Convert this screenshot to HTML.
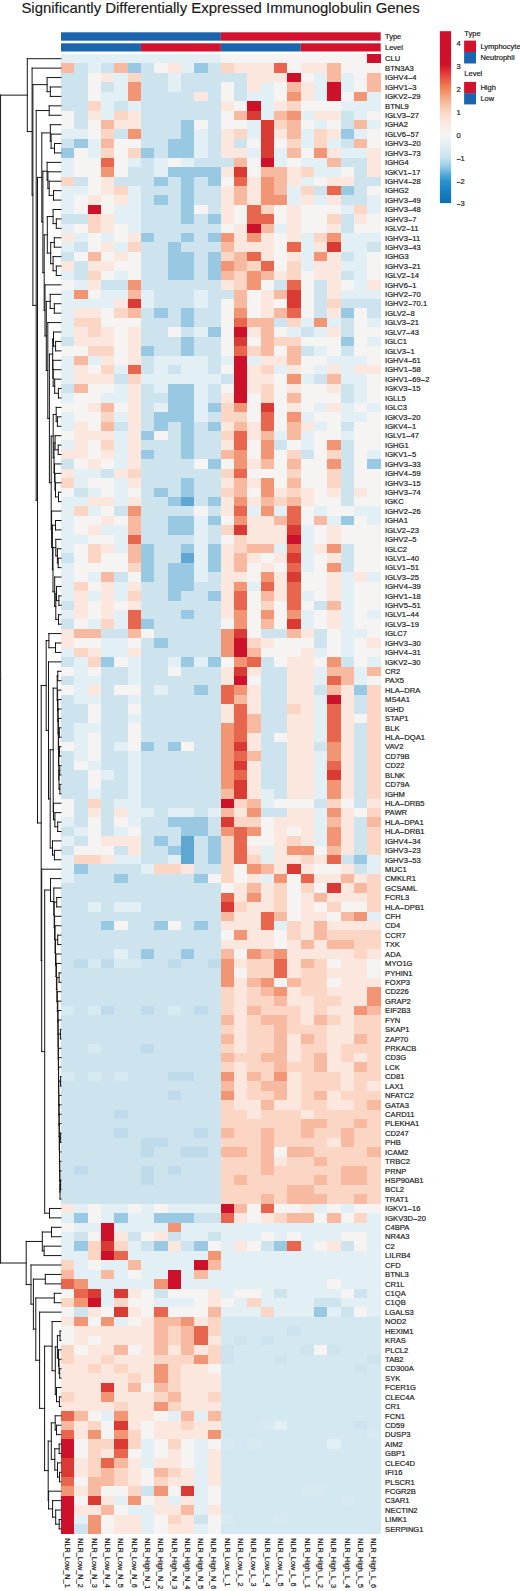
<!DOCTYPE html><html><head><meta charset="utf-8"><style>html,body{margin:0;padding:0;background:#fff;width:520px;height:1591px;overflow:hidden}text{font-family:"Liberation Sans",Arial,sans-serif}.s{font-size:7.5px;fill:#222;stroke:#222;stroke-width:.2px}.r{font-size:7.6px;fill:#222;stroke:#222;stroke-width:.2px}.c{font-size:7.3px;fill:#222;stroke:#222;stroke-width:.2px}.h{font-size:14.95px;fill:#1a1a1a;stroke:#1a1a1a;stroke-width:.15px}</style></head><body><svg width="520" height="1591" viewBox="0 0 520 1591" style="display:block">
<rect width="520" height="1591" fill="#fff"/>
<text x="21.4" y="13.4" class="h">Significantly Differentially Expressed Immunoglobulin Genes</text>
<rect x="61.0" y="32.3" width="159.85" height="8.4" fill="#1a65ae"/>
<rect x="220.85" y="32.3" width="159.85" height="8.4" fill="#d3132e"/>
<rect x="61.00" y="43.3" width="79.93" height="8.2" fill="#1a65ae"/>
<rect x="140.93" y="43.3" width="79.92" height="8.2" fill="#d3132e"/>
<rect x="220.85" y="43.3" width="79.92" height="8.2" fill="#1a65ae"/>
<rect x="300.77" y="43.3" width="79.93" height="8.2" fill="#d3132e"/>
<text x="385" y="39.2" class="s">Type</text>
<text x="385" y="50.1" class="s">Level</text>
<g shape-rendering="crispEdges">
<path fill="#e2eff5" d="M61 54H74.32V63.42H61zM74.32 54H87.64V63.42H74.32zM87.64 54H100.96V63.42H87.64zM100.96 54H114.28V63.42H100.96zM114.28 54H127.6V63.42H114.28zM127.6 54H140.93V63.42H127.6zM140.93 54H154.25V63.42H140.93zM154.25 54H167.57V63.42H154.25zM167.57 54H180.89V63.42H167.57zM180.89 54H194.21V63.42H180.89zM194.21 54H207.53V63.42H194.21zM207.53 54H220.85V63.42H207.53zM87.64 63.42H100.96V72.85H87.64zM180.89 63.42H194.21V72.85H180.89zM114.28 72.85H127.6V82.27H114.28zM167.57 72.85H180.89V82.27H167.57zM314.1 72.85H327.42V82.27H314.1zM340.74 72.85H354.06V82.27H340.74zM114.28 82.27H127.6V91.7H114.28zM167.57 82.27H180.89V91.7H167.57zM260.81 82.27H274.13V91.7H260.81zM314.1 82.27H327.42V91.7H314.1zM340.74 82.27H354.06V91.7H340.74zM100.96 91.7H114.28V101.12H100.96zM114.28 91.7H127.6V101.12H114.28zM247.49 91.7H260.81V101.12H247.49zM260.81 91.7H274.13V101.12H260.81zM314.1 91.7H327.42V101.12H314.1zM367.38 91.7H380.7V101.12H367.38zM100.96 101.12H114.28V110.55H100.96zM127.6 101.12H140.93V110.55H127.6zM260.81 101.12H274.13V110.55H260.81zM340.74 101.12H354.06V110.55H340.74zM354.06 101.12H367.38V110.55H354.06zM367.38 101.12H380.7V110.55H367.38zM100.96 110.55H114.28V119.97H100.96zM260.81 110.55H274.13V119.97H260.81zM300.77 110.55H314.1V119.97H300.77zM354.06 110.55H367.38V119.97H354.06zM247.49 119.97H260.81V129.39H247.49zM314.1 119.97H327.42V129.39H314.1zM367.38 119.97H380.7V129.39H367.38zM61 129.39H74.32V138.82H61zM74.32 129.39H87.64V138.82H74.32zM194.21 129.39H207.53V138.82H194.21zM247.49 129.39H260.81V138.82H247.49zM300.77 129.39H314.1V138.82H300.77zM354.06 129.39H367.38V138.82H354.06zM87.64 138.82H100.96V148.24H87.64zM194.21 138.82H207.53V148.24H194.21zM300.77 138.82H314.1V148.24H300.77zM327.42 138.82H340.74V148.24H327.42zM87.64 148.24H100.96V157.67H87.64zM194.21 148.24H207.53V157.67H194.21zM247.49 148.24H260.81V157.67H247.49zM274.13 148.24H287.45V157.67H274.13zM340.74 148.24H354.06V157.67H340.74zM354.06 148.24H367.38V157.67H354.06zM61 157.67H74.32V167.09H61zM127.6 157.67H140.93V167.09H127.6zM154.25 157.67H167.57V167.09H154.25zM180.89 157.67H194.21V167.09H180.89zM274.13 157.67H287.45V167.09H274.13zM300.77 157.67H314.1V167.09H300.77zM314.1 157.67H327.42V167.09H314.1zM61 167.09H74.32V176.51H61zM154.25 167.09H167.57V176.51H154.25zM314.1 167.09H327.42V176.51H314.1zM327.42 167.09H340.74V176.51H327.42zM300.77 176.51H314.1V185.94H300.77zM61 185.94H74.32V195.36H61zM74.32 185.94H87.64V195.36H74.32zM127.6 185.94H140.93V195.36H127.6zM287.45 185.94H300.77V195.36H287.45zM61 195.36H74.32V204.79H61zM127.6 195.36H140.93V204.79H127.6zM287.45 195.36H300.77V204.79H287.45zM314.1 195.36H327.42V204.79H314.1zM367.38 195.36H380.7V204.79H367.38zM61 204.79H74.32V214.21H61zM114.28 204.79H127.6V214.21H114.28zM127.6 204.79H140.93V214.21H127.6zM340.74 204.79H354.06V214.21H340.74zM367.38 204.79H380.7V214.21H367.38zM114.28 214.21H127.6V223.64H114.28zM127.6 214.21H140.93V223.64H127.6zM61 223.64H74.32V233.06H61zM127.6 223.64H140.93V233.06H127.6zM274.13 223.64H287.45V233.06H274.13zM74.32 233.06H87.64V242.48H74.32zM100.96 233.06H114.28V242.48H100.96zM300.77 233.06H314.1V242.48H300.77zM340.74 233.06H354.06V242.48H340.74zM354.06 233.06H367.38V242.48H354.06zM367.38 233.06H380.7V242.48H367.38zM61 242.48H74.32V251.91H61zM114.28 242.48H127.6V251.91H114.28zM300.77 242.48H314.1V251.91H300.77zM340.74 242.48H354.06V251.91H340.74zM354.06 242.48H367.38V251.91H354.06zM300.77 251.91H314.1V261.33H300.77zM354.06 251.91H367.38V261.33H354.06zM300.77 261.33H314.1V270.76H300.77zM340.74 261.33H354.06V270.76H340.74zM354.06 261.33H367.38V270.76H354.06zM61 270.76H74.32V280.18H61zM114.28 270.76H127.6V280.18H114.28zM354.06 270.76H367.38V280.18H354.06zM74.32 280.18H87.64V289.61H74.32zM354.06 280.18H367.38V289.61H354.06zM61 289.61H74.32V299.03H61zM100.96 289.61H114.28V299.03H100.96zM114.28 289.61H127.6V299.03H114.28zM140.93 289.61H154.25V299.03H140.93zM194.21 289.61H207.53V299.03H194.21zM340.74 289.61H354.06V299.03H340.74zM354.06 289.61H367.38V299.03H354.06zM367.38 289.61H380.7V299.03H367.38zM61 299.03H74.32V308.45H61zM74.32 299.03H87.64V308.45H74.32zM87.64 299.03H100.96V308.45H87.64zM100.96 299.03H114.28V308.45H100.96zM140.93 299.03H154.25V308.45H140.93zM194.21 299.03H207.53V308.45H194.21zM61 308.45H74.32V317.88H61zM61 317.88H74.32V327.3H61zM300.77 317.88H314.1V327.3H300.77zM327.42 317.88H340.74V327.3H327.42zM367.38 317.88H380.7V327.3H367.38zM61 327.3H74.32V336.73H61zM194.21 327.3H207.53V336.73H194.21zM287.45 327.3H300.77V336.73H287.45zM314.1 327.3H327.42V336.73H314.1zM367.38 336.73H380.7V346.15H367.38zM314.1 346.15H327.42V355.57H314.1zM61 355.57H74.32V365H61zM87.64 355.57H100.96V365H87.64zM154.25 355.57H167.57V365H154.25zM167.57 355.57H180.89V365H167.57zM180.89 355.57H194.21V365H180.89zM194.21 355.57H207.53V365H194.21zM220.85 355.57H234.17V365H220.85zM247.49 355.57H260.81V365H247.49zM327.42 355.57H340.74V365H327.42zM340.74 355.57H354.06V365H340.74zM354.06 355.57H367.38V365H354.06zM61 365H74.32V374.42H61zM114.28 365H127.6V374.42H114.28zM154.25 365H167.57V374.42H154.25zM180.89 365H194.21V374.42H180.89zM194.21 365H207.53V374.42H194.21zM274.13 365H287.45V374.42H274.13zM314.1 365H327.42V374.42H314.1zM340.74 365H354.06V374.42H340.74zM61 374.42H74.32V383.85H61zM140.93 374.42H154.25V383.85H140.93zM154.25 374.42H167.57V383.85H154.25zM167.57 374.42H180.89V383.85H167.57zM180.89 374.42H194.21V383.85H180.89zM194.21 374.42H207.53V383.85H194.21zM207.53 374.42H220.85V383.85H207.53zM300.77 374.42H314.1V383.85H300.77zM340.74 374.42H354.06V383.85H340.74zM354.06 374.42H367.38V383.85H354.06zM114.28 383.85H127.6V393.27H114.28zM154.25 383.85H167.57V393.27H154.25zM194.21 383.85H207.53V393.27H194.21zM354.06 383.85H367.38V393.27H354.06zM61 393.27H74.32V402.7H61zM100.96 393.27H114.28V402.7H100.96zM114.28 393.27H127.6V402.7H114.28zM194.21 393.27H207.53V402.7H194.21zM354.06 393.27H367.38V402.7H354.06zM154.25 402.7H167.57V412.12H154.25zM194.21 402.7H207.53V412.12H194.21zM314.1 402.7H327.42V412.12H314.1zM340.74 402.7H354.06V412.12H340.74zM367.38 402.7H380.7V412.12H367.38zM61 412.12H74.32V421.54H61zM114.28 412.12H127.6V421.54H114.28zM194.21 412.12H207.53V421.54H194.21zM300.77 412.12H314.1V421.54H300.77zM340.74 412.12H354.06V421.54H340.74zM354.06 412.12H367.38V421.54H354.06zM61 421.54H74.32V430.97H61zM314.1 421.54H327.42V430.97H314.1zM114.28 430.97H127.6V440.39H114.28zM274.13 430.97H287.45V440.39H274.13zM300.77 430.97H314.1V440.39H300.77zM340.74 430.97H354.06V440.39H340.74zM61 440.39H74.32V449.82H61zM114.28 440.39H127.6V449.82H114.28zM300.77 440.39H314.1V449.82H300.77zM114.28 449.82H127.6V459.24H114.28zM367.38 449.82H380.7V459.24H367.38zM114.28 459.24H127.6V468.66H114.28zM74.32 468.66H87.64V478.09H74.32zM87.64 468.66H100.96V478.09H87.64zM74.32 478.09H87.64V487.51H74.32zM114.28 478.09H127.6V487.51H114.28zM87.64 487.51H100.96V496.94H87.64zM114.28 487.51H127.6V496.94H114.28zM61 496.94H74.32V506.36H61zM74.32 496.94H87.64V506.36H74.32zM114.28 496.94H127.6V506.36H114.28zM61 506.36H74.32V515.79H61zM87.64 506.36H100.96V515.79H87.64zM247.49 506.36H260.81V515.79H247.49zM274.13 506.36H287.45V515.79H274.13zM314.1 506.36H327.42V515.79H314.1zM354.06 506.36H367.38V515.79H354.06zM367.38 506.36H380.7V515.79H367.38zM61 515.79H74.32V525.21H61zM194.21 515.79H207.53V525.21H194.21zM327.42 515.79H340.74V525.21H327.42zM367.38 515.79H380.7V525.21H367.38zM61 525.21H74.32V534.63H61zM100.96 525.21H114.28V534.63H100.96zM114.28 525.21H127.6V534.63H114.28zM194.21 525.21H207.53V534.63H194.21zM300.77 525.21H314.1V534.63H300.77zM61 534.63H74.32V544.06H61zM74.32 534.63H87.64V544.06H74.32zM114.28 534.63H127.6V544.06H114.28zM194.21 534.63H207.53V544.06H194.21zM300.77 534.63H314.1V544.06H300.77zM61 544.06H74.32V553.48H61zM114.28 544.06H127.6V553.48H114.28zM194.21 544.06H207.53V553.48H194.21zM274.13 544.06H287.45V553.48H274.13zM300.77 544.06H314.1V553.48H300.77zM194.21 553.48H207.53V562.91H194.21zM300.77 553.48H314.1V562.91H300.77zM61 562.91H74.32V572.33H61zM194.21 562.91H207.53V572.33H194.21zM300.77 562.91H314.1V572.33H300.77zM61 572.33H74.32V581.76H61zM87.64 572.33H100.96V581.76H87.64zM194.21 572.33H207.53V581.76H194.21zM340.74 572.33H354.06V581.76H340.74zM367.38 572.33H380.7V581.76H367.38zM61 581.76H74.32V591.18H61zM114.28 581.76H127.6V591.18H114.28zM247.49 581.76H260.81V591.18H247.49zM340.74 581.76H354.06V591.18H340.74zM61 591.18H74.32V600.6H61zM87.64 591.18H100.96V600.6H87.64zM114.28 591.18H127.6V600.6H114.28zM300.77 591.18H314.1V600.6H300.77zM340.74 591.18H354.06V600.6H340.74zM340.74 600.6H354.06V610.03H340.74zM61 610.03H74.32V619.45H61zM114.28 610.03H127.6V619.45H114.28zM300.77 610.03H314.1V619.45H300.77zM340.74 610.03H354.06V619.45H340.74zM367.38 610.03H380.7V619.45H367.38zM87.64 619.45H100.96V628.88H87.64zM114.28 619.45H127.6V628.88H114.28zM300.77 619.45H314.1V628.88H300.77zM340.74 619.45H354.06V628.88H340.74zM340.74 628.88H354.06V638.3H340.74zM354.06 628.88H367.38V638.3H354.06zM100.96 638.3H114.28V647.72H100.96zM114.28 638.3H127.6V647.72H114.28zM340.74 638.3H354.06V647.72H340.74zM61 647.72H74.32V657.15H61zM100.96 647.72H114.28V657.15H100.96zM114.28 647.72H127.6V657.15H114.28zM314.1 647.72H327.42V657.15H314.1zM340.74 647.72H354.06V657.15H340.74zM74.32 657.15H87.64V666.57H74.32zM127.6 657.15H140.93V666.57H127.6zM167.57 657.15H180.89V666.57H167.57zM194.21 657.15H207.53V666.57H194.21zM367.38 657.15H380.7V666.57H367.38zM74.32 666.57H87.64V676H74.32zM127.6 666.57H140.93V676H127.6zM314.1 666.57H327.42V676H314.1zM354.06 666.57H367.38V676H354.06zM74.32 676H87.64V685.42H74.32zM87.64 676H100.96V685.42H87.64zM127.6 676H140.93V685.42H127.6zM314.1 676H327.42V685.42H314.1zM354.06 676H367.38V685.42H354.06zM74.32 685.42H87.64V694.85H74.32zM154.25 685.42H167.57V694.85H154.25zM74.32 694.85H87.64V704.27H74.32zM87.64 694.85H100.96V704.27H87.64zM127.6 694.85H140.93V704.27H127.6zM314.1 694.85H327.42V704.27H314.1zM314.1 704.27H327.42V713.69H314.1zM127.6 713.69H140.93V723.12H127.6zM314.1 713.69H327.42V723.12H314.1zM74.32 723.12H87.64V732.54H74.32zM87.64 723.12H100.96V732.54H87.64zM314.1 723.12H327.42V732.54H314.1zM74.32 732.54H87.64V741.97H74.32zM314.1 732.54H327.42V741.97H314.1zM74.32 741.97H87.64V751.39H74.32zM114.28 741.97H127.6V751.39H114.28zM74.32 751.39H87.64V760.82H74.32zM127.6 751.39H140.93V760.82H127.6zM314.1 751.39H327.42V760.82H314.1zM87.64 760.82H100.96V770.24H87.64zM127.6 760.82H140.93V770.24H127.6zM314.1 760.82H327.42V770.24H314.1zM100.96 770.24H114.28V779.66H100.96zM127.6 770.24H140.93V779.66H127.6zM314.1 770.24H327.42V779.66H314.1zM127.6 779.66H140.93V789.09H127.6zM314.1 779.66H327.42V789.09H314.1zM87.64 789.09H100.96V798.51H87.64zM127.6 789.09H140.93V798.51H127.6zM260.81 789.09H274.13V798.51H260.81zM314.1 789.09H327.42V798.51H314.1zM114.28 798.51H127.6V807.94H114.28zM127.6 798.51H140.93V807.94H127.6zM260.81 798.51H274.13V807.94H260.81zM127.6 807.94H140.93V817.36H127.6zM140.93 807.94H154.25V817.36H140.93zM167.57 807.94H180.89V817.36H167.57zM180.89 807.94H194.21V817.36H180.89zM207.53 807.94H220.85V817.36H207.53zM314.1 807.94H327.42V817.36H314.1zM61 817.36H74.32V826.78H61zM127.6 817.36H140.93V826.78H127.6zM314.1 817.36H327.42V826.78H314.1zM74.32 826.78H87.64V836.21H74.32zM114.28 826.78H127.6V836.21H114.28zM314.1 826.78H327.42V836.21H314.1zM61 836.21H74.32V845.63H61zM314.1 836.21H327.42V845.63H314.1zM260.81 845.63H274.13V855.06H260.81zM61 855.06H74.32V864.48H61zM114.28 855.06H127.6V864.48H114.28zM127.6 855.06H140.93V864.48H127.6zM167.57 855.06H180.89V864.48H167.57zM260.81 855.06H274.13V864.48H260.81zM367.38 855.06H380.7V864.48H367.38zM61 864.48H74.32V873.91H61zM140.93 864.48H154.25V873.91H140.93zM367.38 864.48H380.7V873.91H367.38zM61 873.91H74.32V883.33H61zM260.81 873.91H274.13V883.33H260.81zM87.64 902.18H100.96V911.6H87.64zM114.28 902.18H127.6V911.6H114.28zM127.6 902.18H140.93V911.6H127.6zM367.38 911.6H380.7V921.03H367.38zM274.13 921.03H287.45V930.45H274.13zM114.28 949.3H127.6V958.72H114.28zM74.32 1203.75H87.64V1213.18H74.32zM100.96 1203.75H114.28V1213.18H100.96zM114.28 1203.75H127.6V1213.18H114.28zM140.93 1203.75H154.25V1213.18H140.93zM167.57 1203.75H180.89V1213.18H167.57zM180.89 1203.75H194.21V1213.18H180.89zM194.21 1203.75H207.53V1213.18H194.21zM207.53 1203.75H220.85V1213.18H207.53zM314.1 1203.75H327.42V1213.18H314.1zM340.74 1203.75H354.06V1213.18H340.74zM61 1213.18H74.32V1222.6H61zM100.96 1213.18H114.28V1222.6H100.96zM127.6 1213.18H140.93V1222.6H127.6zM140.93 1213.18H154.25V1222.6H140.93zM367.38 1213.18H380.7V1222.6H367.38zM74.32 1222.6H87.64V1232.03H74.32zM87.64 1222.6H100.96V1232.03H87.64zM114.28 1222.6H127.6V1232.03H114.28zM127.6 1222.6H140.93V1232.03H127.6zM140.93 1222.6H154.25V1232.03H140.93zM154.25 1222.6H167.57V1232.03H154.25zM180.89 1222.6H194.21V1232.03H180.89zM194.21 1222.6H207.53V1232.03H194.21zM207.53 1222.6H220.85V1232.03H207.53zM220.85 1222.6H234.17V1232.03H220.85zM234.17 1222.6H247.49V1232.03H234.17zM247.49 1222.6H260.81V1232.03H247.49zM260.81 1222.6H274.13V1232.03H260.81zM274.13 1222.6H287.45V1232.03H274.13zM287.45 1222.6H300.77V1232.03H287.45zM300.77 1222.6H314.1V1232.03H300.77zM314.1 1222.6H327.42V1232.03H314.1zM327.42 1222.6H340.74V1232.03H327.42zM340.74 1222.6H354.06V1232.03H340.74zM354.06 1222.6H367.38V1232.03H354.06zM367.38 1222.6H380.7V1232.03H367.38zM61 1232.03H74.32V1241.45H61zM180.89 1232.03H194.21V1241.45H180.89zM194.21 1232.03H207.53V1241.45H194.21zM220.85 1232.03H234.17V1241.45H220.85zM234.17 1232.03H247.49V1241.45H234.17zM247.49 1232.03H260.81V1241.45H247.49zM274.13 1232.03H287.45V1241.45H274.13zM300.77 1232.03H314.1V1241.45H300.77zM314.1 1232.03H327.42V1241.45H314.1zM327.42 1232.03H340.74V1241.45H327.42zM367.38 1232.03H380.7V1241.45H367.38zM61 1241.45H74.32V1250.87H61zM127.6 1241.45H140.93V1250.87H127.6zM220.85 1241.45H234.17V1250.87H220.85zM300.77 1241.45H314.1V1250.87H300.77zM367.38 1241.45H380.7V1250.87H367.38zM61 1250.87H74.32V1260.3H61zM74.32 1250.87H87.64V1260.3H74.32zM127.6 1250.87H140.93V1260.3H127.6zM140.93 1250.87H154.25V1260.3H140.93zM154.25 1250.87H167.57V1260.3H154.25zM167.57 1250.87H180.89V1260.3H167.57zM180.89 1250.87H194.21V1260.3H180.89zM194.21 1250.87H207.53V1260.3H194.21zM220.85 1250.87H234.17V1260.3H220.85zM234.17 1250.87H247.49V1260.3H234.17zM247.49 1250.87H260.81V1260.3H247.49zM260.81 1250.87H274.13V1260.3H260.81zM274.13 1250.87H287.45V1260.3H274.13zM287.45 1250.87H300.77V1260.3H287.45zM300.77 1250.87H314.1V1260.3H300.77zM314.1 1250.87H327.42V1260.3H314.1zM327.42 1250.87H340.74V1260.3H327.42zM340.74 1250.87H354.06V1260.3H340.74zM354.06 1250.87H367.38V1260.3H354.06zM367.38 1250.87H380.7V1260.3H367.38zM74.32 1260.3H87.64V1269.72H74.32zM100.96 1260.3H114.28V1269.72H100.96zM114.28 1260.3H127.6V1269.72H114.28zM140.93 1260.3H154.25V1269.72H140.93zM154.25 1260.3H167.57V1269.72H154.25zM167.57 1260.3H180.89V1269.72H167.57zM180.89 1260.3H194.21V1269.72H180.89zM220.85 1260.3H234.17V1269.72H220.85zM234.17 1260.3H247.49V1269.72H234.17zM247.49 1260.3H260.81V1269.72H247.49zM260.81 1260.3H274.13V1269.72H260.81zM274.13 1260.3H287.45V1269.72H274.13zM287.45 1260.3H300.77V1269.72H287.45zM300.77 1260.3H314.1V1269.72H300.77zM314.1 1260.3H327.42V1269.72H314.1zM327.42 1260.3H340.74V1269.72H327.42zM340.74 1260.3H354.06V1269.72H340.74zM354.06 1260.3H367.38V1269.72H354.06zM367.38 1260.3H380.7V1269.72H367.38zM74.32 1269.72H87.64V1279.15H74.32zM87.64 1269.72H100.96V1279.15H87.64zM114.28 1269.72H127.6V1279.15H114.28zM140.93 1269.72H154.25V1279.15H140.93zM154.25 1269.72H167.57V1279.15H154.25zM180.89 1269.72H194.21V1279.15H180.89zM207.53 1269.72H220.85V1279.15H207.53zM220.85 1269.72H234.17V1279.15H220.85zM234.17 1269.72H247.49V1279.15H234.17zM247.49 1269.72H260.81V1279.15H247.49zM260.81 1269.72H274.13V1279.15H260.81zM274.13 1269.72H287.45V1279.15H274.13zM287.45 1269.72H300.77V1279.15H287.45zM300.77 1269.72H314.1V1279.15H300.77zM314.1 1269.72H327.42V1279.15H314.1zM327.42 1269.72H340.74V1279.15H327.42zM340.74 1269.72H354.06V1279.15H340.74zM354.06 1269.72H367.38V1279.15H354.06zM367.38 1269.72H380.7V1279.15H367.38zM87.64 1279.15H100.96V1288.57H87.64zM100.96 1279.15H114.28V1288.57H100.96zM114.28 1279.15H127.6V1288.57H114.28zM127.6 1279.15H140.93V1288.57H127.6zM140.93 1279.15H154.25V1288.57H140.93zM180.89 1279.15H194.21V1288.57H180.89zM194.21 1279.15H207.53V1288.57H194.21zM207.53 1279.15H220.85V1288.57H207.53zM220.85 1279.15H234.17V1288.57H220.85zM234.17 1279.15H247.49V1288.57H234.17zM247.49 1279.15H260.81V1288.57H247.49zM260.81 1279.15H274.13V1288.57H260.81zM274.13 1279.15H287.45V1288.57H274.13zM287.45 1279.15H300.77V1288.57H287.45zM300.77 1279.15H314.1V1288.57H300.77zM314.1 1279.15H327.42V1288.57H314.1zM340.74 1279.15H354.06V1288.57H340.74zM354.06 1279.15H367.38V1288.57H354.06zM367.38 1279.15H380.7V1288.57H367.38zM100.96 1288.57H114.28V1297.99H100.96zM220.85 1288.57H234.17V1297.99H220.85zM260.81 1288.57H274.13V1297.99H260.81zM287.45 1288.57H300.77V1297.99H287.45zM300.77 1288.57H314.1V1297.99H300.77zM314.1 1288.57H327.42V1297.99H314.1zM327.42 1288.57H340.74V1297.99H327.42zM367.38 1288.57H380.7V1297.99H367.38zM100.96 1297.99H114.28V1307.42H100.96zM154.25 1297.99H167.57V1307.42H154.25zM167.57 1297.99H180.89V1307.42H167.57zM180.89 1297.99H194.21V1307.42H180.89zM234.17 1297.99H247.49V1307.42H234.17zM260.81 1297.99H274.13V1307.42H260.81zM274.13 1297.99H287.45V1307.42H274.13zM287.45 1297.99H300.77V1307.42H287.45zM300.77 1297.99H314.1V1307.42H300.77zM340.74 1297.99H354.06V1307.42H340.74zM354.06 1297.99H367.38V1307.42H354.06zM367.38 1297.99H380.7V1307.42H367.38zM220.85 1307.42H234.17V1316.84H220.85zM234.17 1307.42H247.49V1316.84H234.17zM247.49 1307.42H260.81V1316.84H247.49zM274.13 1307.42H287.45V1316.84H274.13zM287.45 1307.42H300.77V1316.84H287.45zM300.77 1307.42H314.1V1316.84H300.77zM327.42 1307.42H340.74V1316.84H327.42zM367.38 1307.42H380.7V1316.84H367.38zM114.28 1316.84H127.6V1326.27H114.28zM100.96 1411.09H114.28V1420.51H100.96zM167.57 1411.09H180.89V1420.51H167.57zM194.21 1411.09H207.53V1420.51H194.21zM274.13 1420.51H287.45V1429.93H274.13zM140.93 1439.36H154.25V1448.78H140.93zM194.21 1439.36H207.53V1448.78H194.21zM327.42 1439.36H340.74V1448.78H327.42zM140.93 1448.78H154.25V1458.21H140.93zM194.21 1448.78H207.53V1458.21H194.21zM140.93 1458.21H154.25V1467.63H140.93zM194.21 1458.21H207.53V1467.63H194.21zM194.21 1467.63H207.53V1477.05H194.21zM194.21 1477.05H207.53V1486.48H194.21zM194.21 1486.48H207.53V1495.9H194.21zM114.28 1495.9H127.6V1505.33H114.28zM167.57 1495.9H180.89V1505.33H167.57zM194.21 1495.9H207.53V1505.33H194.21zM127.6 1505.33H140.93V1514.75H127.6zM140.93 1505.33H154.25V1514.75H140.93zM194.21 1505.33H207.53V1514.75H194.21zM74.32 1514.75H87.64V1524.18H74.32zM140.93 1514.75H154.25V1524.18H140.93zM140.93 1524.18H154.25V1533.6H140.93zM194.21 1524.18H207.53V1533.6H194.21z"/>
<path fill="#f6f4f3" d="M220.85 54H234.17V63.42H220.85zM234.17 54H247.49V63.42H234.17zM247.49 54H260.81V63.42H247.49zM260.81 54H274.13V63.42H260.81zM274.13 54H287.45V63.42H274.13zM287.45 54H300.77V63.42H287.45zM300.77 54H314.1V63.42H300.77zM314.1 54H327.42V63.42H314.1zM327.42 54H340.74V63.42H327.42zM340.74 54H354.06V63.42H340.74zM354.06 54H367.38V63.42H354.06zM154.25 63.42H167.57V72.85H154.25zM287.45 63.42H300.77V72.85H287.45zM340.74 63.42H354.06V72.85H340.74zM354.06 63.42H367.38V72.85H354.06zM367.38 63.42H380.7V72.85H367.38zM87.64 72.85H100.96V82.27H87.64zM300.77 72.85H314.1V82.27H300.77zM354.06 72.85H367.38V82.27H354.06zM87.64 82.27H100.96V91.7H87.64zM220.85 82.27H234.17V91.7H220.85zM274.13 82.27H287.45V91.7H274.13zM354.06 82.27H367.38V91.7H354.06zM87.64 91.7H100.96V101.12H87.64zM220.85 91.7H234.17V101.12H220.85zM274.13 91.7H287.45V101.12H274.13zM340.74 91.7H354.06V101.12H340.74zM234.17 101.12H247.49V110.55H234.17zM300.77 101.12H314.1V110.55H300.77zM314.1 101.12H327.42V110.55H314.1zM327.42 101.12H340.74V110.55H327.42zM61 110.55H74.32V119.97H61zM220.85 110.55H234.17V119.97H220.85zM367.38 110.55H380.7V119.97H367.38zM61 119.97H74.32V129.39H61zM87.64 119.97H100.96V129.39H87.64zM194.21 119.97H207.53V129.39H194.21zM220.85 119.97H234.17V129.39H220.85zM234.17 119.97H247.49V129.39H234.17zM300.77 119.97H314.1V129.39H300.77zM327.42 119.97H340.74V129.39H327.42zM87.64 129.39H100.96V138.82H87.64zM367.38 129.39H380.7V138.82H367.38zM114.28 138.82H127.6V148.24H114.28zM127.6 138.82H140.93V148.24H127.6zM247.49 138.82H260.81V148.24H247.49zM274.13 138.82H287.45V148.24H274.13zM367.38 138.82H380.7V148.24H367.38zM74.32 148.24H87.64V157.67H74.32zM114.28 148.24H127.6V157.67H114.28zM300.77 148.24H314.1V157.67H300.77zM74.32 157.67H87.64V167.09H74.32zM87.64 157.67H100.96V167.09H87.64zM114.28 157.67H127.6V167.09H114.28zM167.57 157.67H180.89V167.09H167.57zM247.49 157.67H260.81V167.09H247.49zM287.45 157.67H300.77V167.09H287.45zM74.32 167.09H87.64V176.51H74.32zM87.64 167.09H100.96V176.51H87.64zM114.28 167.09H127.6V176.51H114.28zM247.49 167.09H260.81V176.51H247.49zM340.74 167.09H354.06V176.51H340.74zM87.64 176.51H100.96V185.94H87.64zM220.85 176.51H234.17V185.94H220.85zM314.1 176.51H327.42V185.94H314.1zM87.64 185.94H100.96V195.36H87.64zM367.38 185.94H380.7V195.36H367.38zM74.32 195.36H87.64V204.79H74.32zM100.96 195.36H114.28V204.79H100.96zM74.32 204.79H87.64V214.21H74.32zM100.96 204.79H114.28V214.21H100.96zM194.21 204.79H207.53V214.21H194.21zM234.17 204.79H247.49V214.21H234.17zM274.13 204.79H287.45V214.21H274.13zM300.77 204.79H314.1V214.21H300.77zM314.1 204.79H327.42V214.21H314.1zM327.42 204.79H340.74V214.21H327.42zM234.17 214.21H247.49V223.64H234.17zM274.13 214.21H287.45V223.64H274.13zM300.77 214.21H314.1V223.64H300.77zM314.1 214.21H327.42V223.64H314.1zM367.38 214.21H380.7V223.64H367.38zM74.32 223.64H87.64V233.06H74.32zM114.28 223.64H127.6V233.06H114.28zM220.85 223.64H234.17V233.06H220.85zM300.77 223.64H314.1V233.06H300.77zM314.1 223.64H327.42V233.06H314.1zM354.06 223.64H367.38V233.06H354.06zM367.38 223.64H380.7V233.06H367.38zM87.64 233.06H100.96V242.48H87.64zM114.28 233.06H127.6V242.48H114.28zM274.13 233.06H287.45V242.48H274.13zM87.64 242.48H100.96V251.91H87.64zM274.13 242.48H287.45V251.91H274.13zM74.32 251.91H87.64V261.33H74.32zM100.96 251.91H114.28V261.33H100.96zM127.6 251.91H140.93V261.33H127.6zM274.13 251.91H287.45V261.33H274.13zM367.38 251.91H380.7V261.33H367.38zM114.28 261.33H127.6V270.76H114.28zM127.6 261.33H140.93V270.76H127.6zM274.13 261.33H287.45V270.76H274.13zM367.38 261.33H380.7V270.76H367.38zM100.96 270.76H114.28V280.18H100.96zM127.6 270.76H140.93V280.18H127.6zM300.77 270.76H314.1V280.18H300.77zM367.38 270.76H380.7V280.18H367.38zM61 280.18H74.32V289.61H61zM260.81 280.18H274.13V289.61H260.81zM300.77 280.18H314.1V289.61H300.77zM340.74 280.18H354.06V289.61H340.74zM87.64 289.61H100.96V299.03H87.64zM247.49 289.61H260.81V299.03H247.49zM300.77 289.61H314.1V299.03H300.77zM220.85 299.03H234.17V308.45H220.85zM247.49 299.03H260.81V308.45H247.49zM274.13 299.03H287.45V308.45H274.13zM300.77 299.03H314.1V308.45H300.77zM100.96 308.45H114.28V317.88H100.96zM220.85 308.45H234.17V317.88H220.85zM247.49 308.45H260.81V317.88H247.49zM300.77 308.45H314.1V317.88H300.77zM354.06 308.45H367.38V317.88H354.06zM100.96 317.88H114.28V327.3H100.96zM114.28 317.88H127.6V327.3H114.28zM127.6 317.88H140.93V327.3H127.6zM220.85 317.88H234.17V327.3H220.85zM354.06 317.88H367.38V327.3H354.06zM114.28 327.3H127.6V336.73H114.28zM167.57 327.3H180.89V336.73H167.57zM220.85 327.3H234.17V336.73H220.85zM274.13 327.3H287.45V336.73H274.13zM354.06 327.3H367.38V336.73H354.06zM367.38 327.3H380.7V336.73H367.38zM114.28 336.73H127.6V346.15H114.28zM220.85 336.73H234.17V346.15H220.85zM247.49 336.73H260.81V346.15H247.49zM300.77 336.73H314.1V346.15H300.77zM314.1 336.73H327.42V346.15H314.1zM327.42 336.73H340.74V346.15H327.42zM354.06 336.73H367.38V346.15H354.06zM61 346.15H74.32V355.57H61zM74.32 346.15H87.64V355.57H74.32zM114.28 346.15H127.6V355.57H114.28zM220.85 346.15H234.17V355.57H220.85zM274.13 346.15H287.45V355.57H274.13zM327.42 346.15H340.74V355.57H327.42zM354.06 346.15H367.38V355.57H354.06zM367.38 346.15H380.7V355.57H367.38zM114.28 355.57H127.6V365H114.28zM300.77 355.57H314.1V365H300.77zM314.1 355.57H327.42V365H314.1zM367.38 355.57H380.7V365H367.38zM87.64 365H100.96V374.42H87.64zM220.85 365H234.17V374.42H220.85zM300.77 365H314.1V374.42H300.77zM274.13 374.42H287.45V383.85H274.13zM367.38 374.42H380.7V383.85H367.38zM87.64 383.85H100.96V393.27H87.64zM100.96 383.85H114.28V393.27H100.96zM220.85 383.85H234.17V393.27H220.85zM274.13 383.85H287.45V393.27H274.13zM300.77 383.85H314.1V393.27H300.77zM314.1 383.85H327.42V393.27H314.1zM367.38 383.85H380.7V393.27H367.38zM74.32 393.27H87.64V402.7H74.32zM87.64 393.27H100.96V402.7H87.64zM247.49 393.27H260.81V402.7H247.49zM274.13 393.27H287.45V402.7H274.13zM300.77 393.27H314.1V402.7H300.77zM314.1 393.27H327.42V402.7H314.1zM327.42 393.27H340.74V402.7H327.42zM367.38 393.27H380.7V402.7H367.38zM61 402.7H74.32V412.12H61zM74.32 402.7H87.64V412.12H74.32zM114.28 402.7H127.6V412.12H114.28zM247.49 402.7H260.81V412.12H247.49zM274.13 402.7H287.45V412.12H274.13zM300.77 402.7H314.1V412.12H300.77zM354.06 402.7H367.38V412.12H354.06zM74.32 412.12H87.64V421.54H74.32zM87.64 412.12H100.96V421.54H87.64zM247.49 412.12H260.81V421.54H247.49zM274.13 412.12H287.45V421.54H274.13zM314.1 412.12H327.42V421.54H314.1zM327.42 412.12H340.74V421.54H327.42zM367.38 412.12H380.7V421.54H367.38zM87.64 421.54H100.96V430.97H87.64zM274.13 421.54H287.45V430.97H274.13zM327.42 421.54H340.74V430.97H327.42zM354.06 421.54H367.38V430.97H354.06zM367.38 421.54H380.7V430.97H367.38zM61 430.97H74.32V440.39H61zM154.25 430.97H167.57V440.39H154.25zM314.1 430.97H327.42V440.39H314.1zM327.42 430.97H340.74V440.39H327.42zM354.06 430.97H367.38V440.39H354.06zM367.38 430.97H380.7V440.39H367.38zM87.64 440.39H100.96V449.82H87.64zM247.49 440.39H260.81V449.82H247.49zM287.45 440.39H300.77V449.82H287.45zM314.1 440.39H327.42V449.82H314.1zM354.06 440.39H367.38V449.82H354.06zM367.38 440.39H380.7V449.82H367.38zM87.64 449.82H100.96V459.24H87.64zM247.49 449.82H260.81V459.24H247.49zM274.13 449.82H287.45V459.24H274.13zM314.1 449.82H327.42V459.24H314.1zM354.06 449.82H367.38V459.24H354.06zM74.32 459.24H87.64V468.66H74.32zM100.96 459.24H114.28V468.66H100.96zM194.21 459.24H207.53V468.66H194.21zM220.85 459.24H234.17V468.66H220.85zM274.13 459.24H287.45V468.66H274.13zM300.77 459.24H314.1V468.66H300.77zM314.1 459.24H327.42V468.66H314.1zM354.06 459.24H367.38V468.66H354.06zM247.49 468.66H260.81V478.09H247.49zM260.81 468.66H274.13V478.09H260.81zM274.13 468.66H287.45V478.09H274.13zM300.77 468.66H314.1V478.09H300.77zM314.1 468.66H327.42V478.09H314.1zM354.06 468.66H367.38V478.09H354.06zM367.38 468.66H380.7V478.09H367.38zM87.64 478.09H100.96V487.51H87.64zM100.96 478.09H114.28V487.51H100.96zM274.13 478.09H287.45V487.51H274.13zM300.77 478.09H314.1V487.51H300.77zM314.1 478.09H327.42V487.51H314.1zM354.06 478.09H367.38V487.51H354.06zM367.38 478.09H380.7V487.51H367.38zM61 487.51H74.32V496.94H61zM100.96 487.51H114.28V496.94H100.96zM127.6 487.51H140.93V496.94H127.6zM247.49 487.51H260.81V496.94H247.49zM314.1 487.51H327.42V496.94H314.1zM367.38 487.51H380.7V496.94H367.38zM314.1 496.94H327.42V506.36H314.1zM327.42 496.94H340.74V506.36H327.42zM354.06 496.94H367.38V506.36H354.06zM367.38 496.94H380.7V506.36H367.38zM100.96 506.36H114.28V515.79H100.96zM194.21 506.36H207.53V515.79H194.21zM300.77 506.36H314.1V515.79H300.77zM327.42 506.36H340.74V515.79H327.42zM340.74 506.36H354.06V515.79H340.74zM74.32 515.79H87.64V525.21H74.32zM87.64 515.79H100.96V525.21H87.64zM114.28 515.79H127.6V525.21H114.28zM220.85 515.79H234.17V525.21H220.85zM300.77 515.79H314.1V525.21H300.77zM354.06 515.79H367.38V525.21H354.06zM74.32 525.21H87.64V534.63H74.32zM314.1 525.21H327.42V534.63H314.1zM340.74 525.21H354.06V534.63H340.74zM354.06 525.21H367.38V534.63H354.06zM367.38 525.21H380.7V534.63H367.38zM87.64 534.63H100.96V544.06H87.64zM100.96 534.63H114.28V544.06H100.96zM220.85 534.63H234.17V544.06H220.85zM314.1 534.63H327.42V544.06H314.1zM340.74 534.63H354.06V544.06H340.74zM354.06 534.63H367.38V544.06H354.06zM367.38 534.63H380.7V544.06H367.38zM74.32 544.06H87.64V553.48H74.32zM354.06 544.06H367.38V553.48H354.06zM367.38 544.06H380.7V553.48H367.38zM74.32 553.48H87.64V562.91H74.32zM100.96 553.48H114.28V562.91H100.96zM114.28 553.48H127.6V562.91H114.28zM260.81 553.48H274.13V562.91H260.81zM314.1 553.48H327.42V562.91H314.1zM354.06 553.48H367.38V562.91H354.06zM367.38 553.48H380.7V562.91H367.38zM74.32 562.91H87.64V572.33H74.32zM87.64 562.91H100.96V572.33H87.64zM100.96 562.91H114.28V572.33H100.96zM114.28 562.91H127.6V572.33H114.28zM247.49 562.91H260.81V572.33H247.49zM274.13 562.91H287.45V572.33H274.13zM314.1 562.91H327.42V572.33H314.1zM354.06 562.91H367.38V572.33H354.06zM367.38 562.91H380.7V572.33H367.38zM74.32 572.33H87.64V581.76H74.32zM127.6 572.33H140.93V581.76H127.6zM247.49 572.33H260.81V581.76H247.49zM300.77 572.33H314.1V581.76H300.77zM314.1 572.33H327.42V581.76H314.1zM87.64 581.76H100.96V591.18H87.64zM300.77 581.76H314.1V591.18H300.77zM314.1 581.76H327.42V591.18H314.1zM354.06 581.76H367.38V591.18H354.06zM367.38 581.76H380.7V591.18H367.38zM247.49 591.18H260.81V600.6H247.49zM314.1 591.18H327.42V600.6H314.1zM354.06 591.18H367.38V600.6H354.06zM367.38 591.18H380.7V600.6H367.38zM87.64 600.6H100.96V610.03H87.64zM114.28 600.6H127.6V610.03H114.28zM247.49 600.6H260.81V610.03H247.49zM274.13 600.6H287.45V610.03H274.13zM300.77 600.6H314.1V610.03H300.77zM354.06 600.6H367.38V610.03H354.06zM367.38 600.6H380.7V610.03H367.38zM87.64 610.03H100.96V619.45H87.64zM247.49 610.03H260.81V619.45H247.49zM274.13 610.03H287.45V619.45H274.13zM314.1 610.03H327.42V619.45H314.1zM354.06 610.03H367.38V619.45H354.06zM74.32 619.45H87.64V628.88H74.32zM220.85 619.45H234.17V628.88H220.85zM247.49 619.45H260.81V628.88H247.49zM274.13 619.45H287.45V628.88H274.13zM314.1 619.45H327.42V628.88H314.1zM354.06 619.45H367.38V628.88H354.06zM367.38 619.45H380.7V628.88H367.38zM140.93 628.88H154.25V638.3H140.93zM247.49 628.88H260.81V638.3H247.49zM327.42 628.88H340.74V638.3H327.42zM367.38 628.88H380.7V638.3H367.38zM74.32 638.3H87.64V647.72H74.32zM87.64 638.3H100.96V647.72H87.64zM127.6 638.3H140.93V647.72H127.6zM274.13 638.3H287.45V647.72H274.13zM287.45 638.3H300.77V647.72H287.45zM300.77 638.3H314.1V647.72H300.77zM327.42 638.3H340.74V647.72H327.42zM354.06 638.3H367.38V647.72H354.06zM260.81 647.72H274.13V657.15H260.81zM274.13 647.72H287.45V657.15H274.13zM287.45 647.72H300.77V657.15H287.45zM327.42 647.72H340.74V657.15H327.42zM354.06 647.72H367.38V657.15H354.06zM367.38 647.72H380.7V657.15H367.38zM114.28 657.15H127.6V666.57H114.28zM220.85 657.15H234.17V666.57H220.85zM274.13 657.15H287.45V666.57H274.13zM314.1 657.15H327.42V666.57H314.1zM354.06 657.15H367.38V666.57H354.06zM61 666.57H74.32V676H61zM87.64 666.57H100.96V676H87.64zM167.57 666.57H180.89V676H167.57zM247.49 676H260.81V685.42H247.49zM367.38 676H380.7V685.42H367.38zM61 685.42H74.32V694.85H61zM114.28 685.42H127.6V694.85H114.28zM127.6 685.42H140.93V694.85H127.6zM87.64 704.27H100.96V713.69H87.64zM127.6 704.27H140.93V713.69H127.6zM87.64 713.69H100.96V723.12H87.64zM354.06 713.69H367.38V723.12H354.06zM127.6 723.12H140.93V732.54H127.6zM87.64 732.54H100.96V741.97H87.64zM127.6 732.54H140.93V741.97H127.6zM274.13 732.54H287.45V741.97H274.13zM61 741.97H74.32V751.39H61zM87.64 741.97H100.96V751.39H87.64zM127.6 741.97H140.93V751.39H127.6zM180.89 741.97H194.21V751.39H180.89zM87.64 751.39H100.96V760.82H87.64zM74.32 760.82H87.64V770.24H74.32zM87.64 770.24H100.96V779.66H87.64zM87.64 779.66H100.96V789.09H87.64zM61 798.51H74.32V807.94H61zM274.13 798.51H287.45V807.94H274.13zM287.45 798.51H300.77V807.94H287.45zM300.77 798.51H314.1V807.94H300.77zM340.74 798.51H354.06V807.94H340.74zM61 807.94H74.32V817.36H61zM354.06 807.94H367.38V817.36H354.06zM87.64 817.36H100.96V826.78H87.64zM114.28 817.36H127.6V826.78H114.28zM260.81 817.36H274.13V826.78H260.81zM87.64 826.78H100.96V836.21H87.64zM127.6 826.78H140.93V836.21H127.6zM260.81 826.78H274.13V836.21H260.81zM287.45 826.78H300.77V836.21H287.45zM87.64 836.21H100.96V845.63H87.64zM247.49 836.21H260.81V845.63H247.49zM260.81 836.21H274.13V845.63H260.81zM74.32 845.63H87.64V855.06H74.32zM87.64 845.63H100.96V855.06H87.64zM100.96 845.63H114.28V855.06H100.96zM314.1 845.63H327.42V855.06H314.1zM234.17 864.48H247.49V873.91H234.17zM314.1 864.48H327.42V873.91H314.1zM327.42 864.48H340.74V873.91H327.42zM207.53 873.91H220.85V883.33H207.53zM234.17 873.91H247.49V883.33H234.17zM287.45 873.91H300.77V883.33H287.45zM220.85 883.33H234.17V892.75H220.85zM287.45 883.33H300.77V892.75H287.45zM314.1 883.33H327.42V892.75H314.1zM287.45 892.75H300.77V902.18H287.45zM287.45 902.18H300.77V911.6H287.45zM314.1 902.18H327.42V911.6H314.1zM340.74 902.18H354.06V911.6H340.74zM354.06 902.18H367.38V911.6H354.06zM287.45 911.6H300.77V921.03H287.45zM327.42 911.6H340.74V921.03H327.42zM114.28 921.03H127.6V930.45H114.28zM167.57 921.03H180.89V930.45H167.57zM220.85 930.45H234.17V939.88H220.85zM274.13 930.45H287.45V939.88H274.13zM274.13 939.88H287.45V949.3H274.13zM234.17 949.3H247.49V958.72H234.17zM327.42 958.72H340.74V968.15H327.42zM367.38 958.72H380.7V968.15H367.38zM234.17 968.15H247.49V977.57H234.17zM367.38 968.15H380.7V977.57H367.38zM274.13 977.57H287.45V987H274.13zM327.42 977.57H340.74V987H327.42zM274.13 1147.21H287.45V1156.63H274.13zM87.64 1203.75H100.96V1213.18H87.64zM127.6 1203.75H140.93V1213.18H127.6zM154.25 1203.75H167.57V1213.18H154.25zM247.49 1203.75H260.81V1213.18H247.49zM274.13 1203.75H287.45V1213.18H274.13zM287.45 1203.75H300.77V1213.18H287.45zM327.42 1203.75H340.74V1213.18H327.42zM354.06 1203.75H367.38V1213.18H354.06zM367.38 1203.75H380.7V1213.18H367.38zM87.64 1213.18H100.96V1222.6H87.64zM247.49 1213.18H260.81V1222.6H247.49zM314.1 1213.18H327.42V1222.6H314.1zM340.74 1213.18H354.06V1222.6H340.74zM61 1222.6H74.32V1232.03H61zM87.64 1232.03H100.96V1241.45H87.64zM140.93 1232.03H154.25V1241.45H140.93zM260.81 1232.03H274.13V1241.45H260.81zM287.45 1232.03H300.77V1241.45H287.45zM340.74 1232.03H354.06V1241.45H340.74zM354.06 1232.03H367.38V1241.45H354.06zM207.53 1241.45H220.85V1250.87H207.53zM247.49 1241.45H260.81V1250.87H247.49zM314.1 1241.45H327.42V1250.87H314.1zM354.06 1241.45H367.38V1250.87H354.06zM87.64 1260.3H100.96V1269.72H87.64zM127.6 1269.72H140.93V1279.15H127.6zM327.42 1279.15H340.74V1288.57H327.42zM61 1288.57H74.32V1297.99H61zM140.93 1288.57H154.25V1297.99H140.93zM167.57 1288.57H180.89V1297.99H167.57zM180.89 1288.57H194.21V1297.99H180.89zM194.21 1288.57H207.53V1297.99H194.21zM234.17 1288.57H247.49V1297.99H234.17zM247.49 1288.57H260.81V1297.99H247.49zM340.74 1288.57H354.06V1297.99H340.74zM127.6 1297.99H140.93V1307.42H127.6zM140.93 1297.99H154.25V1307.42H140.93zM194.21 1297.99H207.53V1307.42H194.21zM220.85 1297.99H234.17V1307.42H220.85zM61 1307.42H74.32V1316.84H61zM100.96 1307.42H114.28V1316.84H100.96zM140.93 1307.42H154.25V1316.84H140.93zM167.57 1307.42H180.89V1316.84H167.57zM180.89 1307.42H194.21V1316.84H180.89zM194.21 1307.42H207.53V1316.84H194.21zM354.06 1307.42H367.38V1316.84H354.06zM87.64 1316.84H100.96V1326.27H87.64zM127.6 1316.84H140.93V1326.27H127.6zM61 1326.27H74.32V1335.69H61zM61 1335.69H74.32V1345.12H61zM87.64 1335.69H100.96V1345.12H87.64zM74.32 1345.12H87.64V1354.54H74.32zM127.6 1345.12H140.93V1354.54H127.6zM314.1 1345.12H327.42V1354.54H314.1zM207.53 1363.96H220.85V1373.39H207.53zM140.93 1382.81H154.25V1392.24H140.93zM87.64 1411.09H100.96V1420.51H87.64zM154.25 1411.09H167.57V1420.51H154.25zM100.96 1420.51H114.28V1429.93H100.96zM140.93 1420.51H154.25V1429.93H140.93zM100.96 1429.93H114.28V1439.36H100.96zM140.93 1429.93H154.25V1439.36H140.93zM74.32 1439.36H87.64V1448.78H74.32zM154.25 1439.36H167.57V1448.78H154.25zM180.89 1439.36H194.21V1448.78H180.89zM207.53 1439.36H220.85V1448.78H207.53zM74.32 1448.78H87.64V1458.21H74.32zM127.6 1448.78H140.93V1458.21H127.6zM154.25 1448.78H167.57V1458.21H154.25zM180.89 1448.78H194.21V1458.21H180.89zM180.89 1458.21H194.21V1467.63H180.89zM140.93 1467.63H154.25V1477.05H140.93zM74.32 1477.05H87.64V1486.48H74.32zM140.93 1477.05H154.25V1486.48H140.93zM100.96 1486.48H114.28V1495.9H100.96zM114.28 1486.48H127.6V1495.9H114.28zM167.57 1486.48H180.89V1495.9H167.57zM207.53 1486.48H220.85V1495.9H207.53zM74.32 1495.9H87.64V1505.33H74.32zM140.93 1495.9H154.25V1505.33H140.93zM207.53 1495.9H220.85V1505.33H207.53zM114.28 1505.33H127.6V1514.75H114.28zM100.96 1514.75H114.28V1524.18H100.96zM154.25 1514.75H167.57V1524.18H154.25zM207.53 1514.75H220.85V1524.18H207.53zM100.96 1524.18H114.28V1533.6H100.96zM154.25 1524.18H167.57V1533.6H154.25zM207.53 1524.18H220.85V1533.6H207.53z"/>
<path fill="#cd112b" d="M367.38 54H380.7V63.42H367.38zM287.45 72.85H300.77V82.27H287.45zM327.42 82.27H340.74V91.7H327.42zM327.42 91.7H340.74V101.12H327.42zM247.49 101.12H260.81V110.55H247.49zM260.81 157.67H274.13V167.09H260.81zM87.64 204.79H100.96V214.21H87.64zM247.49 223.64H260.81V233.06H247.49zM234.17 327.3H247.49V336.73H234.17zM234.17 355.57H247.49V365H234.17zM234.17 365H247.49V374.42H234.17zM234.17 374.42H247.49V383.85H234.17zM234.17 383.85H247.49V393.27H234.17zM234.17 393.27H247.49V402.7H234.17zM287.45 534.63H300.77V544.06H287.45zM234.17 638.3H247.49V647.72H234.17zM234.17 647.72H247.49V657.15H234.17zM234.17 676H247.49V685.42H234.17zM327.42 694.85H340.74V704.27H327.42zM220.85 798.51H234.17V807.94H220.85zM220.85 1203.75H234.17V1213.18H220.85zM100.96 1222.6H114.28V1232.03H100.96zM100.96 1232.03H114.28V1241.45H100.96zM100.96 1250.87H114.28V1260.3H100.96zM194.21 1260.3H207.53V1269.72H194.21zM167.57 1269.72H180.89V1279.15H167.57zM167.57 1279.15H180.89V1288.57H167.57zM87.64 1297.99H100.96V1307.42H87.64zM61 1439.36H74.32V1448.78H61zM61 1448.78H74.32V1458.21H61zM61 1495.9H74.32V1505.33H61zM61 1505.33H74.32V1514.75H61zM61 1514.75H74.32V1524.18H61zM61 1524.18H74.32V1533.6H61z"/>
<path fill="#f7b99f" d="M61 63.42H74.32V72.85H61zM114.28 63.42H127.6V72.85H114.28zM327.42 63.42H340.74V72.85H327.42zM327.42 72.85H340.74V82.27H327.42zM367.38 72.85H380.7V82.27H367.38zM287.45 82.27H300.77V91.7H287.45zM367.38 82.27H380.7V91.7H367.38zM234.17 110.55H247.49V119.97H234.17zM274.13 110.55H287.45V119.97H274.13zM100.96 119.97H114.28V129.39H100.96zM287.45 119.97H300.77V129.39H287.45zM354.06 119.97H367.38V129.39H354.06zM287.45 129.39H300.77V138.82H287.45zM100.96 138.82H114.28V148.24H100.96zM354.06 138.82H367.38V148.24H354.06zM287.45 148.24H300.77V157.67H287.45zM234.17 157.67H247.49V167.09H234.17zM327.42 157.67H340.74V167.09H327.42zM260.81 167.09H274.13V176.51H260.81zM274.13 167.09H287.45V176.51H274.13zM274.13 176.51H287.45V185.94H274.13zM234.17 185.94H247.49V195.36H234.17zM274.13 185.94H287.45V195.36H274.13zM234.17 195.36H247.49V204.79H234.17zM260.81 223.64H274.13V233.06H260.81zM220.85 242.48H234.17V251.91H220.85zM87.64 251.91H100.96V261.33H87.64zM234.17 251.91H247.49V261.33H234.17zM234.17 261.33H247.49V270.76H234.17zM220.85 270.76H234.17V280.18H220.85zM260.81 270.76H274.13V280.18H260.81zM127.6 289.61H140.93V299.03H127.6zM234.17 289.61H247.49V299.03H234.17zM274.13 289.61H287.45V299.03H274.13zM234.17 299.03H247.49V308.45H234.17zM127.6 308.45H140.93V317.88H127.6zM274.13 308.45H287.45V317.88H274.13zM247.49 317.88H260.81V327.3H247.49zM260.81 317.88H274.13V327.3H260.81zM260.81 327.3H274.13V336.73H260.81zM260.81 336.73H274.13V346.15H260.81zM260.81 346.15H274.13V355.57H260.81zM287.45 346.15H300.77V355.57H287.45zM74.32 355.57H87.64V365H74.32zM287.45 355.57H300.77V365H287.45zM327.42 374.42H340.74V383.85H327.42zM74.32 383.85H87.64V393.27H74.32zM287.45 393.27H300.77V402.7H287.45zM100.96 402.7H114.28V412.12H100.96zM100.96 421.54H114.28V430.97H100.96zM234.17 421.54H247.49V430.97H234.17zM287.45 421.54H300.77V430.97H287.45zM260.81 430.97H274.13V440.39H260.81zM287.45 430.97H300.77V440.39H287.45zM220.85 449.82H234.17V459.24H220.85zM260.81 459.24H274.13V468.66H260.81zM287.45 459.24H300.77V468.66H287.45zM234.17 478.09H247.49V487.51H234.17zM287.45 478.09H300.77V487.51H287.45zM234.17 487.51H247.49V496.94H234.17zM260.81 496.94H274.13V506.36H260.81zM287.45 496.94H300.77V506.36H287.45zM127.6 515.79H140.93V525.21H127.6zM274.13 515.79H287.45V525.21H274.13zM314.1 515.79H327.42V525.21H314.1zM127.6 525.21H140.93V534.63H127.6zM127.6 544.06H140.93V553.48H127.6zM247.49 544.06H260.81V553.48H247.49zM260.81 544.06H274.13V553.48H260.81zM127.6 553.48H140.93V562.91H127.6zM234.17 553.48H247.49V562.91H234.17zM234.17 562.91H247.49V572.33H234.17zM100.96 572.33H114.28V581.76H100.96zM260.81 591.18H274.13V600.6H260.81zM327.42 600.6H340.74V610.03H327.42zM260.81 619.45H274.13V628.88H260.81zM74.32 628.88H87.64V638.3H74.32zM87.64 628.88H100.96V638.3H87.64zM127.6 628.88H140.93V638.3H127.6zM287.45 628.88H300.77V638.3H287.45zM247.49 647.72H260.81V657.15H247.49zM327.42 666.57H340.74V676H327.42zM340.74 666.57H354.06V676H340.74zM367.38 666.57H380.7V676H367.38zM340.74 676H354.06V685.42H340.74zM327.42 685.42H340.74V694.85H327.42zM234.17 694.85H247.49V704.27H234.17zM247.49 713.69H260.81V723.12H247.49zM247.49 723.12H260.81V732.54H247.49zM247.49 751.39H260.81V760.82H247.49zM220.85 789.09H234.17V798.51H220.85zM247.49 798.51H260.81V807.94H247.49zM220.85 807.94H234.17V817.36H220.85zM327.42 817.36H340.74V826.78H327.42zM367.38 817.36H380.7V826.78H367.38zM327.42 845.63H340.74V855.06H327.42zM260.81 864.48H274.13V873.91H260.81zM340.74 873.91H354.06V883.33H340.74zM247.49 883.33H260.81V892.75H247.49zM354.06 883.33H367.38V892.75H354.06zM314.1 892.75H327.42V902.18H314.1zM220.85 911.6H234.17V921.03H220.85zM274.13 911.6H287.45V921.03H274.13zM340.74 911.6H354.06V921.03H340.74zM314.1 921.03H327.42V930.45H314.1zM314.1 930.45H327.42V939.88H314.1zM300.77 939.88H314.1V949.3H300.77zM327.42 939.88H340.74V949.3H327.42zM340.74 939.88H354.06V949.3H340.74zM220.85 949.3H234.17V958.72H220.85zM260.81 949.3H274.13V958.72H260.81zM300.77 958.72H314.1V968.15H300.77zM247.49 977.57H260.81V987H247.49zM287.45 977.57H300.77V987H287.45zM260.81 987H274.13V996.42H260.81zM274.13 996.42H287.45V1005.84H274.13zM247.49 1005.84H260.81V1015.27H247.49zM367.38 1005.84H380.7V1015.27H367.38zM220.85 1015.27H234.17V1024.69H220.85zM260.81 1015.27H274.13V1024.69H260.81zM274.13 1015.27H287.45V1024.69H274.13zM314.1 1015.27H327.42V1024.69H314.1zM274.13 1024.69H287.45V1034.12H274.13zM220.85 1034.12H234.17V1043.54H220.85zM274.13 1034.12H287.45V1043.54H274.13zM300.77 1034.12H314.1V1043.54H300.77zM354.06 1034.12H367.38V1043.54H354.06zM274.13 1043.54H287.45V1052.97H274.13zM220.85 1052.97H234.17V1062.39H220.85zM260.81 1052.97H274.13V1062.39H260.81zM274.13 1052.97H287.45V1062.39H274.13zM314.1 1052.97H327.42V1062.39H314.1zM274.13 1062.39H287.45V1071.81H274.13zM314.1 1062.39H327.42V1071.81H314.1zM354.06 1062.39H367.38V1071.81H354.06zM247.49 1071.81H260.81V1081.24H247.49zM220.85 1081.24H234.17V1090.66H220.85zM260.81 1081.24H274.13V1090.66H260.81zM274.13 1081.24H287.45V1090.66H274.13zM274.13 1090.66H287.45V1100.09H274.13zM314.1 1090.66H327.42V1100.09H314.1zM260.81 1100.09H274.13V1109.51H260.81zM367.38 1100.09H380.7V1109.51H367.38zM300.77 1118.94H314.1V1128.36H300.77zM314.1 1118.94H327.42V1128.36H314.1zM354.06 1118.94H367.38V1128.36H354.06zM220.85 1128.36H234.17V1137.78H220.85zM260.81 1128.36H274.13V1137.78H260.81zM300.77 1128.36H314.1V1137.78H300.77zM340.74 1128.36H354.06V1137.78H340.74zM260.81 1137.78H274.13V1147.21H260.81zM340.74 1137.78H354.06V1147.21H340.74zM220.85 1147.21H234.17V1156.63H220.85zM234.17 1147.21H247.49V1156.63H234.17zM260.81 1147.21H274.13V1156.63H260.81zM287.45 1147.21H300.77V1156.63H287.45zM300.77 1147.21H314.1V1156.63H300.77zM367.38 1147.21H380.7V1156.63H367.38zM260.81 1156.63H274.13V1166.06H260.81zM314.1 1156.63H327.42V1166.06H314.1zM260.81 1166.06H274.13V1175.48H260.81zM340.74 1166.06H354.06V1175.48H340.74zM354.06 1166.06H367.38V1175.48H354.06zM234.17 1175.48H247.49V1184.9H234.17zM314.1 1175.48H327.42V1184.9H314.1zM340.74 1175.48H354.06V1184.9H340.74zM354.06 1175.48H367.38V1184.9H354.06zM287.45 1184.9H300.77V1194.33H287.45zM300.77 1184.9H314.1V1194.33H300.77zM260.81 1194.33H274.13V1203.75H260.81zM287.45 1194.33H300.77V1203.75H287.45zM300.77 1194.33H314.1V1203.75H300.77zM314.1 1194.33H327.42V1203.75H314.1zM354.06 1194.33H367.38V1203.75H354.06zM234.17 1203.75H247.49V1213.18H234.17zM287.45 1213.18H300.77V1222.6H287.45zM300.77 1213.18H314.1V1222.6H300.77zM327.42 1213.18H340.74V1222.6H327.42zM127.6 1260.3H140.93V1269.72H127.6zM207.53 1260.3H220.85V1269.72H207.53zM61 1269.72H74.32V1279.15H61zM100.96 1269.72H114.28V1279.15H100.96zM194.21 1269.72H207.53V1279.15H194.21zM207.53 1307.42H220.85V1316.84H207.53zM154.25 1316.84H167.57V1326.27H154.25zM167.57 1316.84H180.89V1326.27H167.57zM154.25 1326.27H167.57V1335.69H154.25zM180.89 1326.27H194.21V1335.69H180.89zM154.25 1335.69H167.57V1345.12H154.25zM180.89 1335.69H194.21V1345.12H180.89zM114.28 1345.12H127.6V1354.54H114.28zM154.25 1345.12H167.57V1354.54H154.25zM180.89 1345.12H194.21V1354.54H180.89zM127.6 1382.81H140.93V1392.24H127.6zM154.25 1382.81H167.57V1392.24H154.25zM167.57 1392.24H180.89V1401.66H167.57zM74.32 1411.09H87.64V1420.51H74.32zM180.89 1411.09H194.21V1420.51H180.89zM207.53 1411.09H220.85V1420.51H207.53zM61 1420.51H74.32V1429.93H61zM114.28 1458.21H127.6V1467.63H114.28zM100.96 1467.63H114.28V1477.05H100.96zM154.25 1467.63H167.57V1477.05H154.25zM87.64 1477.05H100.96V1486.48H87.64zM100.96 1477.05H114.28V1486.48H100.96zM87.64 1486.48H100.96V1495.9H87.64zM100.96 1505.33H114.28V1514.75H100.96zM180.89 1505.33H194.21V1514.75H180.89z"/>
<path fill="#cde4ef" d="M74.32 63.42H87.64V72.85H74.32zM100.96 63.42H114.28V72.85H100.96zM140.93 63.42H154.25V72.85H140.93zM207.53 63.42H220.85V72.85H207.53zM61 72.85H74.32V82.27H61zM74.32 72.85H87.64V82.27H74.32zM140.93 72.85H154.25V82.27H140.93zM154.25 72.85H167.57V82.27H154.25zM180.89 72.85H194.21V82.27H180.89zM194.21 72.85H207.53V82.27H194.21zM207.53 72.85H220.85V82.27H207.53zM220.85 72.85H234.17V82.27H220.85zM234.17 72.85H247.49V82.27H234.17zM61 82.27H74.32V91.7H61zM74.32 82.27H87.64V91.7H74.32zM100.96 82.27H114.28V91.7H100.96zM140.93 82.27H154.25V91.7H140.93zM154.25 82.27H167.57V91.7H154.25zM180.89 82.27H194.21V91.7H180.89zM194.21 82.27H207.53V91.7H194.21zM207.53 82.27H220.85V91.7H207.53zM234.17 82.27H247.49V91.7H234.17zM61 91.7H74.32V101.12H61zM74.32 91.7H87.64V101.12H74.32zM140.93 91.7H154.25V101.12H140.93zM154.25 91.7H167.57V101.12H154.25zM167.57 91.7H180.89V101.12H167.57zM180.89 91.7H194.21V101.12H180.89zM207.53 91.7H220.85V101.12H207.53zM234.17 91.7H247.49V101.12H234.17zM61 101.12H74.32V110.55H61zM74.32 101.12H87.64V110.55H74.32zM114.28 101.12H127.6V110.55H114.28zM140.93 101.12H154.25V110.55H140.93zM154.25 101.12H167.57V110.55H154.25zM167.57 101.12H180.89V110.55H167.57zM180.89 101.12H194.21V110.55H180.89zM194.21 101.12H207.53V110.55H194.21zM207.53 101.12H220.85V110.55H207.53zM74.32 110.55H87.64V119.97H74.32zM140.93 110.55H154.25V119.97H140.93zM154.25 110.55H167.57V119.97H154.25zM167.57 110.55H180.89V119.97H167.57zM180.89 110.55H194.21V119.97H180.89zM194.21 110.55H207.53V119.97H194.21zM207.53 110.55H220.85V119.97H207.53zM340.74 110.55H354.06V119.97H340.74zM74.32 119.97H87.64V129.39H74.32zM140.93 119.97H154.25V129.39H140.93zM154.25 119.97H167.57V129.39H154.25zM167.57 119.97H180.89V129.39H167.57zM207.53 119.97H220.85V129.39H207.53zM340.74 119.97H354.06V129.39H340.74zM114.28 129.39H127.6V138.82H114.28zM140.93 129.39H154.25V138.82H140.93zM154.25 129.39H167.57V138.82H154.25zM167.57 129.39H180.89V138.82H167.57zM207.53 129.39H220.85V138.82H207.53zM61 138.82H74.32V148.24H61zM140.93 138.82H154.25V148.24H140.93zM154.25 138.82H167.57V148.24H154.25zM207.53 138.82H220.85V148.24H207.53zM234.17 138.82H247.49V148.24H234.17zM340.74 138.82H354.06V148.24H340.74zM154.25 148.24H167.57V157.67H154.25zM207.53 148.24H220.85V157.67H207.53zM140.93 157.67H154.25V167.09H140.93zM194.21 157.67H207.53V167.09H194.21zM207.53 157.67H220.85V167.09H207.53zM220.85 157.67H234.17V167.09H220.85zM340.74 157.67H354.06V167.09H340.74zM354.06 157.67H367.38V167.09H354.06zM127.6 167.09H140.93V176.51H127.6zM140.93 167.09H154.25V176.51H140.93zM354.06 167.09H367.38V176.51H354.06zM74.32 176.51H87.64V185.94H74.32zM114.28 176.51H127.6V185.94H114.28zM127.6 176.51H140.93V185.94H127.6zM140.93 176.51H154.25V185.94H140.93zM167.57 176.51H180.89V185.94H167.57zM194.21 176.51H207.53V185.94H194.21zM354.06 176.51H367.38V185.94H354.06zM367.38 176.51H380.7V185.94H367.38zM140.93 185.94H154.25V195.36H140.93zM154.25 185.94H167.57V195.36H154.25zM167.57 185.94H180.89V195.36H167.57zM194.21 185.94H207.53V195.36H194.21zM207.53 185.94H220.85V195.36H207.53zM314.1 185.94H327.42V195.36H314.1zM354.06 185.94H367.38V195.36H354.06zM140.93 195.36H154.25V204.79H140.93zM167.57 195.36H180.89V204.79H167.57zM194.21 195.36H207.53V204.79H194.21zM207.53 195.36H220.85V204.79H207.53zM340.74 195.36H354.06V204.79H340.74zM354.06 195.36H367.38V204.79H354.06zM140.93 204.79H154.25V214.21H140.93zM154.25 204.79H167.57V214.21H154.25zM167.57 204.79H180.89V214.21H167.57zM207.53 204.79H220.85V214.21H207.53zM61 214.21H74.32V223.64H61zM74.32 214.21H87.64V223.64H74.32zM140.93 214.21H154.25V223.64H140.93zM154.25 214.21H167.57V223.64H154.25zM167.57 214.21H180.89V223.64H167.57zM194.21 214.21H207.53V223.64H194.21zM340.74 214.21H354.06V223.64H340.74zM140.93 223.64H154.25V233.06H140.93zM154.25 223.64H167.57V233.06H154.25zM167.57 223.64H180.89V233.06H167.57zM180.89 223.64H194.21V233.06H180.89zM194.21 223.64H207.53V233.06H194.21zM207.53 223.64H220.85V233.06H207.53zM340.74 223.64H354.06V233.06H340.74zM154.25 233.06H167.57V242.48H154.25zM167.57 233.06H180.89V242.48H167.57zM194.21 233.06H207.53V242.48H194.21zM74.32 242.48H87.64V251.91H74.32zM140.93 242.48H154.25V251.91H140.93zM154.25 242.48H167.57V251.91H154.25zM180.89 242.48H194.21V251.91H180.89zM194.21 242.48H207.53V251.91H194.21zM207.53 242.48H220.85V251.91H207.53zM367.38 242.48H380.7V251.91H367.38zM61 251.91H74.32V261.33H61zM140.93 251.91H154.25V261.33H140.93zM154.25 251.91H167.57V261.33H154.25zM194.21 251.91H207.53V261.33H194.21zM340.74 251.91H354.06V261.33H340.74zM74.32 261.33H87.64V270.76H74.32zM140.93 261.33H154.25V270.76H140.93zM154.25 261.33H167.57V270.76H154.25zM194.21 261.33H207.53V270.76H194.21zM74.32 270.76H87.64V280.18H74.32zM140.93 270.76H154.25V280.18H140.93zM154.25 270.76H167.57V280.18H154.25zM194.21 270.76H207.53V280.18H194.21zM340.74 270.76H354.06V280.18H340.74zM100.96 280.18H114.28V289.61H100.96zM114.28 280.18H127.6V289.61H114.28zM140.93 280.18H154.25V289.61H140.93zM154.25 280.18H167.57V289.61H154.25zM167.57 280.18H180.89V289.61H167.57zM180.89 280.18H194.21V289.61H180.89zM194.21 280.18H207.53V289.61H194.21zM207.53 280.18H220.85V289.61H207.53zM274.13 280.18H287.45V289.61H274.13zM314.1 280.18H327.42V289.61H314.1zM154.25 289.61H167.57V299.03H154.25zM167.57 289.61H180.89V299.03H167.57zM180.89 289.61H194.21V299.03H180.89zM207.53 289.61H220.85V299.03H207.53zM220.85 289.61H234.17V299.03H220.85zM314.1 289.61H327.42V299.03H314.1zM154.25 299.03H167.57V308.45H154.25zM167.57 299.03H180.89V308.45H167.57zM180.89 299.03H194.21V308.45H180.89zM207.53 299.03H220.85V308.45H207.53zM314.1 299.03H327.42V308.45H314.1zM340.74 299.03H354.06V308.45H340.74zM354.06 299.03H367.38V308.45H354.06zM367.38 299.03H380.7V308.45H367.38zM140.93 308.45H154.25V317.88H140.93zM167.57 308.45H180.89V317.88H167.57zM194.21 308.45H207.53V317.88H194.21zM207.53 308.45H220.85V317.88H207.53zM314.1 308.45H327.42V317.88H314.1zM367.38 308.45H380.7V317.88H367.38zM140.93 317.88H154.25V327.3H140.93zM154.25 317.88H167.57V327.3H154.25zM167.57 317.88H180.89V327.3H167.57zM194.21 317.88H207.53V327.3H194.21zM207.53 317.88H220.85V327.3H207.53zM274.13 317.88H287.45V327.3H274.13zM340.74 317.88H354.06V327.3H340.74zM140.93 327.3H154.25V336.73H140.93zM154.25 327.3H167.57V336.73H154.25zM180.89 327.3H194.21V336.73H180.89zM300.77 327.3H314.1V336.73H300.77zM340.74 327.3H354.06V336.73H340.74zM61 336.73H74.32V346.15H61zM140.93 336.73H154.25V346.15H140.93zM154.25 336.73H167.57V346.15H154.25zM167.57 336.73H180.89V346.15H167.57zM194.21 336.73H207.53V346.15H194.21zM207.53 336.73H220.85V346.15H207.53zM154.25 346.15H167.57V355.57H154.25zM167.57 346.15H180.89V355.57H167.57zM194.21 346.15H207.53V355.57H194.21zM207.53 346.15H220.85V355.57H207.53zM300.77 346.15H314.1V355.57H300.77zM340.74 346.15H354.06V355.57H340.74zM140.93 355.57H154.25V365H140.93zM207.53 355.57H220.85V365H207.53zM140.93 365H154.25V374.42H140.93zM167.57 365H180.89V374.42H167.57zM207.53 365H220.85V374.42H207.53zM114.28 374.42H127.6V383.85H114.28zM220.85 374.42H234.17V383.85H220.85zM314.1 374.42H327.42V383.85H314.1zM61 383.85H74.32V393.27H61zM140.93 383.85H154.25V393.27H140.93zM207.53 383.85H220.85V393.27H207.53zM340.74 383.85H354.06V393.27H340.74zM140.93 393.27H154.25V402.7H140.93zM154.25 393.27H167.57V402.7H154.25zM207.53 393.27H220.85V402.7H207.53zM340.74 393.27H354.06V402.7H340.74zM140.93 402.7H154.25V412.12H140.93zM140.93 412.12H154.25V421.54H140.93zM207.53 412.12H220.85V421.54H207.53zM114.28 421.54H127.6V430.97H114.28zM140.93 421.54H154.25V430.97H140.93zM167.57 421.54H180.89V430.97H167.57zM194.21 421.54H207.53V430.97H194.21zM340.74 421.54H354.06V430.97H340.74zM167.57 430.97H180.89V440.39H167.57zM194.21 430.97H207.53V440.39H194.21zM207.53 430.97H220.85V440.39H207.53zM140.93 440.39H154.25V449.82H140.93zM154.25 440.39H167.57V449.82H154.25zM167.57 440.39H180.89V449.82H167.57zM194.21 440.39H207.53V449.82H194.21zM207.53 440.39H220.85V449.82H207.53zM274.13 440.39H287.45V449.82H274.13zM340.74 440.39H354.06V449.82H340.74zM154.25 449.82H167.57V459.24H154.25zM167.57 449.82H180.89V459.24H167.57zM194.21 449.82H207.53V459.24H194.21zM207.53 449.82H220.85V459.24H207.53zM300.77 449.82H314.1V459.24H300.77zM340.74 449.82H354.06V459.24H340.74zM61 459.24H74.32V468.66H61zM140.93 459.24H154.25V468.66H140.93zM154.25 459.24H167.57V468.66H154.25zM167.57 459.24H180.89V468.66H167.57zM180.89 459.24H194.21V468.66H180.89zM340.74 459.24H354.06V468.66H340.74zM100.96 468.66H114.28V478.09H100.96zM140.93 468.66H154.25V478.09H140.93zM154.25 468.66H167.57V478.09H154.25zM167.57 468.66H180.89V478.09H167.57zM180.89 468.66H194.21V478.09H180.89zM194.21 468.66H207.53V478.09H194.21zM207.53 468.66H220.85V478.09H207.53zM340.74 468.66H354.06V478.09H340.74zM140.93 478.09H154.25V487.51H140.93zM154.25 478.09H167.57V487.51H154.25zM167.57 478.09H180.89V487.51H167.57zM194.21 478.09H207.53V487.51H194.21zM207.53 478.09H220.85V487.51H207.53zM340.74 478.09H354.06V487.51H340.74zM74.32 487.51H87.64V496.94H74.32zM140.93 487.51H154.25V496.94H140.93zM167.57 487.51H180.89V496.94H167.57zM194.21 487.51H207.53V496.94H194.21zM207.53 487.51H220.85V496.94H207.53zM340.74 487.51H354.06V496.94H340.74zM140.93 496.94H154.25V506.36H140.93zM154.25 496.94H167.57V506.36H154.25zM194.21 496.94H207.53V506.36H194.21zM340.74 496.94H354.06V506.36H340.74zM114.28 506.36H127.6V515.79H114.28zM140.93 506.36H154.25V515.79H140.93zM154.25 506.36H167.57V515.79H154.25zM167.57 506.36H180.89V515.79H167.57zM180.89 506.36H194.21V515.79H180.89zM207.53 506.36H220.85V515.79H207.53zM140.93 515.79H154.25V525.21H140.93zM154.25 515.79H167.57V525.21H154.25zM140.93 525.21H154.25V534.63H140.93zM154.25 525.21H167.57V534.63H154.25zM207.53 525.21H220.85V534.63H207.53zM140.93 534.63H154.25V544.06H140.93zM154.25 534.63H167.57V544.06H154.25zM167.57 534.63H180.89V544.06H167.57zM180.89 534.63H194.21V544.06H180.89zM207.53 534.63H220.85V544.06H207.53zM154.25 544.06H167.57V553.48H154.25zM167.57 544.06H180.89V553.48H167.57zM340.74 544.06H354.06V553.48H340.74zM61 553.48H74.32V562.91H61zM154.25 553.48H167.57V562.91H154.25zM167.57 553.48H180.89V562.91H167.57zM340.74 553.48H354.06V562.91H340.74zM154.25 562.91H167.57V572.33H154.25zM340.74 562.91H354.06V572.33H340.74zM114.28 572.33H127.6V581.76H114.28zM154.25 572.33H167.57V581.76H154.25zM207.53 572.33H220.85V581.76H207.53zM140.93 581.76H154.25V591.18H140.93zM154.25 581.76H167.57V591.18H154.25zM194.21 581.76H207.53V591.18H194.21zM207.53 581.76H220.85V591.18H207.53zM140.93 591.18H154.25V600.6H140.93zM154.25 591.18H167.57V600.6H154.25zM180.89 591.18H194.21V600.6H180.89zM194.21 591.18H207.53V600.6H194.21zM61 600.6H74.32V610.03H61zM140.93 600.6H154.25V610.03H140.93zM154.25 600.6H167.57V610.03H154.25zM167.57 600.6H180.89V610.03H167.57zM180.89 600.6H194.21V610.03H180.89zM194.21 600.6H207.53V610.03H194.21zM207.53 600.6H220.85V610.03H207.53zM314.1 600.6H327.42V610.03H314.1zM140.93 610.03H154.25V619.45H140.93zM154.25 610.03H167.57V619.45H154.25zM167.57 610.03H180.89V619.45H167.57zM194.21 610.03H207.53V619.45H194.21zM207.53 610.03H220.85V619.45H207.53zM61 619.45H74.32V628.88H61zM154.25 619.45H167.57V628.88H154.25zM167.57 619.45H180.89V628.88H167.57zM180.89 619.45H194.21V628.88H180.89zM194.21 619.45H207.53V628.88H194.21zM207.53 619.45H220.85V628.88H207.53zM100.96 628.88H114.28V638.3H100.96zM114.28 628.88H127.6V638.3H114.28zM154.25 628.88H167.57V638.3H154.25zM167.57 628.88H180.89V638.3H167.57zM180.89 628.88H194.21V638.3H180.89zM194.21 628.88H207.53V638.3H194.21zM207.53 628.88H220.85V638.3H207.53zM260.81 628.88H274.13V638.3H260.81zM274.13 628.88H287.45V638.3H274.13zM314.1 628.88H327.42V638.3H314.1zM140.93 638.3H154.25V647.72H140.93zM167.57 638.3H180.89V647.72H167.57zM180.89 638.3H194.21V647.72H180.89zM194.21 638.3H207.53V647.72H194.21zM207.53 638.3H220.85V647.72H207.53zM314.1 638.3H327.42V647.72H314.1zM140.93 647.72H154.25V657.15H140.93zM154.25 647.72H167.57V657.15H154.25zM167.57 647.72H180.89V657.15H167.57zM180.89 647.72H194.21V657.15H180.89zM194.21 647.72H207.53V657.15H194.21zM207.53 647.72H220.85V657.15H207.53zM61 657.15H74.32V666.57H61zM140.93 657.15H154.25V666.57H140.93zM154.25 657.15H167.57V666.57H154.25zM260.81 657.15H274.13V666.57H260.81zM340.74 657.15H354.06V666.57H340.74zM100.96 666.57H114.28V676H100.96zM114.28 666.57H127.6V676H114.28zM140.93 666.57H154.25V676H140.93zM154.25 666.57H167.57V676H154.25zM180.89 666.57H194.21V676H180.89zM194.21 666.57H207.53V676H194.21zM207.53 666.57H220.85V676H207.53zM260.81 666.57H274.13V676H260.81zM274.13 666.57H287.45V676H274.13zM61 676H74.32V685.42H61zM100.96 676H114.28V685.42H100.96zM114.28 676H127.6V685.42H114.28zM140.93 676H154.25V685.42H140.93zM154.25 676H167.57V685.42H154.25zM167.57 676H180.89V685.42H167.57zM180.89 676H194.21V685.42H180.89zM194.21 676H207.53V685.42H194.21zM207.53 676H220.85V685.42H207.53zM260.81 676H274.13V685.42H260.81zM274.13 676H287.45V685.42H274.13zM100.96 685.42H114.28V694.85H100.96zM140.93 685.42H154.25V694.85H140.93zM167.57 685.42H180.89V694.85H167.57zM180.89 685.42H194.21V694.85H180.89zM207.53 685.42H220.85V694.85H207.53zM260.81 685.42H274.13V694.85H260.81zM274.13 685.42H287.45V694.85H274.13zM314.1 685.42H327.42V694.85H314.1zM61 694.85H74.32V704.27H61zM100.96 694.85H114.28V704.27H100.96zM114.28 694.85H127.6V704.27H114.28zM140.93 694.85H154.25V704.27H140.93zM154.25 694.85H167.57V704.27H154.25zM167.57 694.85H180.89V704.27H167.57zM180.89 694.85H194.21V704.27H180.89zM194.21 694.85H207.53V704.27H194.21zM207.53 694.85H220.85V704.27H207.53zM260.81 694.85H274.13V704.27H260.81zM274.13 694.85H287.45V704.27H274.13zM354.06 694.85H367.38V704.27H354.06zM61 704.27H74.32V713.69H61zM74.32 704.27H87.64V713.69H74.32zM100.96 704.27H114.28V713.69H100.96zM114.28 704.27H127.6V713.69H114.28zM140.93 704.27H154.25V713.69H140.93zM154.25 704.27H167.57V713.69H154.25zM167.57 704.27H180.89V713.69H167.57zM180.89 704.27H194.21V713.69H180.89zM194.21 704.27H207.53V713.69H194.21zM207.53 704.27H220.85V713.69H207.53zM260.81 704.27H274.13V713.69H260.81zM274.13 704.27H287.45V713.69H274.13zM354.06 704.27H367.38V713.69H354.06zM61 713.69H74.32V723.12H61zM74.32 713.69H87.64V723.12H74.32zM100.96 713.69H114.28V723.12H100.96zM114.28 713.69H127.6V723.12H114.28zM140.93 713.69H154.25V723.12H140.93zM154.25 713.69H167.57V723.12H154.25zM167.57 713.69H180.89V723.12H167.57zM180.89 713.69H194.21V723.12H180.89zM194.21 713.69H207.53V723.12H194.21zM207.53 713.69H220.85V723.12H207.53zM260.81 713.69H274.13V723.12H260.81zM274.13 713.69H287.45V723.12H274.13zM61 723.12H74.32V732.54H61zM100.96 723.12H114.28V732.54H100.96zM114.28 723.12H127.6V732.54H114.28zM140.93 723.12H154.25V732.54H140.93zM154.25 723.12H167.57V732.54H154.25zM167.57 723.12H180.89V732.54H167.57zM180.89 723.12H194.21V732.54H180.89zM194.21 723.12H207.53V732.54H194.21zM207.53 723.12H220.85V732.54H207.53zM260.81 723.12H274.13V732.54H260.81zM274.13 723.12H287.45V732.54H274.13zM354.06 723.12H367.38V732.54H354.06zM61 732.54H74.32V741.97H61zM100.96 732.54H114.28V741.97H100.96zM114.28 732.54H127.6V741.97H114.28zM140.93 732.54H154.25V741.97H140.93zM154.25 732.54H167.57V741.97H154.25zM167.57 732.54H180.89V741.97H167.57zM180.89 732.54H194.21V741.97H180.89zM194.21 732.54H207.53V741.97H194.21zM207.53 732.54H220.85V741.97H207.53zM260.81 732.54H274.13V741.97H260.81zM354.06 732.54H367.38V741.97H354.06zM100.96 741.97H114.28V751.39H100.96zM154.25 741.97H167.57V751.39H154.25zM194.21 741.97H207.53V751.39H194.21zM207.53 741.97H220.85V751.39H207.53zM260.81 741.97H274.13V751.39H260.81zM274.13 741.97H287.45V751.39H274.13zM314.1 741.97H327.42V751.39H314.1zM354.06 741.97H367.38V751.39H354.06zM61 751.39H74.32V760.82H61zM100.96 751.39H114.28V760.82H100.96zM114.28 751.39H127.6V760.82H114.28zM140.93 751.39H154.25V760.82H140.93zM154.25 751.39H167.57V760.82H154.25zM167.57 751.39H180.89V760.82H167.57zM180.89 751.39H194.21V760.82H180.89zM194.21 751.39H207.53V760.82H194.21zM207.53 751.39H220.85V760.82H207.53zM260.81 751.39H274.13V760.82H260.81zM274.13 751.39H287.45V760.82H274.13zM354.06 751.39H367.38V760.82H354.06zM61 760.82H74.32V770.24H61zM100.96 760.82H114.28V770.24H100.96zM114.28 760.82H127.6V770.24H114.28zM140.93 760.82H154.25V770.24H140.93zM154.25 760.82H167.57V770.24H154.25zM167.57 760.82H180.89V770.24H167.57zM180.89 760.82H194.21V770.24H180.89zM194.21 760.82H207.53V770.24H194.21zM207.53 760.82H220.85V770.24H207.53zM260.81 760.82H274.13V770.24H260.81zM274.13 760.82H287.45V770.24H274.13zM354.06 760.82H367.38V770.24H354.06zM61 770.24H74.32V779.66H61zM74.32 770.24H87.64V779.66H74.32zM114.28 770.24H127.6V779.66H114.28zM140.93 770.24H154.25V779.66H140.93zM154.25 770.24H167.57V779.66H154.25zM167.57 770.24H180.89V779.66H167.57zM180.89 770.24H194.21V779.66H180.89zM194.21 770.24H207.53V779.66H194.21zM207.53 770.24H220.85V779.66H207.53zM260.81 770.24H274.13V779.66H260.81zM274.13 770.24H287.45V779.66H274.13zM354.06 770.24H367.38V779.66H354.06zM61 779.66H74.32V789.09H61zM74.32 779.66H87.64V789.09H74.32zM100.96 779.66H114.28V789.09H100.96zM114.28 779.66H127.6V789.09H114.28zM140.93 779.66H154.25V789.09H140.93zM154.25 779.66H167.57V789.09H154.25zM167.57 779.66H180.89V789.09H167.57zM180.89 779.66H194.21V789.09H180.89zM194.21 779.66H207.53V789.09H194.21zM207.53 779.66H220.85V789.09H207.53zM260.81 779.66H274.13V789.09H260.81zM274.13 779.66H287.45V789.09H274.13zM354.06 779.66H367.38V789.09H354.06zM61 789.09H74.32V798.51H61zM74.32 789.09H87.64V798.51H74.32zM100.96 789.09H114.28V798.51H100.96zM114.28 789.09H127.6V798.51H114.28zM140.93 789.09H154.25V798.51H140.93zM154.25 789.09H167.57V798.51H154.25zM167.57 789.09H180.89V798.51H167.57zM180.89 789.09H194.21V798.51H180.89zM194.21 789.09H207.53V798.51H194.21zM207.53 789.09H220.85V798.51H207.53zM274.13 789.09H287.45V798.51H274.13zM354.06 789.09H367.38V798.51H354.06zM74.32 798.51H87.64V807.94H74.32zM100.96 798.51H114.28V807.94H100.96zM140.93 798.51H154.25V807.94H140.93zM154.25 798.51H167.57V807.94H154.25zM167.57 798.51H180.89V807.94H167.57zM180.89 798.51H194.21V807.94H180.89zM194.21 798.51H207.53V807.94H194.21zM207.53 798.51H220.85V807.94H207.53zM314.1 798.51H327.42V807.94H314.1zM354.06 798.51H367.38V807.94H354.06zM74.32 807.94H87.64V817.36H74.32zM100.96 807.94H114.28V817.36H100.96zM154.25 807.94H167.57V817.36H154.25zM194.21 807.94H207.53V817.36H194.21zM260.81 807.94H274.13V817.36H260.81zM274.13 807.94H287.45V817.36H274.13zM74.32 817.36H87.64V826.78H74.32zM100.96 817.36H114.28V826.78H100.96zM140.93 817.36H154.25V826.78H140.93zM154.25 817.36H167.57V826.78H154.25zM207.53 817.36H220.85V826.78H207.53zM354.06 817.36H367.38V826.78H354.06zM61 826.78H74.32V836.21H61zM100.96 826.78H114.28V836.21H100.96zM140.93 826.78H154.25V836.21H140.93zM154.25 826.78H167.57V836.21H154.25zM167.57 826.78H180.89V836.21H167.57zM207.53 826.78H220.85V836.21H207.53zM354.06 826.78H367.38V836.21H354.06zM74.32 836.21H87.64V845.63H74.32zM140.93 836.21H154.25V845.63H140.93zM167.57 836.21H180.89V845.63H167.57zM194.21 836.21H207.53V845.63H194.21zM354.06 836.21H367.38V845.63H354.06zM61 845.63H74.32V855.06H61zM114.28 845.63H127.6V855.06H114.28zM140.93 845.63H154.25V855.06H140.93zM154.25 845.63H167.57V855.06H154.25zM194.21 845.63H207.53V855.06H194.21zM354.06 845.63H367.38V855.06H354.06zM140.93 855.06H154.25V864.48H140.93zM154.25 855.06H167.57V864.48H154.25zM194.21 855.06H207.53V864.48H194.21zM340.74 855.06H354.06V864.48H340.74zM87.64 864.48H100.96V873.91H87.64zM100.96 864.48H114.28V873.91H100.96zM114.28 864.48H127.6V873.91H114.28zM127.6 864.48H140.93V873.91H127.6zM194.21 864.48H207.53V873.91H194.21zM207.53 864.48H220.85V873.91H207.53zM354.06 864.48H367.38V873.91H354.06zM74.32 873.91H87.64V883.33H74.32zM87.64 873.91H100.96V883.33H87.64zM100.96 873.91H114.28V883.33H100.96zM127.6 873.91H140.93V883.33H127.6zM140.93 873.91H154.25V883.33H140.93zM154.25 873.91H167.57V883.33H154.25zM167.57 873.91H180.89V883.33H167.57zM180.89 873.91H194.21V883.33H180.89zM61 883.33H74.32V892.75H61zM74.32 883.33H87.64V892.75H74.32zM87.64 883.33H100.96V892.75H87.64zM100.96 883.33H114.28V892.75H100.96zM114.28 883.33H127.6V892.75H114.28zM127.6 883.33H140.93V892.75H127.6zM140.93 883.33H154.25V892.75H140.93zM154.25 883.33H167.57V892.75H154.25zM167.57 883.33H180.89V892.75H167.57zM180.89 883.33H194.21V892.75H180.89zM194.21 883.33H207.53V892.75H194.21zM207.53 883.33H220.85V892.75H207.53zM61 892.75H74.32V902.18H61zM74.32 892.75H87.64V902.18H74.32zM87.64 892.75H100.96V902.18H87.64zM100.96 892.75H114.28V902.18H100.96zM114.28 892.75H127.6V902.18H114.28zM127.6 892.75H140.93V902.18H127.6zM140.93 892.75H154.25V902.18H140.93zM154.25 892.75H167.57V902.18H154.25zM167.57 892.75H180.89V902.18H167.57zM180.89 892.75H194.21V902.18H180.89zM194.21 892.75H207.53V902.18H194.21zM207.53 892.75H220.85V902.18H207.53zM61 902.18H74.32V911.6H61zM74.32 902.18H87.64V911.6H74.32zM100.96 902.18H114.28V911.6H100.96zM140.93 902.18H154.25V911.6H140.93zM154.25 902.18H167.57V911.6H154.25zM167.57 902.18H180.89V911.6H167.57zM180.89 902.18H194.21V911.6H180.89zM194.21 902.18H207.53V911.6H194.21zM207.53 902.18H220.85V911.6H207.53zM61 911.6H74.32V921.03H61zM74.32 911.6H87.64V921.03H74.32zM87.64 911.6H100.96V921.03H87.64zM100.96 911.6H114.28V921.03H100.96zM114.28 911.6H127.6V921.03H114.28zM127.6 911.6H140.93V921.03H127.6zM140.93 911.6H154.25V921.03H140.93zM154.25 911.6H167.57V921.03H154.25zM167.57 911.6H180.89V921.03H167.57zM180.89 911.6H194.21V921.03H180.89zM194.21 911.6H207.53V921.03H194.21zM207.53 911.6H220.85V921.03H207.53zM61 921.03H74.32V930.45H61zM74.32 921.03H87.64V930.45H74.32zM87.64 921.03H100.96V930.45H87.64zM127.6 921.03H140.93V930.45H127.6zM140.93 921.03H154.25V930.45H140.93zM180.89 921.03H194.21V930.45H180.89zM207.53 921.03H220.85V930.45H207.53zM61 930.45H74.32V939.88H61zM74.32 930.45H87.64V939.88H74.32zM87.64 930.45H100.96V939.88H87.64zM100.96 930.45H114.28V939.88H100.96zM114.28 930.45H127.6V939.88H114.28zM127.6 930.45H140.93V939.88H127.6zM140.93 930.45H154.25V939.88H140.93zM154.25 930.45H167.57V939.88H154.25zM167.57 930.45H180.89V939.88H167.57zM180.89 930.45H194.21V939.88H180.89zM194.21 930.45H207.53V939.88H194.21zM207.53 930.45H220.85V939.88H207.53zM61 939.88H74.32V949.3H61zM74.32 939.88H87.64V949.3H74.32zM87.64 939.88H100.96V949.3H87.64zM100.96 939.88H114.28V949.3H100.96zM114.28 939.88H127.6V949.3H114.28zM127.6 939.88H140.93V949.3H127.6zM140.93 939.88H154.25V949.3H140.93zM154.25 939.88H167.57V949.3H154.25zM167.57 939.88H180.89V949.3H167.57zM180.89 939.88H194.21V949.3H180.89zM194.21 939.88H207.53V949.3H194.21zM207.53 939.88H220.85V949.3H207.53zM61 949.3H74.32V958.72H61zM74.32 949.3H87.64V958.72H74.32zM87.64 949.3H100.96V958.72H87.64zM100.96 949.3H114.28V958.72H100.96zM127.6 949.3H140.93V958.72H127.6zM154.25 949.3H167.57V958.72H154.25zM167.57 949.3H180.89V958.72H167.57zM194.21 949.3H207.53V958.72H194.21zM207.53 949.3H220.85V958.72H207.53zM61 958.72H74.32V968.15H61zM140.93 958.72H154.25V968.15H140.93zM154.25 958.72H167.57V968.15H154.25zM180.89 958.72H194.21V968.15H180.89zM194.21 958.72H207.53V968.15H194.21zM61 968.15H74.32V977.57H61zM74.32 968.15H87.64V977.57H74.32zM87.64 968.15H100.96V977.57H87.64zM100.96 968.15H114.28V977.57H100.96zM114.28 968.15H127.6V977.57H114.28zM127.6 968.15H140.93V977.57H127.6zM140.93 968.15H154.25V977.57H140.93zM154.25 968.15H167.57V977.57H154.25zM167.57 968.15H180.89V977.57H167.57zM180.89 968.15H194.21V977.57H180.89zM194.21 968.15H207.53V977.57H194.21zM207.53 968.15H220.85V977.57H207.53zM61 977.57H74.32V987H61zM74.32 977.57H87.64V987H74.32zM87.64 977.57H100.96V987H87.64zM100.96 977.57H114.28V987H100.96zM114.28 977.57H127.6V987H114.28zM127.6 977.57H140.93V987H127.6zM140.93 977.57H154.25V987H140.93zM154.25 977.57H167.57V987H154.25zM167.57 977.57H180.89V987H167.57zM180.89 977.57H194.21V987H180.89zM194.21 977.57H207.53V987H194.21zM207.53 977.57H220.85V987H207.53zM61 987H74.32V996.42H61zM74.32 987H87.64V996.42H74.32zM87.64 987H100.96V996.42H87.64zM100.96 987H114.28V996.42H100.96zM114.28 987H127.6V996.42H114.28zM127.6 987H140.93V996.42H127.6zM140.93 987H154.25V996.42H140.93zM154.25 987H167.57V996.42H154.25zM167.57 987H180.89V996.42H167.57zM180.89 987H194.21V996.42H180.89zM194.21 987H207.53V996.42H194.21zM207.53 987H220.85V996.42H207.53zM61 996.42H74.32V1005.84H61zM74.32 996.42H87.64V1005.84H74.32zM87.64 996.42H100.96V1005.84H87.64zM100.96 996.42H114.28V1005.84H100.96zM114.28 996.42H127.6V1005.84H114.28zM127.6 996.42H140.93V1005.84H127.6zM140.93 996.42H154.25V1005.84H140.93zM154.25 996.42H167.57V1005.84H154.25zM167.57 996.42H180.89V1005.84H167.57zM180.89 996.42H194.21V1005.84H180.89zM194.21 996.42H207.53V1005.84H194.21zM207.53 996.42H220.85V1005.84H207.53zM74.32 1005.84H87.64V1015.27H74.32zM114.28 1005.84H127.6V1015.27H114.28zM127.6 1005.84H140.93V1015.27H127.6zM154.25 1005.84H167.57V1015.27H154.25zM180.89 1005.84H194.21V1015.27H180.89zM207.53 1005.84H220.85V1015.27H207.53zM61 1015.27H74.32V1024.69H61zM74.32 1015.27H87.64V1024.69H74.32zM87.64 1015.27H100.96V1024.69H87.64zM100.96 1015.27H114.28V1024.69H100.96zM114.28 1015.27H127.6V1024.69H114.28zM127.6 1015.27H140.93V1024.69H127.6zM140.93 1015.27H154.25V1024.69H140.93zM154.25 1015.27H167.57V1024.69H154.25zM167.57 1015.27H180.89V1024.69H167.57zM180.89 1015.27H194.21V1024.69H180.89zM194.21 1015.27H207.53V1024.69H194.21zM207.53 1015.27H220.85V1024.69H207.53zM61 1024.69H74.32V1034.12H61zM74.32 1024.69H87.64V1034.12H74.32zM87.64 1024.69H100.96V1034.12H87.64zM100.96 1024.69H114.28V1034.12H100.96zM114.28 1024.69H127.6V1034.12H114.28zM127.6 1024.69H140.93V1034.12H127.6zM140.93 1024.69H154.25V1034.12H140.93zM154.25 1024.69H167.57V1034.12H154.25zM167.57 1024.69H180.89V1034.12H167.57zM180.89 1024.69H194.21V1034.12H180.89zM194.21 1024.69H207.53V1034.12H194.21zM207.53 1024.69H220.85V1034.12H207.53zM61 1034.12H74.32V1043.54H61zM74.32 1034.12H87.64V1043.54H74.32zM87.64 1034.12H100.96V1043.54H87.64zM100.96 1034.12H114.28V1043.54H100.96zM114.28 1034.12H127.6V1043.54H114.28zM127.6 1034.12H140.93V1043.54H127.6zM140.93 1034.12H154.25V1043.54H140.93zM154.25 1034.12H167.57V1043.54H154.25zM167.57 1034.12H180.89V1043.54H167.57zM180.89 1034.12H194.21V1043.54H180.89zM194.21 1034.12H207.53V1043.54H194.21zM207.53 1034.12H220.85V1043.54H207.53zM61 1043.54H74.32V1052.97H61zM74.32 1043.54H87.64V1052.97H74.32zM100.96 1043.54H114.28V1052.97H100.96zM114.28 1043.54H127.6V1052.97H114.28zM127.6 1043.54H140.93V1052.97H127.6zM154.25 1043.54H167.57V1052.97H154.25zM167.57 1043.54H180.89V1052.97H167.57zM180.89 1043.54H194.21V1052.97H180.89zM194.21 1043.54H207.53V1052.97H194.21zM207.53 1043.54H220.85V1052.97H207.53zM61 1052.97H74.32V1062.39H61zM74.32 1052.97H87.64V1062.39H74.32zM87.64 1052.97H100.96V1062.39H87.64zM100.96 1052.97H114.28V1062.39H100.96zM114.28 1052.97H127.6V1062.39H114.28zM127.6 1052.97H140.93V1062.39H127.6zM140.93 1052.97H154.25V1062.39H140.93zM154.25 1052.97H167.57V1062.39H154.25zM167.57 1052.97H180.89V1062.39H167.57zM180.89 1052.97H194.21V1062.39H180.89zM194.21 1052.97H207.53V1062.39H194.21zM207.53 1052.97H220.85V1062.39H207.53zM61 1062.39H74.32V1071.81H61zM74.32 1062.39H87.64V1071.81H74.32zM87.64 1062.39H100.96V1071.81H87.64zM100.96 1062.39H114.28V1071.81H100.96zM114.28 1062.39H127.6V1071.81H114.28zM127.6 1062.39H140.93V1071.81H127.6zM140.93 1062.39H154.25V1071.81H140.93zM154.25 1062.39H167.57V1071.81H154.25zM167.57 1062.39H180.89V1071.81H167.57zM180.89 1062.39H194.21V1071.81H180.89zM194.21 1062.39H207.53V1071.81H194.21zM207.53 1062.39H220.85V1071.81H207.53zM74.32 1071.81H87.64V1081.24H74.32zM100.96 1071.81H114.28V1081.24H100.96zM127.6 1071.81H140.93V1081.24H127.6zM140.93 1071.81H154.25V1081.24H140.93zM154.25 1071.81H167.57V1081.24H154.25zM194.21 1071.81H207.53V1081.24H194.21zM207.53 1071.81H220.85V1081.24H207.53zM61 1081.24H74.32V1090.66H61zM74.32 1081.24H87.64V1090.66H74.32zM87.64 1081.24H100.96V1090.66H87.64zM100.96 1081.24H114.28V1090.66H100.96zM114.28 1081.24H127.6V1090.66H114.28zM127.6 1081.24H140.93V1090.66H127.6zM140.93 1081.24H154.25V1090.66H140.93zM154.25 1081.24H167.57V1090.66H154.25zM167.57 1081.24H180.89V1090.66H167.57zM180.89 1081.24H194.21V1090.66H180.89zM194.21 1081.24H207.53V1090.66H194.21zM207.53 1081.24H220.85V1090.66H207.53zM61 1090.66H74.32V1100.09H61zM74.32 1090.66H87.64V1100.09H74.32zM87.64 1090.66H100.96V1100.09H87.64zM100.96 1090.66H114.28V1100.09H100.96zM114.28 1090.66H127.6V1100.09H114.28zM127.6 1090.66H140.93V1100.09H127.6zM140.93 1090.66H154.25V1100.09H140.93zM154.25 1090.66H167.57V1100.09H154.25zM180.89 1090.66H194.21V1100.09H180.89zM194.21 1090.66H207.53V1100.09H194.21zM207.53 1090.66H220.85V1100.09H207.53zM61 1100.09H74.32V1109.51H61zM74.32 1100.09H87.64V1109.51H74.32zM87.64 1100.09H100.96V1109.51H87.64zM100.96 1100.09H114.28V1109.51H100.96zM114.28 1100.09H127.6V1109.51H114.28zM127.6 1100.09H140.93V1109.51H127.6zM140.93 1100.09H154.25V1109.51H140.93zM154.25 1100.09H167.57V1109.51H154.25zM167.57 1100.09H180.89V1109.51H167.57zM180.89 1100.09H194.21V1109.51H180.89zM194.21 1100.09H207.53V1109.51H194.21zM207.53 1100.09H220.85V1109.51H207.53zM61 1109.51H74.32V1118.94H61zM74.32 1109.51H87.64V1118.94H74.32zM87.64 1109.51H100.96V1118.94H87.64zM100.96 1109.51H114.28V1118.94H100.96zM127.6 1109.51H140.93V1118.94H127.6zM140.93 1109.51H154.25V1118.94H140.93zM154.25 1109.51H167.57V1118.94H154.25zM167.57 1109.51H180.89V1118.94H167.57zM180.89 1109.51H194.21V1118.94H180.89zM194.21 1109.51H207.53V1118.94H194.21zM207.53 1109.51H220.85V1118.94H207.53zM61 1118.94H74.32V1128.36H61zM74.32 1118.94H87.64V1128.36H74.32zM87.64 1118.94H100.96V1128.36H87.64zM100.96 1118.94H114.28V1128.36H100.96zM114.28 1118.94H127.6V1128.36H114.28zM127.6 1118.94H140.93V1128.36H127.6zM140.93 1118.94H154.25V1128.36H140.93zM154.25 1118.94H167.57V1128.36H154.25zM167.57 1118.94H180.89V1128.36H167.57zM180.89 1118.94H194.21V1128.36H180.89zM194.21 1118.94H207.53V1128.36H194.21zM207.53 1118.94H220.85V1128.36H207.53zM61 1128.36H74.32V1137.78H61zM74.32 1128.36H87.64V1137.78H74.32zM87.64 1128.36H100.96V1137.78H87.64zM100.96 1128.36H114.28V1137.78H100.96zM127.6 1128.36H140.93V1137.78H127.6zM140.93 1128.36H154.25V1137.78H140.93zM154.25 1128.36H167.57V1137.78H154.25zM167.57 1128.36H180.89V1137.78H167.57zM180.89 1128.36H194.21V1137.78H180.89zM207.53 1128.36H220.85V1137.78H207.53zM61 1137.78H74.32V1147.21H61zM74.32 1137.78H87.64V1147.21H74.32zM87.64 1137.78H100.96V1147.21H87.64zM100.96 1137.78H114.28V1147.21H100.96zM114.28 1137.78H127.6V1147.21H114.28zM127.6 1137.78H140.93V1147.21H127.6zM167.57 1137.78H180.89V1147.21H167.57zM180.89 1137.78H194.21V1147.21H180.89zM194.21 1137.78H207.53V1147.21H194.21zM207.53 1137.78H220.85V1147.21H207.53zM61 1147.21H74.32V1156.63H61zM74.32 1147.21H87.64V1156.63H74.32zM87.64 1147.21H100.96V1156.63H87.64zM100.96 1147.21H114.28V1156.63H100.96zM114.28 1147.21H127.6V1156.63H114.28zM127.6 1147.21H140.93V1156.63H127.6zM154.25 1147.21H167.57V1156.63H154.25zM167.57 1147.21H180.89V1156.63H167.57zM207.53 1147.21H220.85V1156.63H207.53zM61 1156.63H74.32V1166.06H61zM74.32 1156.63H87.64V1166.06H74.32zM87.64 1156.63H100.96V1166.06H87.64zM100.96 1156.63H114.28V1166.06H100.96zM114.28 1156.63H127.6V1166.06H114.28zM127.6 1156.63H140.93V1166.06H127.6zM140.93 1156.63H154.25V1166.06H140.93zM154.25 1156.63H167.57V1166.06H154.25zM167.57 1156.63H180.89V1166.06H167.57zM180.89 1156.63H194.21V1166.06H180.89zM194.21 1156.63H207.53V1166.06H194.21zM207.53 1156.63H220.85V1166.06H207.53zM61 1166.06H74.32V1175.48H61zM87.64 1166.06H100.96V1175.48H87.64zM100.96 1166.06H114.28V1175.48H100.96zM114.28 1166.06H127.6V1175.48H114.28zM127.6 1166.06H140.93V1175.48H127.6zM154.25 1166.06H167.57V1175.48H154.25zM180.89 1166.06H194.21V1175.48H180.89zM194.21 1166.06H207.53V1175.48H194.21zM207.53 1166.06H220.85V1175.48H207.53zM61 1175.48H74.32V1184.9H61zM74.32 1175.48H87.64V1184.9H74.32zM87.64 1175.48H100.96V1184.9H87.64zM100.96 1175.48H114.28V1184.9H100.96zM114.28 1175.48H127.6V1184.9H114.28zM127.6 1175.48H140.93V1184.9H127.6zM154.25 1175.48H167.57V1184.9H154.25zM167.57 1175.48H180.89V1184.9H167.57zM180.89 1175.48H194.21V1184.9H180.89zM194.21 1175.48H207.53V1184.9H194.21zM207.53 1175.48H220.85V1184.9H207.53zM61 1184.9H74.32V1194.33H61zM74.32 1184.9H87.64V1194.33H74.32zM87.64 1184.9H100.96V1194.33H87.64zM100.96 1184.9H114.28V1194.33H100.96zM114.28 1184.9H127.6V1194.33H114.28zM127.6 1184.9H140.93V1194.33H127.6zM140.93 1184.9H154.25V1194.33H140.93zM154.25 1184.9H167.57V1194.33H154.25zM167.57 1184.9H180.89V1194.33H167.57zM180.89 1184.9H194.21V1194.33H180.89zM194.21 1184.9H207.53V1194.33H194.21zM207.53 1184.9H220.85V1194.33H207.53zM61 1194.33H74.32V1203.75H61zM74.32 1194.33H87.64V1203.75H74.32zM87.64 1194.33H100.96V1203.75H87.64zM100.96 1194.33H114.28V1203.75H100.96zM114.28 1194.33H127.6V1203.75H114.28zM127.6 1194.33H140.93V1203.75H127.6zM140.93 1194.33H154.25V1203.75H140.93zM154.25 1194.33H167.57V1203.75H154.25zM167.57 1194.33H180.89V1203.75H167.57zM180.89 1194.33H194.21V1203.75H180.89zM194.21 1194.33H207.53V1203.75H194.21zM207.53 1194.33H220.85V1203.75H207.53zM194.21 1213.18H207.53V1222.6H194.21zM207.53 1213.18H220.85V1222.6H207.53zM74.32 1232.03H87.64V1241.45H74.32zM127.6 1232.03H140.93V1241.45H127.6zM167.57 1232.03H180.89V1241.45H167.57zM207.53 1232.03H220.85V1241.45H207.53zM140.93 1241.45H154.25V1250.87H140.93zM180.89 1241.45H194.21V1250.87H180.89zM260.81 1241.45H274.13V1250.87H260.81zM340.74 1241.45H354.06V1250.87H340.74zM154.25 1288.57H167.57V1297.99H154.25zM274.13 1288.57H287.45V1297.99H274.13zM354.06 1288.57H367.38V1297.99H354.06zM314.1 1297.99H327.42V1307.42H314.1zM327.42 1297.99H340.74V1307.42H327.42zM74.32 1307.42H87.64V1316.84H74.32zM340.74 1307.42H354.06V1316.84H340.74zM287.45 1326.27H300.77V1335.69H287.45zM234.17 1335.69H247.49V1345.12H234.17zM260.81 1335.69H274.13V1345.12H260.81zM220.85 1345.12H234.17V1354.54H220.85zM300.77 1345.12H314.1V1354.54H300.77zM327.42 1345.12H340.74V1354.54H327.42zM220.85 1354.54H234.17V1363.96H220.85zM274.13 1354.54H287.45V1363.96H274.13zM367.38 1354.54H380.7V1363.96H367.38zM354.06 1363.96H367.38V1373.39H354.06zM354.06 1420.51H367.38V1429.93H354.06zM140.93 1486.48H154.25V1495.9H140.93zM194.21 1514.75H207.53V1524.18H194.21zM74.32 1524.18H87.64V1533.6H74.32z"/>
<path fill="#98c8e2" d="M127.6 63.42H140.93V72.85H127.6zM194.21 63.42H207.53V72.85H194.21zM180.89 119.97H194.21V129.39H180.89zM180.89 129.39H194.21V138.82H180.89zM340.74 129.39H354.06V138.82H340.74zM74.32 138.82H87.64V148.24H74.32zM167.57 138.82H180.89V148.24H167.57zM180.89 138.82H194.21V148.24H180.89zM61 148.24H74.32V157.67H61zM140.93 148.24H154.25V157.67H140.93zM167.57 148.24H180.89V157.67H167.57zM180.89 148.24H194.21V157.67H180.89zM167.57 167.09H180.89V176.51H167.57zM180.89 167.09H194.21V176.51H180.89zM194.21 167.09H207.53V176.51H194.21zM207.53 167.09H220.85V176.51H207.53zM154.25 176.51H167.57V185.94H154.25zM180.89 176.51H194.21V185.94H180.89zM207.53 176.51H220.85V185.94H207.53zM180.89 185.94H194.21V195.36H180.89zM340.74 185.94H354.06V195.36H340.74zM154.25 195.36H167.57V204.79H154.25zM180.89 195.36H194.21V204.79H180.89zM180.89 204.79H194.21V214.21H180.89zM180.89 214.21H194.21V223.64H180.89zM207.53 214.21H220.85V223.64H207.53zM140.93 233.06H154.25V242.48H140.93zM180.89 233.06H194.21V242.48H180.89zM207.53 233.06H220.85V242.48H207.53zM167.57 242.48H180.89V251.91H167.57zM167.57 251.91H180.89V261.33H167.57zM180.89 251.91H194.21V261.33H180.89zM207.53 251.91H220.85V261.33H207.53zM167.57 261.33H180.89V270.76H167.57zM180.89 261.33H194.21V270.76H180.89zM207.53 261.33H220.85V270.76H207.53zM167.57 270.76H180.89V280.18H167.57zM180.89 270.76H194.21V280.18H180.89zM207.53 270.76H220.85V280.18H207.53zM154.25 308.45H167.57V317.88H154.25zM180.89 308.45H194.21V317.88H180.89zM340.74 308.45H354.06V317.88H340.74zM180.89 317.88H194.21V327.3H180.89zM207.53 327.3H220.85V336.73H207.53zM180.89 336.73H194.21V346.15H180.89zM340.74 336.73H354.06V346.15H340.74zM140.93 346.15H154.25V355.57H140.93zM180.89 346.15H194.21V355.57H180.89zM167.57 383.85H180.89V393.27H167.57zM180.89 383.85H194.21V393.27H180.89zM167.57 393.27H180.89V402.7H167.57zM180.89 393.27H194.21V402.7H180.89zM167.57 402.7H180.89V412.12H167.57zM180.89 402.7H194.21V412.12H180.89zM207.53 402.7H220.85V412.12H207.53zM154.25 412.12H167.57V421.54H154.25zM167.57 412.12H180.89V421.54H167.57zM180.89 412.12H194.21V421.54H180.89zM154.25 421.54H167.57V430.97H154.25zM180.89 421.54H194.21V430.97H180.89zM207.53 421.54H220.85V430.97H207.53zM140.93 430.97H154.25V440.39H140.93zM180.89 430.97H194.21V440.39H180.89zM180.89 440.39H194.21V449.82H180.89zM140.93 449.82H154.25V459.24H140.93zM180.89 449.82H194.21V459.24H180.89zM207.53 459.24H220.85V468.66H207.53zM367.38 459.24H380.7V468.66H367.38zM180.89 478.09H194.21V487.51H180.89zM154.25 487.51H167.57V496.94H154.25zM180.89 487.51H194.21V496.94H180.89zM167.57 496.94H180.89V506.36H167.57zM207.53 496.94H220.85V506.36H207.53zM167.57 515.79H180.89V525.21H167.57zM180.89 515.79H194.21V525.21H180.89zM207.53 515.79H220.85V525.21H207.53zM340.74 515.79H354.06V525.21H340.74zM167.57 525.21H180.89V534.63H167.57zM180.89 525.21H194.21V534.63H180.89zM140.93 544.06H154.25V553.48H140.93zM180.89 544.06H194.21V553.48H180.89zM207.53 544.06H220.85V553.48H207.53zM140.93 553.48H154.25V562.91H140.93zM207.53 553.48H220.85V562.91H207.53zM140.93 562.91H154.25V572.33H140.93zM167.57 562.91H180.89V572.33H167.57zM180.89 562.91H194.21V572.33H180.89zM207.53 562.91H220.85V572.33H207.53zM140.93 572.33H154.25V581.76H140.93zM167.57 572.33H180.89V581.76H167.57zM180.89 572.33H194.21V581.76H180.89zM167.57 581.76H180.89V591.18H167.57zM180.89 581.76H194.21V591.18H180.89zM167.57 591.18H180.89V600.6H167.57zM207.53 591.18H220.85V600.6H207.53zM180.89 610.03H194.21V619.45H180.89zM140.93 619.45H154.25V628.88H140.93zM154.25 638.3H167.57V647.72H154.25zM100.96 657.15H114.28V666.57H100.96zM180.89 657.15H194.21V666.57H180.89zM207.53 657.15H220.85V666.57H207.53zM194.21 685.42H207.53V694.85H194.21zM354.06 685.42H367.38V694.85H354.06zM140.93 741.97H154.25V751.39H140.93zM167.57 741.97H180.89V751.39H167.57zM167.57 817.36H180.89V826.78H167.57zM180.89 817.36H194.21V826.78H180.89zM194.21 817.36H207.53V826.78H194.21zM180.89 826.78H194.21V836.21H180.89zM194.21 826.78H207.53V836.21H194.21zM154.25 836.21H167.57V845.63H154.25zM207.53 836.21H220.85V845.63H207.53zM167.57 845.63H180.89V855.06H167.57zM207.53 845.63H220.85V855.06H207.53zM207.53 855.06H220.85V864.48H207.53zM354.06 855.06H367.38V864.48H354.06zM74.32 864.48H87.64V873.91H74.32zM114.28 873.91H127.6V883.33H114.28zM194.21 873.91H207.53V883.33H194.21zM100.96 921.03H114.28V930.45H100.96zM154.25 921.03H167.57V930.45H154.25zM194.21 921.03H207.53V930.45H194.21zM140.93 949.3H154.25V958.72H140.93zM180.89 949.3H194.21V958.72H180.89zM74.32 1213.18H87.64V1222.6H74.32zM114.28 1213.18H127.6V1222.6H114.28zM154.25 1213.18H167.57V1222.6H154.25zM167.57 1213.18H180.89V1222.6H167.57zM180.89 1213.18H194.21V1222.6H180.89zM74.32 1241.45H87.64V1250.87H74.32zM154.25 1241.45H167.57V1250.87H154.25zM194.21 1241.45H207.53V1250.87H194.21zM274.13 1241.45H287.45V1250.87H274.13zM314.1 1307.42H327.42V1316.84H314.1z"/>
<path fill="#fce7de" d="M167.57 63.42H180.89V72.85H167.57zM234.17 63.42H247.49V72.85H234.17zM247.49 63.42H260.81V72.85H247.49zM260.81 63.42H274.13V72.85H260.81zM300.77 63.42H314.1V72.85H300.77zM314.1 63.42H327.42V72.85H314.1zM100.96 72.85H114.28V82.27H100.96zM247.49 72.85H260.81V82.27H247.49zM260.81 72.85H274.13V82.27H260.81zM274.13 72.85H287.45V82.27H274.13zM247.49 82.27H260.81V91.7H247.49zM300.77 82.27H314.1V91.7H300.77zM194.21 91.7H207.53V101.12H194.21zM300.77 91.7H314.1V101.12H300.77zM220.85 101.12H234.17V110.55H220.85zM274.13 101.12H287.45V110.55H274.13zM87.64 110.55H100.96V119.97H87.64zM127.6 110.55H140.93V119.97H127.6zM314.1 110.55H327.42V119.97H314.1zM327.42 110.55H340.74V119.97H327.42zM114.28 119.97H127.6V129.39H114.28zM127.6 119.97H140.93V129.39H127.6zM220.85 129.39H234.17V138.82H220.85zM274.13 129.39H287.45V138.82H274.13zM327.42 129.39H340.74V138.82H327.42zM220.85 138.82H234.17V148.24H220.85zM220.85 148.24H234.17V157.67H220.85zM234.17 148.24H247.49V157.67H234.17zM327.42 148.24H340.74V157.67H327.42zM367.38 148.24H380.7V157.67H367.38zM367.38 157.67H380.7V167.09H367.38zM220.85 167.09H234.17V176.51H220.85zM287.45 167.09H300.77V176.51H287.45zM367.38 167.09H380.7V176.51H367.38zM100.96 176.51H114.28V185.94H100.96zM247.49 176.51H260.81V185.94H247.49zM287.45 176.51H300.77V185.94H287.45zM327.42 176.51H340.74V185.94H327.42zM340.74 176.51H354.06V185.94H340.74zM100.96 185.94H114.28V195.36H100.96zM220.85 185.94H234.17V195.36H220.85zM247.49 185.94H260.81V195.36H247.49zM87.64 195.36H100.96V204.79H87.64zM114.28 195.36H127.6V204.79H114.28zM220.85 195.36H234.17V204.79H220.85zM247.49 195.36H260.81V204.79H247.49zM300.77 195.36H314.1V204.79H300.77zM327.42 195.36H340.74V204.79H327.42zM220.85 204.79H234.17V214.21H220.85zM287.45 204.79H300.77V214.21H287.45zM100.96 214.21H114.28V223.64H100.96zM220.85 214.21H234.17V223.64H220.85zM287.45 214.21H300.77V223.64H287.45zM354.06 214.21H367.38V223.64H354.06zM100.96 223.64H114.28V233.06H100.96zM234.17 223.64H247.49V233.06H234.17zM287.45 223.64H300.77V233.06H287.45zM327.42 223.64H340.74V233.06H327.42zM61 233.06H74.32V242.48H61zM127.6 233.06H140.93V242.48H127.6zM234.17 233.06H247.49V242.48H234.17zM260.81 233.06H274.13V242.48H260.81zM287.45 233.06H300.77V242.48H287.45zM100.96 242.48H114.28V251.91H100.96zM234.17 242.48H247.49V251.91H234.17zM247.49 242.48H260.81V251.91H247.49zM260.81 242.48H274.13V251.91H260.81zM314.1 242.48H327.42V251.91H314.1zM114.28 251.91H127.6V261.33H114.28zM260.81 251.91H274.13V261.33H260.81zM287.45 251.91H300.77V261.33H287.45zM327.42 251.91H340.74V261.33H327.42zM61 261.33H74.32V270.76H61zM87.64 261.33H100.96V270.76H87.64zM100.96 261.33H114.28V270.76H100.96zM314.1 261.33H327.42V270.76H314.1zM327.42 261.33H340.74V270.76H327.42zM274.13 270.76H287.45V280.18H274.13zM314.1 270.76H327.42V280.18H314.1zM327.42 270.76H340.74V280.18H327.42zM87.64 280.18H100.96V289.61H87.64zM220.85 280.18H234.17V289.61H220.85zM327.42 280.18H340.74V289.61H327.42zM367.38 280.18H380.7V289.61H367.38zM260.81 289.61H274.13V299.03H260.81zM327.42 289.61H340.74V299.03H327.42zM114.28 299.03H127.6V308.45H114.28zM260.81 299.03H274.13V308.45H260.81zM74.32 308.45H87.64V317.88H74.32zM87.64 308.45H100.96V317.88H87.64zM260.81 308.45H274.13V317.88H260.81zM327.42 308.45H340.74V317.88H327.42zM74.32 327.3H87.64V336.73H74.32zM100.96 327.3H114.28V336.73H100.96zM127.6 327.3H140.93V336.73H127.6zM247.49 327.3H260.81V336.73H247.49zM327.42 327.3H340.74V336.73H327.42zM74.32 336.73H87.64V346.15H74.32zM87.64 336.73H100.96V346.15H87.64zM100.96 336.73H114.28V346.15H100.96zM127.6 336.73H140.93V346.15H127.6zM127.6 346.15H140.93V355.57H127.6zM100.96 355.57H114.28V365H100.96zM127.6 355.57H140.93V365H127.6zM260.81 355.57H274.13V365H260.81zM274.13 355.57H287.45V365H274.13zM74.32 365H87.64V374.42H74.32zM247.49 365H260.81V374.42H247.49zM287.45 365H300.77V374.42H287.45zM327.42 365H340.74V374.42H327.42zM354.06 365H367.38V374.42H354.06zM367.38 365H380.7V374.42H367.38zM74.32 374.42H87.64V383.85H74.32zM87.64 374.42H100.96V383.85H87.64zM100.96 374.42H114.28V383.85H100.96zM247.49 374.42H260.81V383.85H247.49zM260.81 374.42H274.13V383.85H260.81zM127.6 383.85H140.93V393.27H127.6zM247.49 383.85H260.81V393.27H247.49zM287.45 383.85H300.77V393.27H287.45zM327.42 383.85H340.74V393.27H327.42zM127.6 393.27H140.93V402.7H127.6zM220.85 393.27H234.17V402.7H220.85zM87.64 402.7H100.96V412.12H87.64zM127.6 402.7H140.93V412.12H127.6zM287.45 402.7H300.77V412.12H287.45zM327.42 402.7H340.74V412.12H327.42zM127.6 412.12H140.93V421.54H127.6zM74.32 421.54H87.64V430.97H74.32zM127.6 421.54H140.93V430.97H127.6zM220.85 421.54H234.17V430.97H220.85zM247.49 421.54H260.81V430.97H247.49zM300.77 421.54H314.1V430.97H300.77zM74.32 430.97H87.64V440.39H74.32zM87.64 430.97H100.96V440.39H87.64zM100.96 430.97H114.28V440.39H100.96zM127.6 430.97H140.93V440.39H127.6zM247.49 430.97H260.81V440.39H247.49zM74.32 440.39H87.64V449.82H74.32zM127.6 440.39H140.93V449.82H127.6zM220.85 440.39H234.17V449.82H220.85zM61 449.82H74.32V459.24H61zM74.32 449.82H87.64V459.24H74.32zM100.96 449.82H114.28V459.24H100.96zM127.6 449.82H140.93V459.24H127.6zM87.64 459.24H100.96V468.66H87.64zM127.6 459.24H140.93V468.66H127.6zM247.49 459.24H260.81V468.66H247.49zM61 468.66H74.32V478.09H61zM114.28 468.66H127.6V478.09H114.28zM127.6 478.09H140.93V487.51H127.6zM220.85 478.09H234.17V487.51H220.85zM247.49 478.09H260.81V487.51H247.49zM274.13 487.51H287.45V496.94H274.13zM300.77 487.51H314.1V496.94H300.77zM327.42 487.51H340.74V496.94H327.42zM354.06 487.51H367.38V496.94H354.06zM87.64 496.94H100.96V506.36H87.64zM100.96 496.94H114.28V506.36H100.96zM127.6 496.94H140.93V506.36H127.6zM220.85 496.94H234.17V506.36H220.85zM247.49 496.94H260.81V506.36H247.49zM300.77 496.94H314.1V506.36H300.77zM220.85 506.36H234.17V515.79H220.85zM100.96 515.79H114.28V525.21H100.96zM247.49 515.79H260.81V525.21H247.49zM260.81 515.79H274.13V525.21H260.81zM87.64 525.21H100.96V534.63H87.64zM247.49 525.21H260.81V534.63H247.49zM260.81 525.21H274.13V534.63H260.81zM274.13 525.21H287.45V534.63H274.13zM327.42 525.21H340.74V534.63H327.42zM247.49 534.63H260.81V544.06H247.49zM260.81 534.63H274.13V544.06H260.81zM274.13 534.63H287.45V544.06H274.13zM327.42 534.63H340.74V544.06H327.42zM100.96 544.06H114.28V553.48H100.96zM220.85 544.06H234.17V553.48H220.85zM314.1 544.06H327.42V553.48H314.1zM220.85 553.48H234.17V562.91H220.85zM247.49 553.48H260.81V562.91H247.49zM274.13 553.48H287.45V562.91H274.13zM327.42 553.48H340.74V562.91H327.42zM220.85 562.91H234.17V572.33H220.85zM260.81 562.91H274.13V572.33H260.81zM220.85 572.33H234.17V581.76H220.85zM234.17 572.33H247.49V581.76H234.17zM274.13 572.33H287.45V581.76H274.13zM327.42 572.33H340.74V581.76H327.42zM354.06 572.33H367.38V581.76H354.06zM100.96 581.76H114.28V591.18H100.96zM127.6 581.76H140.93V591.18H127.6zM220.85 581.76H234.17V591.18H220.85zM274.13 581.76H287.45V591.18H274.13zM327.42 581.76H340.74V591.18H327.42zM74.32 591.18H87.64V600.6H74.32zM100.96 591.18H114.28V600.6H100.96zM220.85 591.18H234.17V600.6H220.85zM274.13 591.18H287.45V600.6H274.13zM327.42 591.18H340.74V600.6H327.42zM74.32 600.6H87.64V610.03H74.32zM100.96 600.6H114.28V610.03H100.96zM127.6 600.6H140.93V610.03H127.6zM220.85 600.6H234.17V610.03H220.85zM74.32 610.03H87.64V619.45H74.32zM100.96 610.03H114.28V619.45H100.96zM220.85 610.03H234.17V619.45H220.85zM327.42 610.03H340.74V619.45H327.42zM327.42 619.45H340.74V628.88H327.42zM61 628.88H74.32V638.3H61zM300.77 628.88H314.1V638.3H300.77zM61 638.3H74.32V647.72H61zM260.81 638.3H274.13V647.72H260.81zM367.38 638.3H380.7V647.72H367.38zM87.64 647.72H100.96V657.15H87.64zM127.6 647.72H140.93V657.15H127.6zM300.77 647.72H314.1V657.15H300.77zM287.45 657.15H300.77V666.57H287.45zM300.77 657.15H314.1V666.57H300.77zM220.85 666.57H234.17V676H220.85zM247.49 666.57H260.81V676H247.49zM287.45 666.57H300.77V676H287.45zM300.77 666.57H314.1V676H300.77zM220.85 676H234.17V685.42H220.85zM287.45 676H300.77V685.42H287.45zM300.77 676H314.1V685.42H300.77zM87.64 685.42H100.96V694.85H87.64zM247.49 685.42H260.81V694.85H247.49zM287.45 685.42H300.77V694.85H287.45zM300.77 685.42H314.1V694.85H300.77zM340.74 685.42H354.06V694.85H340.74zM247.49 694.85H260.81V704.27H247.49zM287.45 694.85H300.77V704.27H287.45zM300.77 694.85H314.1V704.27H300.77zM340.74 694.85H354.06V704.27H340.74zM220.85 704.27H234.17V713.69H220.85zM247.49 704.27H260.81V713.69H247.49zM300.77 704.27H314.1V713.69H300.77zM340.74 704.27H354.06V713.69H340.74zM220.85 713.69H234.17V723.12H220.85zM287.45 713.69H300.77V723.12H287.45zM300.77 713.69H314.1V723.12H300.77zM340.74 713.69H354.06V723.12H340.74zM287.45 723.12H300.77V732.54H287.45zM300.77 723.12H314.1V732.54H300.77zM340.74 723.12H354.06V732.54H340.74zM247.49 732.54H260.81V741.97H247.49zM287.45 732.54H300.77V741.97H287.45zM300.77 732.54H314.1V741.97H300.77zM340.74 732.54H354.06V741.97H340.74zM247.49 741.97H260.81V751.39H247.49zM287.45 741.97H300.77V751.39H287.45zM300.77 741.97H314.1V751.39H300.77zM340.74 741.97H354.06V751.39H340.74zM287.45 751.39H300.77V760.82H287.45zM300.77 751.39H314.1V760.82H300.77zM340.74 751.39H354.06V760.82H340.74zM247.49 760.82H260.81V770.24H247.49zM287.45 760.82H300.77V770.24H287.45zM300.77 760.82H314.1V770.24H300.77zM340.74 760.82H354.06V770.24H340.74zM247.49 770.24H260.81V779.66H247.49zM287.45 770.24H300.77V779.66H287.45zM300.77 770.24H314.1V779.66H300.77zM340.74 770.24H354.06V779.66H340.74zM247.49 779.66H260.81V789.09H247.49zM287.45 779.66H300.77V789.09H287.45zM300.77 779.66H314.1V789.09H300.77zM340.74 779.66H354.06V789.09H340.74zM247.49 789.09H260.81V798.51H247.49zM287.45 789.09H300.77V798.51H287.45zM300.77 789.09H314.1V798.51H300.77zM340.74 789.09H354.06V798.51H340.74zM367.38 798.51H380.7V807.94H367.38zM87.64 807.94H100.96V817.36H87.64zM114.28 807.94H127.6V817.36H114.28zM234.17 807.94H247.49V817.36H234.17zM287.45 807.94H300.77V817.36H287.45zM300.77 807.94H314.1V817.36H300.77zM340.74 807.94H354.06V817.36H340.74zM274.13 817.36H287.45V826.78H274.13zM287.45 817.36H300.77V826.78H287.45zM300.77 817.36H314.1V826.78H300.77zM340.74 817.36H354.06V826.78H340.74zM274.13 826.78H287.45V836.21H274.13zM300.77 826.78H314.1V836.21H300.77zM340.74 826.78H354.06V836.21H340.74zM100.96 836.21H114.28V845.63H100.96zM114.28 836.21H127.6V845.63H114.28zM127.6 836.21H140.93V845.63H127.6zM274.13 836.21H287.45V845.63H274.13zM300.77 836.21H314.1V845.63H300.77zM340.74 836.21H354.06V845.63H340.74zM127.6 845.63H140.93V855.06H127.6zM247.49 845.63H260.81V855.06H247.49zM274.13 845.63H287.45V855.06H274.13zM340.74 845.63H354.06V855.06H340.74zM100.96 855.06H114.28V864.48H100.96zM274.13 855.06H287.45V864.48H274.13zM287.45 855.06H300.77V864.48H287.45zM314.1 855.06H327.42V864.48H314.1zM180.89 864.48H194.21V873.91H180.89zM274.13 864.48H287.45V873.91H274.13zM300.77 864.48H314.1V873.91H300.77zM340.74 864.48H354.06V873.91H340.74zM247.49 873.91H260.81V883.33H247.49zM314.1 873.91H327.42V883.33H314.1zM327.42 873.91H340.74V883.33H327.42zM354.06 873.91H367.38V883.33H354.06zM234.17 883.33H247.49V892.75H234.17zM260.81 883.33H274.13V892.75H260.81zM340.74 883.33H354.06V892.75H340.74zM234.17 892.75H247.49V902.18H234.17zM260.81 892.75H274.13V902.18H260.81zM300.77 892.75H314.1V902.18H300.77zM327.42 892.75H340.74V902.18H327.42zM340.74 892.75H354.06V902.18H340.74zM354.06 892.75H367.38V902.18H354.06zM247.49 902.18H260.81V911.6H247.49zM260.81 902.18H274.13V911.6H260.81zM300.77 902.18H314.1V911.6H300.77zM234.17 911.6H247.49V921.03H234.17zM247.49 911.6H260.81V921.03H247.49zM300.77 911.6H314.1V921.03H300.77zM314.1 911.6H327.42V921.03H314.1zM220.85 921.03H234.17V930.45H220.85zM234.17 921.03H247.49V930.45H234.17zM247.49 921.03H260.81V930.45H247.49zM300.77 921.03H314.1V930.45H300.77zM327.42 921.03H340.74V930.45H327.42zM340.74 921.03H354.06V930.45H340.74zM354.06 921.03H367.38V930.45H354.06zM367.38 921.03H380.7V930.45H367.38zM247.49 930.45H260.81V939.88H247.49zM260.81 930.45H274.13V939.88H260.81zM300.77 930.45H314.1V939.88H300.77zM220.85 939.88H234.17V949.3H220.85zM234.17 939.88H247.49V949.3H234.17zM247.49 939.88H260.81V949.3H247.49zM260.81 939.88H274.13V949.3H260.81zM287.45 939.88H300.77V949.3H287.45zM314.1 939.88H327.42V949.3H314.1zM287.45 949.3H300.77V958.72H287.45zM300.77 949.3H314.1V958.72H300.77zM314.1 949.3H327.42V958.72H314.1zM327.42 949.3H340.74V958.72H327.42zM340.74 949.3H354.06V958.72H340.74zM367.38 949.3H380.7V958.72H367.38zM234.17 958.72H247.49V968.15H234.17zM287.45 958.72H300.77V968.15H287.45zM340.74 958.72H354.06V968.15H340.74zM354.06 958.72H367.38V968.15H354.06zM287.45 968.15H300.77V977.57H287.45zM327.42 968.15H340.74V977.57H327.42zM340.74 968.15H354.06V977.57H340.74zM354.06 968.15H367.38V977.57H354.06zM234.17 977.57H247.49V987H234.17zM340.74 977.57H354.06V987H340.74zM354.06 977.57H367.38V987H354.06zM367.38 977.57H380.7V987H367.38zM234.17 987H247.49V996.42H234.17zM287.45 987H300.77V996.42H287.45zM327.42 987H340.74V996.42H327.42zM340.74 987H354.06V996.42H340.74zM354.06 987H367.38V996.42H354.06zM234.17 996.42H247.49V1005.84H234.17zM287.45 996.42H300.77V1005.84H287.45zM300.77 996.42H314.1V1005.84H300.77zM340.74 996.42H354.06V1005.84H340.74zM354.06 996.42H367.38V1005.84H354.06zM234.17 1005.84H247.49V1015.27H234.17zM300.77 1005.84H314.1V1015.27H300.77zM327.42 1005.84H340.74V1015.27H327.42zM340.74 1005.84H354.06V1015.27H340.74zM234.17 1015.27H247.49V1024.69H234.17zM300.77 1015.27H314.1V1024.69H300.77zM340.74 1015.27H354.06V1024.69H340.74zM234.17 1024.69H247.49V1034.12H234.17zM327.42 1024.69H340.74V1034.12H327.42zM340.74 1024.69H354.06V1034.12H340.74zM234.17 1034.12H247.49V1043.54H234.17zM287.45 1034.12H300.77V1043.54H287.45zM327.42 1034.12H340.74V1043.54H327.42zM340.74 1034.12H354.06V1043.54H340.74zM234.17 1043.54H247.49V1052.97H234.17zM287.45 1043.54H300.77V1052.97H287.45zM327.42 1043.54H340.74V1052.97H327.42zM287.45 1052.97H300.77V1062.39H287.45zM327.42 1052.97H340.74V1062.39H327.42zM354.06 1052.97H367.38V1062.39H354.06zM234.17 1062.39H247.49V1071.81H234.17zM327.42 1062.39H340.74V1071.81H327.42zM340.74 1062.39H354.06V1071.81H340.74zM234.17 1071.81H247.49V1081.24H234.17zM287.45 1071.81H300.77V1081.24H287.45zM340.74 1071.81H354.06V1081.24H340.74zM234.17 1081.24H247.49V1090.66H234.17zM287.45 1081.24H300.77V1090.66H287.45zM340.74 1081.24H354.06V1090.66H340.74zM367.38 1081.24H380.7V1090.66H367.38zM234.17 1090.66H247.49V1100.09H234.17zM287.45 1090.66H300.77V1100.09H287.45zM327.42 1090.66H340.74V1100.09H327.42zM234.17 1100.09H247.49V1109.51H234.17zM247.49 1100.09H260.81V1109.51H247.49zM274.13 1100.09H287.45V1109.51H274.13zM287.45 1100.09H300.77V1109.51H287.45zM327.42 1100.09H340.74V1109.51H327.42zM340.74 1100.09H354.06V1109.51H340.74zM247.49 1109.51H260.81V1118.94H247.49zM300.77 1109.51H314.1V1118.94H300.77zM327.42 1137.78H340.74V1147.21H327.42zM274.13 1156.63H287.45V1166.06H274.13zM61 1203.75H74.32V1213.18H61zM300.77 1203.75H314.1V1213.18H300.77zM234.17 1213.18H247.49V1222.6H234.17zM260.81 1213.18H274.13V1222.6H260.81zM114.28 1232.03H127.6V1241.45H114.28zM154.25 1232.03H167.57V1241.45H154.25zM167.57 1241.45H180.89V1250.87H167.57zM234.17 1241.45H247.49V1250.87H234.17zM327.42 1241.45H340.74V1250.87H327.42zM127.6 1288.57H140.93V1297.99H127.6zM207.53 1288.57H220.85V1297.99H207.53zM207.53 1297.99H220.85V1307.42H207.53zM87.64 1307.42H100.96V1316.84H87.64zM127.6 1307.42H140.93V1316.84H127.6zM61 1316.84H74.32V1326.27H61zM140.93 1316.84H154.25V1326.27H140.93zM194.21 1316.84H207.53V1326.27H194.21zM74.32 1326.27H87.64V1335.69H74.32zM87.64 1326.27H100.96V1335.69H87.64zM100.96 1326.27H114.28V1335.69H100.96zM114.28 1326.27H127.6V1335.69H114.28zM127.6 1326.27H140.93V1335.69H127.6zM140.93 1326.27H154.25V1335.69H140.93zM74.32 1335.69H87.64V1345.12H74.32zM100.96 1335.69H114.28V1345.12H100.96zM114.28 1335.69H127.6V1345.12H114.28zM127.6 1335.69H140.93V1345.12H127.6zM140.93 1335.69H154.25V1345.12H140.93zM207.53 1335.69H220.85V1345.12H207.53zM87.64 1345.12H100.96V1354.54H87.64zM100.96 1345.12H114.28V1354.54H100.96zM140.93 1345.12H154.25V1354.54H140.93zM167.57 1345.12H180.89V1354.54H167.57zM194.21 1345.12H207.53V1354.54H194.21zM74.32 1354.54H87.64V1363.96H74.32zM87.64 1354.54H100.96V1363.96H87.64zM114.28 1354.54H127.6V1363.96H114.28zM127.6 1354.54H140.93V1363.96H127.6zM140.93 1354.54H154.25V1363.96H140.93zM61 1363.96H74.32V1373.39H61zM74.32 1363.96H87.64V1373.39H74.32zM100.96 1363.96H114.28V1373.39H100.96zM127.6 1363.96H140.93V1373.39H127.6zM140.93 1363.96H154.25V1373.39H140.93zM180.89 1363.96H194.21V1373.39H180.89zM194.21 1363.96H207.53V1373.39H194.21zM61 1373.39H74.32V1382.81H61zM74.32 1373.39H87.64V1382.81H74.32zM87.64 1373.39H100.96V1382.81H87.64zM100.96 1373.39H114.28V1382.81H100.96zM114.28 1373.39H127.6V1382.81H114.28zM140.93 1373.39H154.25V1382.81H140.93zM180.89 1373.39H194.21V1382.81H180.89zM194.21 1373.39H207.53V1382.81H194.21zM207.53 1373.39H220.85V1382.81H207.53zM61 1382.81H74.32V1392.24H61zM74.32 1382.81H87.64V1392.24H74.32zM87.64 1382.81H100.96V1392.24H87.64zM114.28 1382.81H127.6V1392.24H114.28zM180.89 1382.81H194.21V1392.24H180.89zM194.21 1382.81H207.53V1392.24H194.21zM207.53 1382.81H220.85V1392.24H207.53zM74.32 1392.24H87.64V1401.66H74.32zM87.64 1392.24H100.96V1401.66H87.64zM114.28 1392.24H127.6V1401.66H114.28zM127.6 1392.24H140.93V1401.66H127.6zM140.93 1392.24H154.25V1401.66H140.93zM180.89 1392.24H194.21V1401.66H180.89zM194.21 1392.24H207.53V1401.66H194.21zM61 1401.66H74.32V1411.09H61zM74.32 1401.66H87.64V1411.09H74.32zM87.64 1401.66H100.96V1411.09H87.64zM100.96 1401.66H114.28V1411.09H100.96zM127.6 1401.66H140.93V1411.09H127.6zM140.93 1401.66H154.25V1411.09H140.93zM180.89 1401.66H194.21V1411.09H180.89zM194.21 1401.66H207.53V1411.09H194.21zM207.53 1401.66H220.85V1411.09H207.53zM127.6 1411.09H140.93V1420.51H127.6zM140.93 1411.09H154.25V1420.51H140.93zM74.32 1420.51H87.64V1429.93H74.32zM127.6 1420.51H140.93V1429.93H127.6zM154.25 1420.51H167.57V1429.93H154.25zM167.57 1420.51H180.89V1429.93H167.57zM194.21 1420.51H207.53V1429.93H194.21zM207.53 1420.51H220.85V1429.93H207.53zM74.32 1429.93H87.64V1439.36H74.32zM154.25 1429.93H167.57V1439.36H154.25zM167.57 1429.93H180.89V1439.36H167.57zM180.89 1429.93H194.21V1439.36H180.89zM194.21 1429.93H207.53V1439.36H194.21zM100.96 1448.78H114.28V1458.21H100.96zM167.57 1448.78H180.89V1458.21H167.57zM207.53 1448.78H220.85V1458.21H207.53zM74.32 1458.21H87.64V1467.63H74.32zM127.6 1458.21H140.93V1467.63H127.6zM154.25 1458.21H167.57V1467.63H154.25zM167.57 1458.21H180.89V1467.63H167.57zM207.53 1458.21H220.85V1467.63H207.53zM74.32 1467.63H87.64V1477.05H74.32zM127.6 1467.63H140.93V1477.05H127.6zM180.89 1467.63H194.21V1477.05H180.89zM207.53 1467.63H220.85V1477.05H207.53zM127.6 1477.05H140.93V1486.48H127.6zM167.57 1477.05H180.89V1486.48H167.57zM180.89 1477.05H194.21V1486.48H180.89zM207.53 1477.05H220.85V1486.48H207.53zM74.32 1486.48H87.64V1495.9H74.32zM100.96 1495.9H114.28V1505.33H100.96zM154.25 1495.9H167.57V1505.33H154.25zM180.89 1495.9H194.21V1505.33H180.89zM74.32 1505.33H87.64V1514.75H74.32zM87.64 1505.33H100.96V1514.75H87.64zM154.25 1505.33H167.57V1514.75H154.25zM167.57 1505.33H180.89V1514.75H167.57zM207.53 1505.33H220.85V1514.75H207.53zM114.28 1514.75H127.6V1524.18H114.28zM127.6 1514.75H140.93V1524.18H127.6zM180.89 1514.75H194.21V1524.18H180.89zM114.28 1524.18H127.6V1533.6H114.28zM127.6 1524.18H140.93V1533.6H127.6zM167.57 1524.18H180.89V1533.6H167.57zM180.89 1524.18H194.21V1533.6H180.89z"/>
<path fill="#fbd6c5" d="M220.85 63.42H234.17V72.85H220.85zM127.6 72.85H140.93V82.27H127.6zM87.64 101.12H100.96V110.55H87.64zM287.45 101.12H300.77V110.55H287.45zM114.28 110.55H127.6V119.97H114.28zM274.13 119.97H287.45V129.39H274.13zM100.96 129.39H114.28V138.82H100.96zM234.17 129.39H247.49V138.82H234.17zM314.1 129.39H327.42V138.82H314.1zM287.45 138.82H300.77V148.24H287.45zM314.1 138.82H327.42V148.24H314.1zM100.96 148.24H114.28V157.67H100.96zM127.6 148.24H140.93V157.67H127.6zM300.77 167.09H314.1V176.51H300.77zM61 176.51H74.32V185.94H61zM114.28 185.94H127.6V195.36H114.28zM300.77 185.94H314.1V195.36H300.77zM260.81 204.79H274.13V214.21H260.81zM354.06 204.79H367.38V214.21H354.06zM87.64 214.21H100.96V223.64H87.64zM327.42 214.21H340.74V223.64H327.42zM87.64 223.64H100.96V233.06H87.64zM314.1 233.06H327.42V242.48H314.1zM127.6 242.48H140.93V251.91H127.6zM220.85 251.91H234.17V261.33H220.85zM247.49 261.33H260.81V270.76H247.49zM287.45 261.33H300.77V270.76H287.45zM87.64 270.76H100.96V280.18H87.64zM234.17 270.76H247.49V280.18H234.17zM287.45 270.76H300.77V280.18H287.45zM234.17 280.18H247.49V289.61H234.17zM327.42 299.03H340.74V308.45H327.42zM114.28 308.45H127.6V317.88H114.28zM74.32 317.88H87.64V327.3H74.32zM87.64 317.88H100.96V327.3H87.64zM287.45 317.88H300.77V327.3H287.45zM87.64 327.3H100.96V336.73H87.64zM274.13 336.73H287.45V346.15H274.13zM287.45 336.73H300.77V346.15H287.45zM87.64 346.15H100.96V355.57H87.64zM100.96 346.15H114.28V355.57H100.96zM247.49 346.15H260.81V355.57H247.49zM100.96 365H114.28V374.42H100.96zM260.81 365H274.13V374.42H260.81zM127.6 374.42H140.93V383.85H127.6zM260.81 383.85H274.13V393.27H260.81zM260.81 393.27H274.13V402.7H260.81zM220.85 402.7H234.17V412.12H220.85zM100.96 412.12H114.28V421.54H100.96zM220.85 412.12H234.17V421.54H220.85zM234.17 412.12H247.49V421.54H234.17zM220.85 430.97H234.17V440.39H220.85zM100.96 440.39H114.28V449.82H100.96zM287.45 449.82H300.77V459.24H287.45zM327.42 449.82H340.74V459.24H327.42zM127.6 468.66H140.93V478.09H127.6zM220.85 468.66H234.17V478.09H220.85zM287.45 468.66H300.77V478.09H287.45zM327.42 468.66H340.74V478.09H327.42zM61 478.09H74.32V487.51H61zM327.42 478.09H340.74V487.51H327.42zM220.85 487.51H234.17V496.94H220.85zM287.45 487.51H300.77V496.94H287.45zM274.13 496.94H287.45V506.36H274.13zM74.32 506.36H87.64V515.79H74.32zM220.85 525.21H234.17V534.63H220.85zM234.17 534.63H247.49V544.06H234.17zM87.64 544.06H100.96V553.48H87.64zM234.17 544.06H247.49V553.48H234.17zM87.64 553.48H100.96V562.91H87.64zM127.6 562.91H140.93V572.33H127.6zM74.32 581.76H87.64V591.18H74.32zM127.6 591.18H140.93V600.6H127.6zM260.81 600.6H274.13V610.03H260.81zM100.96 619.45H114.28V628.88H100.96zM247.49 638.3H260.81V647.72H247.49zM74.32 647.72H87.64V657.15H74.32zM87.64 657.15H100.96V666.57H87.64zM367.38 685.42H380.7V694.85H367.38zM367.38 694.85H380.7V704.27H367.38zM287.45 704.27H300.77V713.69H287.45zM367.38 704.27H380.7V713.69H367.38zM367.38 713.69H380.7V723.12H367.38zM367.38 723.12H380.7V732.54H367.38zM367.38 732.54H380.7V741.97H367.38zM367.38 741.97H380.7V751.39H367.38zM367.38 751.39H380.7V760.82H367.38zM367.38 760.82H380.7V770.24H367.38zM367.38 770.24H380.7V779.66H367.38zM367.38 779.66H380.7V789.09H367.38zM367.38 789.09H380.7V798.51H367.38zM87.64 798.51H100.96V807.94H87.64zM234.17 798.51H247.49V807.94H234.17zM327.42 798.51H340.74V807.94H327.42zM367.38 807.94H380.7V817.36H367.38zM234.17 817.36H247.49V826.78H234.17zM247.49 817.36H260.81V826.78H247.49zM367.38 826.78H380.7V836.21H367.38zM220.85 836.21H234.17V845.63H220.85zM287.45 836.21H300.77V845.63H287.45zM367.38 836.21H380.7V845.63H367.38zM220.85 845.63H234.17V855.06H220.85zM367.38 845.63H380.7V855.06H367.38zM74.32 855.06H87.64V864.48H74.32zM87.64 855.06H100.96V864.48H87.64zM220.85 855.06H234.17V864.48H220.85zM247.49 855.06H260.81V864.48H247.49zM300.77 855.06H314.1V864.48H300.77zM154.25 864.48H167.57V873.91H154.25zM167.57 864.48H180.89V873.91H167.57zM220.85 864.48H234.17V873.91H220.85zM220.85 873.91H234.17V883.33H220.85zM367.38 873.91H380.7V883.33H367.38zM274.13 883.33H287.45V892.75H274.13zM300.77 883.33H314.1V892.75H300.77zM367.38 883.33H380.7V892.75H367.38zM274.13 892.75H287.45V902.18H274.13zM367.38 892.75H380.7V902.18H367.38zM234.17 902.18H247.49V911.6H234.17zM274.13 902.18H287.45V911.6H274.13zM327.42 902.18H340.74V911.6H327.42zM367.38 902.18H380.7V911.6H367.38zM287.45 921.03H300.77V930.45H287.45zM287.45 930.45H300.77V939.88H287.45zM327.42 930.45H340.74V939.88H327.42zM340.74 930.45H354.06V939.88H340.74zM354.06 930.45H367.38V939.88H354.06zM367.38 930.45H380.7V939.88H367.38zM354.06 939.88H367.38V949.3H354.06zM367.38 939.88H380.7V949.3H367.38zM354.06 949.3H367.38V958.72H354.06zM247.49 958.72H260.81V968.15H247.49zM260.81 958.72H274.13V968.15H260.81zM314.1 958.72H327.42V968.15H314.1zM247.49 968.15H260.81V977.57H247.49zM260.81 968.15H274.13V977.57H260.81zM300.77 968.15H314.1V977.57H300.77zM314.1 968.15H327.42V977.57H314.1zM300.77 977.57H314.1V987H300.77zM314.1 977.57H327.42V987H314.1zM220.85 987H234.17V996.42H220.85zM247.49 987H260.81V996.42H247.49zM300.77 987H314.1V996.42H300.77zM314.1 987H327.42V996.42H314.1zM220.85 996.42H234.17V1005.84H220.85zM247.49 996.42H260.81V1005.84H247.49zM260.81 996.42H274.13V1005.84H260.81zM314.1 996.42H327.42V1005.84H314.1zM327.42 996.42H340.74V1005.84H327.42zM220.85 1005.84H234.17V1015.27H220.85zM260.81 1005.84H274.13V1015.27H260.81zM274.13 1005.84H287.45V1015.27H274.13zM287.45 1005.84H300.77V1015.27H287.45zM314.1 1005.84H327.42V1015.27H314.1zM247.49 1015.27H260.81V1024.69H247.49zM287.45 1015.27H300.77V1024.69H287.45zM327.42 1015.27H340.74V1024.69H327.42zM354.06 1015.27H367.38V1024.69H354.06zM367.38 1015.27H380.7V1024.69H367.38zM220.85 1024.69H234.17V1034.12H220.85zM247.49 1024.69H260.81V1034.12H247.49zM260.81 1024.69H274.13V1034.12H260.81zM287.45 1024.69H300.77V1034.12H287.45zM300.77 1024.69H314.1V1034.12H300.77zM314.1 1024.69H327.42V1034.12H314.1zM354.06 1024.69H367.38V1034.12H354.06zM367.38 1024.69H380.7V1034.12H367.38zM247.49 1034.12H260.81V1043.54H247.49zM260.81 1034.12H274.13V1043.54H260.81zM314.1 1034.12H327.42V1043.54H314.1zM367.38 1034.12H380.7V1043.54H367.38zM220.85 1043.54H234.17V1052.97H220.85zM247.49 1043.54H260.81V1052.97H247.49zM260.81 1043.54H274.13V1052.97H260.81zM300.77 1043.54H314.1V1052.97H300.77zM314.1 1043.54H327.42V1052.97H314.1zM340.74 1043.54H354.06V1052.97H340.74zM354.06 1043.54H367.38V1052.97H354.06zM367.38 1043.54H380.7V1052.97H367.38zM234.17 1052.97H247.49V1062.39H234.17zM247.49 1052.97H260.81V1062.39H247.49zM300.77 1052.97H314.1V1062.39H300.77zM340.74 1052.97H354.06V1062.39H340.74zM367.38 1052.97H380.7V1062.39H367.38zM220.85 1062.39H234.17V1071.81H220.85zM247.49 1062.39H260.81V1071.81H247.49zM260.81 1062.39H274.13V1071.81H260.81zM287.45 1062.39H300.77V1071.81H287.45zM300.77 1062.39H314.1V1071.81H300.77zM367.38 1062.39H380.7V1071.81H367.38zM260.81 1071.81H274.13V1081.24H260.81zM300.77 1071.81H314.1V1081.24H300.77zM314.1 1071.81H327.42V1081.24H314.1zM327.42 1071.81H340.74V1081.24H327.42zM354.06 1071.81H367.38V1081.24H354.06zM367.38 1071.81H380.7V1081.24H367.38zM247.49 1081.24H260.81V1090.66H247.49zM300.77 1081.24H314.1V1090.66H300.77zM314.1 1081.24H327.42V1090.66H314.1zM327.42 1081.24H340.74V1090.66H327.42zM354.06 1081.24H367.38V1090.66H354.06zM247.49 1090.66H260.81V1100.09H247.49zM260.81 1090.66H274.13V1100.09H260.81zM300.77 1090.66H314.1V1100.09H300.77zM340.74 1090.66H354.06V1100.09H340.74zM354.06 1090.66H367.38V1100.09H354.06zM367.38 1090.66H380.7V1100.09H367.38zM220.85 1100.09H234.17V1109.51H220.85zM300.77 1100.09H314.1V1109.51H300.77zM314.1 1100.09H327.42V1109.51H314.1zM354.06 1100.09H367.38V1109.51H354.06zM220.85 1109.51H234.17V1118.94H220.85zM234.17 1109.51H247.49V1118.94H234.17zM260.81 1109.51H274.13V1118.94H260.81zM274.13 1109.51H287.45V1118.94H274.13zM287.45 1109.51H300.77V1118.94H287.45zM314.1 1109.51H327.42V1118.94H314.1zM327.42 1109.51H340.74V1118.94H327.42zM340.74 1109.51H354.06V1118.94H340.74zM354.06 1109.51H367.38V1118.94H354.06zM367.38 1109.51H380.7V1118.94H367.38zM220.85 1118.94H234.17V1128.36H220.85zM234.17 1118.94H247.49V1128.36H234.17zM247.49 1118.94H260.81V1128.36H247.49zM260.81 1118.94H274.13V1128.36H260.81zM274.13 1118.94H287.45V1128.36H274.13zM287.45 1118.94H300.77V1128.36H287.45zM327.42 1118.94H340.74V1128.36H327.42zM340.74 1118.94H354.06V1128.36H340.74zM367.38 1118.94H380.7V1128.36H367.38zM234.17 1128.36H247.49V1137.78H234.17zM247.49 1128.36H260.81V1137.78H247.49zM274.13 1128.36H287.45V1137.78H274.13zM287.45 1128.36H300.77V1137.78H287.45zM314.1 1128.36H327.42V1137.78H314.1zM327.42 1128.36H340.74V1137.78H327.42zM354.06 1128.36H367.38V1137.78H354.06zM367.38 1128.36H380.7V1137.78H367.38zM220.85 1137.78H234.17V1147.21H220.85zM234.17 1137.78H247.49V1147.21H234.17zM247.49 1137.78H260.81V1147.21H247.49zM274.13 1137.78H287.45V1147.21H274.13zM287.45 1137.78H300.77V1147.21H287.45zM300.77 1137.78H314.1V1147.21H300.77zM314.1 1137.78H327.42V1147.21H314.1zM354.06 1137.78H367.38V1147.21H354.06zM367.38 1137.78H380.7V1147.21H367.38zM247.49 1147.21H260.81V1156.63H247.49zM314.1 1147.21H327.42V1156.63H314.1zM327.42 1147.21H340.74V1156.63H327.42zM340.74 1147.21H354.06V1156.63H340.74zM354.06 1147.21H367.38V1156.63H354.06zM220.85 1156.63H234.17V1166.06H220.85zM234.17 1156.63H247.49V1166.06H234.17zM247.49 1156.63H260.81V1166.06H247.49zM287.45 1156.63H300.77V1166.06H287.45zM300.77 1156.63H314.1V1166.06H300.77zM327.42 1156.63H340.74V1166.06H327.42zM340.74 1156.63H354.06V1166.06H340.74zM354.06 1156.63H367.38V1166.06H354.06zM367.38 1156.63H380.7V1166.06H367.38zM220.85 1166.06H234.17V1175.48H220.85zM234.17 1166.06H247.49V1175.48H234.17zM247.49 1166.06H260.81V1175.48H247.49zM274.13 1166.06H287.45V1175.48H274.13zM287.45 1166.06H300.77V1175.48H287.45zM300.77 1166.06H314.1V1175.48H300.77zM314.1 1166.06H327.42V1175.48H314.1zM327.42 1166.06H340.74V1175.48H327.42zM367.38 1166.06H380.7V1175.48H367.38zM220.85 1175.48H234.17V1184.9H220.85zM247.49 1175.48H260.81V1184.9H247.49zM260.81 1175.48H274.13V1184.9H260.81zM274.13 1175.48H287.45V1184.9H274.13zM287.45 1175.48H300.77V1184.9H287.45zM300.77 1175.48H314.1V1184.9H300.77zM327.42 1175.48H340.74V1184.9H327.42zM367.38 1175.48H380.7V1184.9H367.38zM220.85 1184.9H234.17V1194.33H220.85zM234.17 1184.9H247.49V1194.33H234.17zM247.49 1184.9H260.81V1194.33H247.49zM260.81 1184.9H274.13V1194.33H260.81zM274.13 1184.9H287.45V1194.33H274.13zM314.1 1184.9H327.42V1194.33H314.1zM327.42 1184.9H340.74V1194.33H327.42zM340.74 1184.9H354.06V1194.33H340.74zM354.06 1184.9H367.38V1194.33H354.06zM367.38 1184.9H380.7V1194.33H367.38zM220.85 1194.33H234.17V1203.75H220.85zM234.17 1194.33H247.49V1203.75H234.17zM247.49 1194.33H260.81V1203.75H247.49zM274.13 1194.33H287.45V1203.75H274.13zM327.42 1194.33H340.74V1203.75H327.42zM340.74 1194.33H354.06V1203.75H340.74zM367.38 1194.33H380.7V1203.75H367.38zM274.13 1213.18H287.45V1222.6H274.13zM354.06 1213.18H367.38V1222.6H354.06zM87.64 1241.45H100.96V1250.87H87.64zM114.28 1241.45H127.6V1250.87H114.28zM87.64 1250.87H100.96V1260.3H87.64zM61 1260.3H74.32V1269.72H61zM61 1297.99H74.32V1307.42H61zM114.28 1297.99H127.6V1307.42H114.28zM247.49 1297.99H260.81V1307.42H247.49zM260.81 1307.42H274.13V1316.84H260.81zM207.53 1316.84H220.85V1326.27H207.53zM167.57 1326.27H180.89V1335.69H167.57zM207.53 1326.27H220.85V1335.69H207.53zM167.57 1335.69H180.89V1345.12H167.57zM61 1345.12H74.32V1354.54H61zM207.53 1345.12H220.85V1354.54H207.53zM61 1354.54H74.32V1363.96H61zM100.96 1354.54H114.28V1363.96H100.96zM154.25 1354.54H167.57V1363.96H154.25zM167.57 1354.54H180.89V1363.96H167.57zM180.89 1354.54H194.21V1363.96H180.89zM207.53 1354.54H220.85V1363.96H207.53zM87.64 1363.96H100.96V1373.39H87.64zM114.28 1363.96H127.6V1373.39H114.28zM167.57 1363.96H180.89V1373.39H167.57zM127.6 1373.39H140.93V1382.81H127.6zM167.57 1373.39H180.89V1382.81H167.57zM167.57 1382.81H180.89V1392.24H167.57zM61 1392.24H74.32V1401.66H61zM154.25 1392.24H167.57V1401.66H154.25zM207.53 1392.24H220.85V1401.66H207.53zM114.28 1401.66H127.6V1411.09H114.28zM167.57 1401.66H180.89V1411.09H167.57zM87.64 1420.51H100.96V1429.93H87.64zM180.89 1420.51H194.21V1429.93H180.89zM127.6 1429.93H140.93V1439.36H127.6zM87.64 1439.36H100.96V1448.78H87.64zM100.96 1439.36H114.28V1448.78H100.96zM127.6 1439.36H140.93V1448.78H127.6zM167.57 1439.36H180.89V1448.78H167.57zM87.64 1448.78H100.96V1458.21H87.64zM87.64 1458.21H100.96V1467.63H87.64zM87.64 1467.63H100.96V1477.05H87.64zM114.28 1467.63H127.6V1477.05H114.28zM167.57 1467.63H180.89V1477.05H167.57zM114.28 1477.05H127.6V1486.48H114.28zM154.25 1477.05H167.57V1486.48H154.25zM127.6 1486.48H140.93V1495.9H127.6zM167.57 1514.75H180.89V1524.18H167.57z"/>
<path fill="#e8664e" d="M274.13 63.42H287.45V72.85H274.13zM100.96 157.67H114.28V167.09H100.96zM234.17 176.51H247.49V185.94H234.17zM327.42 185.94H340.74V195.36H327.42zM247.49 204.79H260.81V214.21H247.49zM247.49 214.21H260.81V223.64H247.49zM260.81 214.21H274.13V223.64H260.81zM287.45 242.48H300.77V251.91H287.45zM247.49 251.91H260.81V261.33H247.49zM260.81 261.33H274.13V270.76H260.81zM287.45 280.18H300.77V289.61H287.45zM287.45 308.45H300.77V317.88H287.45zM234.17 317.88H247.49V327.3H234.17zM234.17 346.15H247.49V355.57H234.17zM127.6 365H140.93V374.42H127.6zM260.81 412.12H274.13V421.54H260.81zM260.81 421.54H274.13V430.97H260.81zM234.17 430.97H247.49V440.39H234.17zM234.17 440.39H247.49V449.82H234.17zM234.17 468.66H247.49V478.09H234.17zM234.17 506.36H247.49V515.79H234.17zM287.45 506.36H300.77V515.79H287.45zM287.45 515.79H300.77V525.21H287.45zM127.6 534.63H140.93V544.06H127.6zM287.45 544.06H300.77V553.48H287.45zM287.45 562.91H300.77V572.33H287.45zM260.81 581.76H274.13V591.18H260.81zM287.45 581.76H300.77V591.18H287.45zM234.17 591.18H247.49V600.6H234.17zM287.45 591.18H300.77V600.6H287.45zM234.17 600.6H247.49V610.03H234.17zM287.45 600.6H300.77V610.03H287.45zM127.6 610.03H140.93V619.45H127.6zM127.6 619.45H140.93V628.88H127.6zM247.49 657.15H260.81V666.57H247.49zM327.42 676H340.74V685.42H327.42zM220.85 685.42H234.17V694.85H220.85zM220.85 694.85H234.17V704.27H220.85zM234.17 704.27H247.49V713.69H234.17zM327.42 704.27H340.74V713.69H327.42zM234.17 713.69H247.49V723.12H234.17zM327.42 713.69H340.74V723.12H327.42zM234.17 723.12H247.49V732.54H234.17zM327.42 723.12H340.74V732.54H327.42zM234.17 732.54H247.49V741.97H234.17zM327.42 732.54H340.74V741.97H327.42zM234.17 751.39H247.49V760.82H234.17zM327.42 760.82H340.74V770.24H327.42zM234.17 770.24H247.49V779.66H234.17zM234.17 826.78H247.49V836.21H234.17zM234.17 836.21H247.49V845.63H234.17zM234.17 845.63H247.49V855.06H234.17zM234.17 855.06H247.49V864.48H234.17zM327.42 855.06H340.74V864.48H327.42zM300.77 873.91H314.1V883.33H300.77zM220.85 892.75H234.17V902.18H220.85zM260.81 911.6H274.13V921.03H260.81zM260.81 921.03H274.13V930.45H260.81zM274.13 958.72H287.45V968.15H274.13zM274.13 968.15H287.45V977.57H274.13zM260.81 1203.75H274.13V1213.18H260.81zM220.85 1213.18H234.17V1222.6H220.85zM287.45 1241.45H300.77V1250.87H287.45zM114.28 1250.87H127.6V1260.3H114.28zM61 1279.15H74.32V1288.57H61zM74.32 1288.57H87.64V1297.99H74.32zM154.25 1307.42H167.57V1316.84H154.25zM194.21 1326.27H207.53V1335.69H194.21zM194.21 1335.69H207.53V1345.12H194.21zM61 1411.09H74.32V1420.51H61zM61 1429.93H74.32V1439.36H61zM114.28 1448.78H127.6V1458.21H114.28zM100.96 1458.21H114.28V1467.63H100.96zM61 1477.05H74.32V1486.48H61z"/>
<path fill="#f29574" d="M127.6 82.27H140.93V91.7H127.6zM127.6 91.7H140.93V101.12H127.6zM287.45 91.7H300.77V101.12H287.45zM354.06 91.7H367.38V101.12H354.06zM287.45 110.55H300.77V119.97H287.45zM127.6 129.39H140.93V138.82H127.6zM314.1 148.24H327.42V157.67H314.1zM100.96 167.09H114.28V176.51H100.96zM260.81 176.51H274.13V185.94H260.81zM260.81 185.94H274.13V195.36H260.81zM260.81 195.36H274.13V204.79H260.81zM274.13 195.36H287.45V204.79H274.13zM220.85 233.06H234.17V242.48H220.85zM247.49 233.06H260.81V242.48H247.49zM327.42 233.06H340.74V242.48H327.42zM314.1 251.91H327.42V261.33H314.1zM220.85 261.33H234.17V270.76H220.85zM247.49 270.76H260.81V280.18H247.49zM127.6 280.18H140.93V289.61H127.6zM247.49 280.18H260.81V289.61H247.49zM74.32 289.61H87.64V299.03H74.32zM234.17 308.45H247.49V317.88H234.17zM314.1 317.88H327.42V327.3H314.1zM287.45 374.42H300.77V383.85H287.45zM234.17 402.7H247.49V412.12H234.17zM287.45 412.12H300.77V421.54H287.45zM260.81 440.39H274.13V449.82H260.81zM327.42 440.39H340.74V449.82H327.42zM234.17 449.82H247.49V459.24H234.17zM260.81 449.82H274.13V459.24H260.81zM234.17 459.24H247.49V468.66H234.17zM327.42 459.24H340.74V468.66H327.42zM260.81 478.09H274.13V487.51H260.81zM260.81 487.51H274.13V496.94H260.81zM234.17 496.94H247.49V506.36H234.17zM127.6 506.36H140.93V515.79H127.6zM260.81 506.36H274.13V515.79H260.81zM234.17 515.79H247.49V525.21H234.17zM327.42 544.06H340.74V553.48H327.42zM327.42 562.91H340.74V572.33H327.42zM260.81 572.33H274.13V581.76H260.81zM234.17 581.76H247.49V591.18H234.17zM234.17 610.03H247.49V619.45H234.17zM260.81 610.03H274.13V619.45H260.81zM287.45 610.03H300.77V619.45H287.45zM234.17 619.45H247.49V628.88H234.17zM220.85 628.88H234.17V638.3H220.85zM220.85 638.3H234.17V647.72H220.85zM220.85 647.72H234.17V657.15H220.85zM234.17 657.15H247.49V666.57H234.17zM327.42 657.15H340.74V666.57H327.42zM234.17 685.42H247.49V694.85H234.17zM220.85 723.12H234.17V732.54H220.85zM220.85 732.54H234.17V741.97H220.85zM220.85 741.97H234.17V751.39H220.85zM327.42 741.97H340.74V751.39H327.42zM220.85 751.39H234.17V760.82H220.85zM327.42 751.39H340.74V760.82H327.42zM220.85 760.82H234.17V770.24H220.85zM220.85 770.24H234.17V779.66H220.85zM220.85 779.66H234.17V789.09H220.85zM327.42 779.66H340.74V789.09H327.42zM327.42 789.09H340.74V798.51H327.42zM247.49 807.94H260.81V817.36H247.49zM327.42 807.94H340.74V817.36H327.42zM220.85 826.78H234.17V836.21H220.85zM247.49 826.78H260.81V836.21H247.49zM327.42 826.78H340.74V836.21H327.42zM327.42 836.21H340.74V845.63H327.42zM287.45 845.63H300.77V855.06H287.45zM300.77 845.63H314.1V855.06H300.77zM247.49 864.48H260.81V873.91H247.49zM274.13 873.91H287.45V883.33H274.13zM247.49 892.75H260.81V902.18H247.49zM354.06 911.6H367.38V921.03H354.06zM234.17 930.45H247.49V939.88H234.17zM247.49 949.3H260.81V958.72H247.49zM274.13 949.3H287.45V958.72H274.13zM220.85 958.72H234.17V968.15H220.85zM220.85 968.15H234.17V977.57H220.85zM220.85 977.57H234.17V987H220.85zM260.81 977.57H274.13V987H260.81zM274.13 987H287.45V996.42H274.13zM367.38 987H380.7V996.42H367.38zM367.38 996.42H380.7V1005.84H367.38zM354.06 1005.84H367.38V1015.27H354.06zM220.85 1071.81H234.17V1081.24H220.85zM274.13 1071.81H287.45V1081.24H274.13zM220.85 1090.66H234.17V1100.09H220.85zM167.57 1222.6H180.89V1232.03H167.57zM207.53 1250.87H220.85V1260.3H207.53zM74.32 1279.15H87.64V1288.57H74.32zM154.25 1279.15H167.57V1288.57H154.25zM74.32 1297.99H87.64V1307.42H74.32zM74.32 1316.84H87.64V1326.27H74.32zM100.96 1316.84H114.28V1326.27H100.96zM180.89 1316.84H194.21V1326.27H180.89zM194.21 1354.54H207.53V1363.96H194.21zM154.25 1363.96H167.57V1373.39H154.25zM154.25 1373.39H167.57V1382.81H154.25zM100.96 1392.24H114.28V1401.66H100.96zM154.25 1401.66H167.57V1411.09H154.25zM114.28 1411.09H127.6V1420.51H114.28zM87.64 1429.93H100.96V1439.36H87.64zM114.28 1429.93H127.6V1439.36H114.28zM207.53 1429.93H220.85V1439.36H207.53zM61 1486.48H74.32V1495.9H61zM154.25 1486.48H167.57V1495.9H154.25zM127.6 1495.9H140.93V1505.33H127.6zM87.64 1514.75H100.96V1524.18H87.64zM87.64 1524.18H100.96V1533.6H87.64z"/>
<path fill="#da3a34" d="M247.49 110.55H260.81V119.97H247.49zM260.81 119.97H274.13V129.39H260.81zM260.81 129.39H274.13V138.82H260.81zM260.81 138.82H274.13V148.24H260.81zM260.81 148.24H274.13V157.67H260.81zM234.17 167.09H247.49V176.51H234.17zM327.42 242.48H340.74V251.91H327.42zM287.45 289.61H300.77V299.03H287.45zM127.6 299.03H140.93V308.45H127.6zM287.45 299.03H300.77V308.45H287.45zM234.17 336.73H247.49V346.15H234.17zM260.81 402.7H274.13V412.12H260.81zM234.17 525.21H247.49V534.63H234.17zM287.45 525.21H300.77V534.63H287.45zM287.45 553.48H300.77V562.91H287.45zM287.45 572.33H300.77V581.76H287.45zM287.45 619.45H300.77V628.88H287.45zM234.17 628.88H247.49V638.3H234.17zM234.17 666.57H247.49V676H234.17zM234.17 741.97H247.49V751.39H234.17zM234.17 760.82H247.49V770.24H234.17zM327.42 770.24H340.74V779.66H327.42zM234.17 779.66H247.49V789.09H234.17zM234.17 789.09H247.49V798.51H234.17zM220.85 817.36H234.17V826.78H220.85zM287.45 864.48H300.77V873.91H287.45zM327.42 883.33H340.74V892.75H327.42zM220.85 902.18H234.17V911.6H220.85zM100.96 1241.45H114.28V1250.87H100.96zM87.64 1288.57H100.96V1297.99H87.64zM114.28 1288.57H127.6V1297.99H114.28zM114.28 1307.42H127.6V1316.84H114.28zM100.96 1382.81H114.28V1392.24H100.96zM114.28 1420.51H127.6V1429.93H114.28zM114.28 1439.36H127.6V1448.78H114.28zM61 1458.21H74.32V1467.63H61zM61 1467.63H74.32V1477.05H61zM180.89 1486.48H194.21V1495.9H180.89zM87.64 1495.9H100.96V1505.33H87.64z"/>
<path fill="#5fa6d2" d="M180.89 496.94H194.21V506.36H180.89zM180.89 553.48H194.21V562.91H180.89zM180.89 836.21H194.21V845.63H180.89zM180.89 845.63H194.21V855.06H180.89zM180.89 855.06H194.21V864.48H180.89z"/>
<path fill="#bfdbeb" d="M74.32 958.72H87.64V968.15H74.32zM100.96 958.72H114.28V968.15H100.96zM167.57 958.72H180.89V968.15H167.57zM207.53 958.72H220.85V968.15H207.53zM100.96 1005.84H114.28V1015.27H100.96zM140.93 1005.84H154.25V1015.27H140.93zM194.21 1005.84H207.53V1015.27H194.21zM140.93 1043.54H154.25V1052.97H140.93zM167.57 1071.81H180.89V1081.24H167.57zM180.89 1071.81H194.21V1081.24H180.89zM167.57 1090.66H180.89V1100.09H167.57zM114.28 1109.51H127.6V1118.94H114.28zM114.28 1128.36H127.6V1137.78H114.28zM194.21 1128.36H207.53V1137.78H194.21zM140.93 1137.78H154.25V1147.21H140.93zM154.25 1137.78H167.57V1147.21H154.25zM140.93 1147.21H154.25V1156.63H140.93zM180.89 1147.21H194.21V1156.63H180.89zM194.21 1147.21H207.53V1156.63H194.21zM74.32 1166.06H87.64V1175.48H74.32zM140.93 1166.06H154.25V1175.48H140.93zM167.57 1166.06H180.89V1175.48H167.57zM140.93 1175.48H154.25V1184.9H140.93z"/>
<path fill="#d7eaf2" d="M87.64 958.72H100.96V968.15H87.64zM114.28 958.72H127.6V968.15H114.28zM127.6 958.72H140.93V968.15H127.6zM61 1005.84H74.32V1015.27H61zM87.64 1005.84H100.96V1015.27H87.64zM167.57 1005.84H180.89V1015.27H167.57zM87.64 1043.54H100.96V1052.97H87.64zM61 1071.81H74.32V1081.24H61zM87.64 1071.81H100.96V1081.24H87.64zM114.28 1071.81H127.6V1081.24H114.28zM260.81 1420.51H274.13V1429.93H260.81zM367.38 1429.93H380.7V1439.36H367.38zM220.85 1439.36H234.17V1448.78H220.85zM247.49 1439.36H260.81V1448.78H247.49zM300.77 1486.48H314.1V1495.9H300.77zM314.1 1486.48H327.42V1495.9H314.1zM340.74 1495.9H354.06V1505.33H340.74zM220.85 1514.75H234.17V1524.18H220.85zM274.13 1514.75H287.45V1524.18H274.13z"/>
<path fill="#d3e8f1" d="M220.85 1316.84H234.17V1326.27H220.85zM234.17 1316.84H247.49V1326.27H234.17zM247.49 1316.84H260.81V1326.27H247.49zM260.81 1316.84H274.13V1326.27H260.81zM274.13 1316.84H287.45V1326.27H274.13zM287.45 1316.84H300.77V1326.27H287.45zM300.77 1316.84H314.1V1326.27H300.77zM314.1 1316.84H327.42V1326.27H314.1zM327.42 1316.84H340.74V1326.27H327.42zM340.74 1316.84H354.06V1326.27H340.74zM354.06 1316.84H367.38V1326.27H354.06zM367.38 1316.84H380.7V1326.27H367.38zM220.85 1326.27H234.17V1335.69H220.85zM234.17 1326.27H247.49V1335.69H234.17zM247.49 1326.27H260.81V1335.69H247.49zM260.81 1326.27H274.13V1335.69H260.81zM274.13 1326.27H287.45V1335.69H274.13zM300.77 1326.27H314.1V1335.69H300.77zM314.1 1326.27H327.42V1335.69H314.1zM327.42 1326.27H340.74V1335.69H327.42zM340.74 1326.27H354.06V1335.69H340.74zM354.06 1326.27H367.38V1335.69H354.06zM367.38 1326.27H380.7V1335.69H367.38zM220.85 1335.69H234.17V1345.12H220.85zM247.49 1335.69H260.81V1345.12H247.49zM274.13 1335.69H287.45V1345.12H274.13zM287.45 1335.69H300.77V1345.12H287.45zM300.77 1335.69H314.1V1345.12H300.77zM314.1 1335.69H327.42V1345.12H314.1zM327.42 1335.69H340.74V1345.12H327.42zM340.74 1335.69H354.06V1345.12H340.74zM354.06 1335.69H367.38V1345.12H354.06zM367.38 1335.69H380.7V1345.12H367.38zM234.17 1345.12H247.49V1354.54H234.17zM247.49 1345.12H260.81V1354.54H247.49zM260.81 1345.12H274.13V1354.54H260.81zM274.13 1345.12H287.45V1354.54H274.13zM287.45 1345.12H300.77V1354.54H287.45zM340.74 1345.12H354.06V1354.54H340.74zM354.06 1345.12H367.38V1354.54H354.06zM367.38 1345.12H380.7V1354.54H367.38zM234.17 1354.54H247.49V1363.96H234.17zM247.49 1354.54H260.81V1363.96H247.49zM260.81 1354.54H274.13V1363.96H260.81zM287.45 1354.54H300.77V1363.96H287.45zM300.77 1354.54H314.1V1363.96H300.77zM314.1 1354.54H327.42V1363.96H314.1zM327.42 1354.54H340.74V1363.96H327.42zM340.74 1354.54H354.06V1363.96H340.74zM354.06 1354.54H367.38V1363.96H354.06zM220.85 1363.96H234.17V1373.39H220.85zM234.17 1363.96H247.49V1373.39H234.17zM247.49 1363.96H260.81V1373.39H247.49zM260.81 1363.96H274.13V1373.39H260.81zM274.13 1363.96H287.45V1373.39H274.13zM287.45 1363.96H300.77V1373.39H287.45zM300.77 1363.96H314.1V1373.39H300.77zM314.1 1363.96H327.42V1373.39H314.1zM327.42 1363.96H340.74V1373.39H327.42zM340.74 1363.96H354.06V1373.39H340.74zM367.38 1363.96H380.7V1373.39H367.38zM220.85 1373.39H234.17V1382.81H220.85zM234.17 1373.39H247.49V1382.81H234.17zM247.49 1373.39H260.81V1382.81H247.49zM260.81 1373.39H274.13V1382.81H260.81zM274.13 1373.39H287.45V1382.81H274.13zM287.45 1373.39H300.77V1382.81H287.45zM300.77 1373.39H314.1V1382.81H300.77zM314.1 1373.39H327.42V1382.81H314.1zM327.42 1373.39H340.74V1382.81H327.42zM340.74 1373.39H354.06V1382.81H340.74zM354.06 1373.39H367.38V1382.81H354.06zM367.38 1373.39H380.7V1382.81H367.38zM220.85 1382.81H234.17V1392.24H220.85zM234.17 1382.81H247.49V1392.24H234.17zM247.49 1382.81H260.81V1392.24H247.49zM260.81 1382.81H274.13V1392.24H260.81zM274.13 1382.81H287.45V1392.24H274.13zM287.45 1382.81H300.77V1392.24H287.45zM300.77 1382.81H314.1V1392.24H300.77zM314.1 1382.81H327.42V1392.24H314.1zM327.42 1382.81H340.74V1392.24H327.42zM340.74 1382.81H354.06V1392.24H340.74zM354.06 1382.81H367.38V1392.24H354.06zM367.38 1382.81H380.7V1392.24H367.38zM220.85 1392.24H234.17V1401.66H220.85zM234.17 1392.24H247.49V1401.66H234.17zM247.49 1392.24H260.81V1401.66H247.49zM260.81 1392.24H274.13V1401.66H260.81zM274.13 1392.24H287.45V1401.66H274.13zM287.45 1392.24H300.77V1401.66H287.45zM300.77 1392.24H314.1V1401.66H300.77zM314.1 1392.24H327.42V1401.66H314.1zM327.42 1392.24H340.74V1401.66H327.42zM340.74 1392.24H354.06V1401.66H340.74zM354.06 1392.24H367.38V1401.66H354.06zM367.38 1392.24H380.7V1401.66H367.38zM220.85 1401.66H234.17V1411.09H220.85zM234.17 1401.66H247.49V1411.09H234.17zM247.49 1401.66H260.81V1411.09H247.49zM260.81 1401.66H274.13V1411.09H260.81zM274.13 1401.66H287.45V1411.09H274.13zM287.45 1401.66H300.77V1411.09H287.45zM300.77 1401.66H314.1V1411.09H300.77zM314.1 1401.66H327.42V1411.09H314.1zM327.42 1401.66H340.74V1411.09H327.42zM340.74 1401.66H354.06V1411.09H340.74zM354.06 1401.66H367.38V1411.09H354.06zM367.38 1401.66H380.7V1411.09H367.38zM220.85 1411.09H234.17V1420.51H220.85zM234.17 1411.09H247.49V1420.51H234.17zM247.49 1411.09H260.81V1420.51H247.49zM260.81 1411.09H274.13V1420.51H260.81zM274.13 1411.09H287.45V1420.51H274.13zM287.45 1411.09H300.77V1420.51H287.45zM300.77 1411.09H314.1V1420.51H300.77zM314.1 1411.09H327.42V1420.51H314.1zM327.42 1411.09H340.74V1420.51H327.42zM340.74 1411.09H354.06V1420.51H340.74zM354.06 1411.09H367.38V1420.51H354.06zM367.38 1411.09H380.7V1420.51H367.38zM220.85 1420.51H234.17V1429.93H220.85zM234.17 1420.51H247.49V1429.93H234.17zM247.49 1420.51H260.81V1429.93H247.49zM287.45 1420.51H300.77V1429.93H287.45zM300.77 1420.51H314.1V1429.93H300.77zM314.1 1420.51H327.42V1429.93H314.1zM327.42 1420.51H340.74V1429.93H327.42zM340.74 1420.51H354.06V1429.93H340.74zM367.38 1420.51H380.7V1429.93H367.38zM220.85 1429.93H234.17V1439.36H220.85zM234.17 1429.93H247.49V1439.36H234.17zM247.49 1429.93H260.81V1439.36H247.49zM260.81 1429.93H274.13V1439.36H260.81zM274.13 1429.93H287.45V1439.36H274.13zM287.45 1429.93H300.77V1439.36H287.45zM300.77 1429.93H314.1V1439.36H300.77zM314.1 1429.93H327.42V1439.36H314.1zM327.42 1429.93H340.74V1439.36H327.42zM340.74 1429.93H354.06V1439.36H340.74zM354.06 1429.93H367.38V1439.36H354.06zM234.17 1439.36H247.49V1448.78H234.17zM260.81 1439.36H274.13V1448.78H260.81zM274.13 1439.36H287.45V1448.78H274.13zM287.45 1439.36H300.77V1448.78H287.45zM300.77 1439.36H314.1V1448.78H300.77zM314.1 1439.36H327.42V1448.78H314.1zM340.74 1439.36H354.06V1448.78H340.74zM354.06 1439.36H367.38V1448.78H354.06zM367.38 1439.36H380.7V1448.78H367.38zM220.85 1448.78H234.17V1458.21H220.85zM234.17 1448.78H247.49V1458.21H234.17zM247.49 1448.78H260.81V1458.21H247.49zM260.81 1448.78H274.13V1458.21H260.81zM274.13 1448.78H287.45V1458.21H274.13zM287.45 1448.78H300.77V1458.21H287.45zM300.77 1448.78H314.1V1458.21H300.77zM314.1 1448.78H327.42V1458.21H314.1zM327.42 1448.78H340.74V1458.21H327.42zM340.74 1448.78H354.06V1458.21H340.74zM354.06 1448.78H367.38V1458.21H354.06zM367.38 1448.78H380.7V1458.21H367.38zM220.85 1458.21H234.17V1467.63H220.85zM234.17 1458.21H247.49V1467.63H234.17zM247.49 1458.21H260.81V1467.63H247.49zM260.81 1458.21H274.13V1467.63H260.81zM274.13 1458.21H287.45V1467.63H274.13zM287.45 1458.21H300.77V1467.63H287.45zM300.77 1458.21H314.1V1467.63H300.77zM314.1 1458.21H327.42V1467.63H314.1zM327.42 1458.21H340.74V1467.63H327.42zM340.74 1458.21H354.06V1467.63H340.74zM354.06 1458.21H367.38V1467.63H354.06zM367.38 1458.21H380.7V1467.63H367.38zM220.85 1467.63H234.17V1477.05H220.85zM234.17 1467.63H247.49V1477.05H234.17zM247.49 1467.63H260.81V1477.05H247.49zM260.81 1467.63H274.13V1477.05H260.81zM274.13 1467.63H287.45V1477.05H274.13zM287.45 1467.63H300.77V1477.05H287.45zM300.77 1467.63H314.1V1477.05H300.77zM314.1 1467.63H327.42V1477.05H314.1zM327.42 1467.63H340.74V1477.05H327.42zM340.74 1467.63H354.06V1477.05H340.74zM354.06 1467.63H367.38V1477.05H354.06zM367.38 1467.63H380.7V1477.05H367.38zM220.85 1477.05H234.17V1486.48H220.85zM234.17 1477.05H247.49V1486.48H234.17zM247.49 1477.05H260.81V1486.48H247.49zM260.81 1477.05H274.13V1486.48H260.81zM274.13 1477.05H287.45V1486.48H274.13zM287.45 1477.05H300.77V1486.48H287.45zM300.77 1477.05H314.1V1486.48H300.77zM314.1 1477.05H327.42V1486.48H314.1zM327.42 1477.05H340.74V1486.48H327.42zM340.74 1477.05H354.06V1486.48H340.74zM354.06 1477.05H367.38V1486.48H354.06zM367.38 1477.05H380.7V1486.48H367.38zM220.85 1486.48H234.17V1495.9H220.85zM234.17 1486.48H247.49V1495.9H234.17zM247.49 1486.48H260.81V1495.9H247.49zM260.81 1486.48H274.13V1495.9H260.81zM274.13 1486.48H287.45V1495.9H274.13zM287.45 1486.48H300.77V1495.9H287.45zM327.42 1486.48H340.74V1495.9H327.42zM340.74 1486.48H354.06V1495.9H340.74zM354.06 1486.48H367.38V1495.9H354.06zM367.38 1486.48H380.7V1495.9H367.38zM220.85 1495.9H234.17V1505.33H220.85zM234.17 1495.9H247.49V1505.33H234.17zM247.49 1495.9H260.81V1505.33H247.49zM260.81 1495.9H274.13V1505.33H260.81zM274.13 1495.9H287.45V1505.33H274.13zM287.45 1495.9H300.77V1505.33H287.45zM300.77 1495.9H314.1V1505.33H300.77zM314.1 1495.9H327.42V1505.33H314.1zM327.42 1495.9H340.74V1505.33H327.42zM354.06 1495.9H367.38V1505.33H354.06zM367.38 1495.9H380.7V1505.33H367.38zM220.85 1505.33H234.17V1514.75H220.85zM234.17 1505.33H247.49V1514.75H234.17zM247.49 1505.33H260.81V1514.75H247.49zM260.81 1505.33H274.13V1514.75H260.81zM274.13 1505.33H287.45V1514.75H274.13zM287.45 1505.33H300.77V1514.75H287.45zM300.77 1505.33H314.1V1514.75H300.77zM314.1 1505.33H327.42V1514.75H314.1zM327.42 1505.33H340.74V1514.75H327.42zM340.74 1505.33H354.06V1514.75H340.74zM354.06 1505.33H367.38V1514.75H354.06zM367.38 1505.33H380.7V1514.75H367.38zM234.17 1514.75H247.49V1524.18H234.17zM247.49 1514.75H260.81V1524.18H247.49zM260.81 1514.75H274.13V1524.18H260.81zM287.45 1514.75H300.77V1524.18H287.45zM300.77 1514.75H314.1V1524.18H300.77zM314.1 1514.75H327.42V1524.18H314.1zM327.42 1514.75H340.74V1524.18H327.42zM340.74 1514.75H354.06V1524.18H340.74zM354.06 1514.75H367.38V1524.18H354.06zM367.38 1514.75H380.7V1524.18H367.38zM220.85 1524.18H234.17V1533.6H220.85zM234.17 1524.18H247.49V1533.6H234.17zM247.49 1524.18H260.81V1533.6H247.49zM260.81 1524.18H274.13V1533.6H260.81zM274.13 1524.18H287.45V1533.6H274.13zM287.45 1524.18H300.77V1533.6H287.45zM300.77 1524.18H314.1V1533.6H300.77zM314.1 1524.18H327.42V1533.6H314.1zM327.42 1524.18H340.74V1533.6H327.42zM340.74 1524.18H354.06V1533.6H340.74zM354.06 1524.18H367.38V1533.6H354.06zM367.38 1524.18H380.7V1533.6H367.38z"/>
</g>
<text x="385.1" y="61.46" class="r">CLU</text>
<text x="385.1" y="70.89" class="r">BTN3A3</text>
<text x="385.1" y="80.31" class="r">IGHV4<tspan textLength="4.45" lengthAdjust="spacingAndGlyphs">-</tspan>4</text>
<text x="385.1" y="89.73" class="r">IGHV1<tspan textLength="4.45" lengthAdjust="spacingAndGlyphs">-</tspan>3</text>
<text x="385.1" y="99.16" class="r">IGKV2<tspan textLength="4.45" lengthAdjust="spacingAndGlyphs">-</tspan>29</text>
<text x="385.1" y="108.58" class="r">BTNL9</text>
<text x="385.1" y="118.01" class="r">IGLV3<tspan textLength="4.45" lengthAdjust="spacingAndGlyphs">-</tspan>27</text>
<text x="385.1" y="127.43" class="r">IGHA2</text>
<text x="385.1" y="136.86" class="r">IGLV6<tspan textLength="4.45" lengthAdjust="spacingAndGlyphs">-</tspan>57</text>
<text x="385.1" y="146.28" class="r">IGHV3<tspan textLength="4.45" lengthAdjust="spacingAndGlyphs">-</tspan>20</text>
<text x="385.1" y="155.70" class="r">IGHV3<tspan textLength="4.45" lengthAdjust="spacingAndGlyphs">-</tspan>73</text>
<text x="385.1" y="165.13" class="r">IGHG4</text>
<text x="385.1" y="174.55" class="r">IGKV1<tspan textLength="4.45" lengthAdjust="spacingAndGlyphs">-</tspan>17</text>
<text x="385.1" y="183.98" class="r">IGHV4<tspan textLength="4.45" lengthAdjust="spacingAndGlyphs">-</tspan>28</text>
<text x="385.1" y="193.40" class="r">IGHG2</text>
<text x="385.1" y="202.83" class="r">IGHV3<tspan textLength="4.45" lengthAdjust="spacingAndGlyphs">-</tspan>49</text>
<text x="385.1" y="212.25" class="r">IGHV3<tspan textLength="4.45" lengthAdjust="spacingAndGlyphs">-</tspan>48</text>
<text x="385.1" y="221.67" class="r">IGHV3<tspan textLength="4.45" lengthAdjust="spacingAndGlyphs">-</tspan>7</text>
<text x="385.1" y="231.10" class="r">IGLV2<tspan textLength="4.45" lengthAdjust="spacingAndGlyphs">-</tspan>11</text>
<text x="385.1" y="240.52" class="r">IGHV3<tspan textLength="4.45" lengthAdjust="spacingAndGlyphs">-</tspan>11</text>
<text x="385.1" y="249.95" class="r">IGHV3<tspan textLength="4.45" lengthAdjust="spacingAndGlyphs">-</tspan>43</text>
<text x="385.1" y="259.37" class="r">IGHG3</text>
<text x="385.1" y="268.79" class="r">IGHV3<tspan textLength="4.45" lengthAdjust="spacingAndGlyphs">-</tspan>21</text>
<text x="385.1" y="278.22" class="r">IGLV2<tspan textLength="4.45" lengthAdjust="spacingAndGlyphs">-</tspan>14</text>
<text x="385.1" y="287.64" class="r">IGHV6<tspan textLength="4.45" lengthAdjust="spacingAndGlyphs">-</tspan>1</text>
<text x="385.1" y="297.07" class="r">IGHV2<tspan textLength="4.45" lengthAdjust="spacingAndGlyphs">-</tspan>70</text>
<text x="385.1" y="306.49" class="r">IGHV2<tspan textLength="4.45" lengthAdjust="spacingAndGlyphs">-</tspan>70.1</text>
<text x="385.1" y="315.92" class="r">IGLV2<tspan textLength="4.45" lengthAdjust="spacingAndGlyphs">-</tspan>8</text>
<text x="385.1" y="325.34" class="r">IGLV3<tspan textLength="4.45" lengthAdjust="spacingAndGlyphs">-</tspan>21</text>
<text x="385.1" y="334.76" class="r">IGLV7<tspan textLength="4.45" lengthAdjust="spacingAndGlyphs">-</tspan>43</text>
<text x="385.1" y="344.19" class="r">IGLC1</text>
<text x="385.1" y="353.61" class="r">IGLV3<tspan textLength="4.45" lengthAdjust="spacingAndGlyphs">-</tspan>1</text>
<text x="385.1" y="363.04" class="r">IGHV4<tspan textLength="4.45" lengthAdjust="spacingAndGlyphs">-</tspan>61</text>
<text x="385.1" y="372.46" class="r">IGHV1<tspan textLength="4.45" lengthAdjust="spacingAndGlyphs">-</tspan>58</text>
<text x="385.1" y="381.89" class="r">IGHV1<tspan textLength="4.45" lengthAdjust="spacingAndGlyphs">-</tspan>69<tspan textLength="4.45" lengthAdjust="spacingAndGlyphs">-</tspan>2</text>
<text x="385.1" y="391.31" class="r">IGKV3<tspan textLength="4.45" lengthAdjust="spacingAndGlyphs">-</tspan>15</text>
<text x="385.1" y="400.73" class="r">IGLL5</text>
<text x="385.1" y="410.16" class="r">IGLC3</text>
<text x="385.1" y="419.58" class="r">IGKV3<tspan textLength="4.45" lengthAdjust="spacingAndGlyphs">-</tspan>20</text>
<text x="385.1" y="429.01" class="r">IGKV4<tspan textLength="4.45" lengthAdjust="spacingAndGlyphs">-</tspan>1</text>
<text x="385.1" y="438.43" class="r">IGLV1<tspan textLength="4.45" lengthAdjust="spacingAndGlyphs">-</tspan>47</text>
<text x="385.1" y="447.85" class="r">IGHG1</text>
<text x="385.1" y="457.28" class="r">IGKV1<tspan textLength="4.45" lengthAdjust="spacingAndGlyphs">-</tspan>5</text>
<text x="385.1" y="466.70" class="r">IGHV3<tspan textLength="4.45" lengthAdjust="spacingAndGlyphs">-</tspan>33</text>
<text x="385.1" y="476.13" class="r">IGHV4<tspan textLength="4.45" lengthAdjust="spacingAndGlyphs">-</tspan>59</text>
<text x="385.1" y="485.55" class="r">IGHV3<tspan textLength="4.45" lengthAdjust="spacingAndGlyphs">-</tspan>15</text>
<text x="385.1" y="494.98" class="r">IGHV3<tspan textLength="4.45" lengthAdjust="spacingAndGlyphs">-</tspan>74</text>
<text x="385.1" y="504.40" class="r">IGKC</text>
<text x="385.1" y="513.82" class="r">IGHV2<tspan textLength="4.45" lengthAdjust="spacingAndGlyphs">-</tspan>26</text>
<text x="385.1" y="523.25" class="r">IGHA1</text>
<text x="385.1" y="532.67" class="r">IGLV2<tspan textLength="4.45" lengthAdjust="spacingAndGlyphs">-</tspan>23</text>
<text x="385.1" y="542.10" class="r">IGHV2<tspan textLength="4.45" lengthAdjust="spacingAndGlyphs">-</tspan>5</text>
<text x="385.1" y="551.52" class="r">IGLC2</text>
<text x="385.1" y="560.94" class="r">IGLV1<tspan textLength="4.45" lengthAdjust="spacingAndGlyphs">-</tspan>40</text>
<text x="385.1" y="570.37" class="r">IGLV1<tspan textLength="4.45" lengthAdjust="spacingAndGlyphs">-</tspan>51</text>
<text x="385.1" y="579.79" class="r">IGLV3<tspan textLength="4.45" lengthAdjust="spacingAndGlyphs">-</tspan>25</text>
<text x="385.1" y="589.22" class="r">IGHV4<tspan textLength="4.45" lengthAdjust="spacingAndGlyphs">-</tspan>39</text>
<text x="385.1" y="598.64" class="r">IGHV1<tspan textLength="4.45" lengthAdjust="spacingAndGlyphs">-</tspan>18</text>
<text x="385.1" y="608.07" class="r">IGHV5<tspan textLength="4.45" lengthAdjust="spacingAndGlyphs">-</tspan>51</text>
<text x="385.1" y="617.49" class="r">IGLV1<tspan textLength="4.45" lengthAdjust="spacingAndGlyphs">-</tspan>44</text>
<text x="385.1" y="626.91" class="r">IGLV3<tspan textLength="4.45" lengthAdjust="spacingAndGlyphs">-</tspan>19</text>
<text x="385.1" y="636.34" class="r">IGLC7</text>
<text x="385.1" y="645.76" class="r">IGHV3<tspan textLength="4.45" lengthAdjust="spacingAndGlyphs">-</tspan>30</text>
<text x="385.1" y="655.19" class="r">IGHV4<tspan textLength="4.45" lengthAdjust="spacingAndGlyphs">-</tspan>31</text>
<text x="385.1" y="664.61" class="r">IGKV2<tspan textLength="4.45" lengthAdjust="spacingAndGlyphs">-</tspan>30</text>
<text x="385.1" y="674.04" class="r">CR2</text>
<text x="385.1" y="683.46" class="r">PAX5</text>
<text x="385.1" y="692.88" class="r">HLA<tspan textLength="4.45" lengthAdjust="spacingAndGlyphs">-</tspan>DRA</text>
<text x="385.1" y="702.31" class="r">MS4A1</text>
<text x="385.1" y="711.73" class="r">IGHD</text>
<text x="385.1" y="721.16" class="r">STAP1</text>
<text x="385.1" y="730.58" class="r">BLK</text>
<text x="385.1" y="740.00" class="r">HLA<tspan textLength="4.45" lengthAdjust="spacingAndGlyphs">-</tspan>DQA1</text>
<text x="385.1" y="749.43" class="r">VAV2</text>
<text x="385.1" y="758.85" class="r">CD79B</text>
<text x="385.1" y="768.28" class="r">CD22</text>
<text x="385.1" y="777.70" class="r">BLNK</text>
<text x="385.1" y="787.13" class="r">CD79A</text>
<text x="385.1" y="796.55" class="r">IGHM</text>
<text x="385.1" y="805.97" class="r">HLA<tspan textLength="4.45" lengthAdjust="spacingAndGlyphs">-</tspan>DRB5</text>
<text x="385.1" y="815.40" class="r">PAWR</text>
<text x="385.1" y="824.82" class="r">HLA<tspan textLength="4.45" lengthAdjust="spacingAndGlyphs">-</tspan>DPA1</text>
<text x="385.1" y="834.25" class="r">HLA<tspan textLength="4.45" lengthAdjust="spacingAndGlyphs">-</tspan>DRB1</text>
<text x="385.1" y="843.67" class="r">IGHV4<tspan textLength="4.45" lengthAdjust="spacingAndGlyphs">-</tspan>34</text>
<text x="385.1" y="853.10" class="r">IGHV3<tspan textLength="4.45" lengthAdjust="spacingAndGlyphs">-</tspan>23</text>
<text x="385.1" y="862.52" class="r">IGHV3<tspan textLength="4.45" lengthAdjust="spacingAndGlyphs">-</tspan>53</text>
<text x="385.1" y="871.94" class="r">MUC1</text>
<text x="385.1" y="881.37" class="r">CMKLR1</text>
<text x="385.1" y="890.79" class="r">GCSAML</text>
<text x="385.1" y="900.22" class="r">FCRL3</text>
<text x="385.1" y="909.64" class="r">HLA<tspan textLength="4.45" lengthAdjust="spacingAndGlyphs">-</tspan>DPB1</text>
<text x="385.1" y="919.06" class="r">CFH</text>
<text x="385.1" y="928.49" class="r">CD4</text>
<text x="385.1" y="937.91" class="r">CCR7</text>
<text x="385.1" y="947.34" class="r">TXK</text>
<text x="385.1" y="956.76" class="r">ADA</text>
<text x="385.1" y="966.19" class="r">MYO1G</text>
<text x="385.1" y="975.61" class="r">PYHIN1</text>
<text x="385.1" y="985.03" class="r">FOXP3</text>
<text x="385.1" y="994.46" class="r">CD226</text>
<text x="385.1" y="1003.88" class="r">GRAP2</text>
<text x="385.1" y="1013.31" class="r">EIF2B3</text>
<text x="385.1" y="1022.73" class="r">FYN</text>
<text x="385.1" y="1032.16" class="r">SKAP1</text>
<text x="385.1" y="1041.58" class="r">ZAP70</text>
<text x="385.1" y="1051.00" class="r">PRKACB</text>
<text x="385.1" y="1060.43" class="r">CD3G</text>
<text x="385.1" y="1069.85" class="r">LCK</text>
<text x="385.1" y="1079.28" class="r">CD81</text>
<text x="385.1" y="1088.70" class="r">LAX1</text>
<text x="385.1" y="1098.12" class="r">NFATC2</text>
<text x="385.1" y="1107.55" class="r">GATA3</text>
<text x="385.1" y="1116.97" class="r">CARD11</text>
<text x="385.1" y="1126.40" class="r">PLEKHA1</text>
<text x="385.1" y="1135.82" class="r">CD247</text>
<text x="385.1" y="1145.25" class="r">PHB</text>
<text x="385.1" y="1154.67" class="r">ICAM2</text>
<text x="385.1" y="1164.09" class="r">TRBC2</text>
<text x="385.1" y="1173.52" class="r">PRNP</text>
<text x="385.1" y="1182.94" class="r">HSP90AB1</text>
<text x="385.1" y="1192.37" class="r">BCL2</text>
<text x="385.1" y="1201.79" class="r">TRAT1</text>
<text x="385.1" y="1211.21" class="r">IGKV1<tspan textLength="4.45" lengthAdjust="spacingAndGlyphs">-</tspan>16</text>
<text x="385.1" y="1220.64" class="r">IGKV3D<tspan textLength="4.45" lengthAdjust="spacingAndGlyphs">-</tspan>20</text>
<text x="385.1" y="1230.06" class="r">C4BPA</text>
<text x="385.1" y="1239.49" class="r">NR4A3</text>
<text x="385.1" y="1248.91" class="r">C2</text>
<text x="385.1" y="1258.34" class="r">LILRB4</text>
<text x="385.1" y="1267.76" class="r">CFD</text>
<text x="385.1" y="1277.18" class="r">BTNL3</text>
<text x="385.1" y="1286.61" class="r">CR1L</text>
<text x="385.1" y="1296.03" class="r">C1QA</text>
<text x="385.1" y="1305.46" class="r">C1QB</text>
<text x="385.1" y="1314.88" class="r">LGALS3</text>
<text x="385.1" y="1324.31" class="r">NOD2</text>
<text x="385.1" y="1333.73" class="r">HEXIM1</text>
<text x="385.1" y="1343.15" class="r">KRAS</text>
<text x="385.1" y="1352.58" class="r">PLCL2</text>
<text x="385.1" y="1362.00" class="r">TAB2</text>
<text x="385.1" y="1371.43" class="r">CD300A</text>
<text x="385.1" y="1380.85" class="r">SYK</text>
<text x="385.1" y="1390.27" class="r">FCER1G</text>
<text x="385.1" y="1399.70" class="r">CLEC4A</text>
<text x="385.1" y="1409.12" class="r">CR1</text>
<text x="385.1" y="1418.55" class="r">FCN1</text>
<text x="385.1" y="1427.97" class="r">CD59</text>
<text x="385.1" y="1437.40" class="r">DUSP3</text>
<text x="385.1" y="1446.82" class="r">AIM2</text>
<text x="385.1" y="1456.24" class="r">GBP1</text>
<text x="385.1" y="1465.67" class="r">CLEC4D</text>
<text x="385.1" y="1475.09" class="r">IFI16</text>
<text x="385.1" y="1484.52" class="r">PLSCR1</text>
<text x="385.1" y="1493.94" class="r">FCGR2B</text>
<text x="385.1" y="1503.37" class="r">C3AR1</text>
<text x="385.1" y="1512.79" class="r">NECTIN2</text>
<text x="385.1" y="1522.21" class="r">LIMK1</text>
<text x="385.1" y="1531.64" class="r">SERPING1</text>
<text transform="translate(64.96,1538.2) rotate(90)" class="c">NLR_Low_N_1</text>
<text transform="translate(78.28,1538.2) rotate(90)" class="c">NLR_Low_N_2</text>
<text transform="translate(91.60,1538.2) rotate(90)" class="c">NLR_Low_N_3</text>
<text transform="translate(104.92,1538.2) rotate(90)" class="c">NLR_Low_N_4</text>
<text transform="translate(118.24,1538.2) rotate(90)" class="c">NLR_Low_N_5</text>
<text transform="translate(131.56,1538.2) rotate(90)" class="c">NLR_Low_N_6</text>
<text transform="translate(144.89,1538.2) rotate(90)" class="c">NLR_High_N_1</text>
<text transform="translate(158.21,1538.2) rotate(90)" class="c">NLR_High_N_2</text>
<text transform="translate(171.53,1538.2) rotate(90)" class="c">NLR_High_N_3</text>
<text transform="translate(184.85,1538.2) rotate(90)" class="c">NLR_High_N_4</text>
<text transform="translate(198.17,1538.2) rotate(90)" class="c">NLR_High_N_5</text>
<text transform="translate(211.49,1538.2) rotate(90)" class="c">NLR_High_N_6</text>
<text transform="translate(224.81,1538.2) rotate(90)" class="c">NLR_Low_L_1</text>
<text transform="translate(238.13,1538.2) rotate(90)" class="c">NLR_Low_L_2</text>
<text transform="translate(251.45,1538.2) rotate(90)" class="c">NLR_Low_L_3</text>
<text transform="translate(264.77,1538.2) rotate(90)" class="c">NLR_Low_L_4</text>
<text transform="translate(278.09,1538.2) rotate(90)" class="c">NLR_Low_L_5</text>
<text transform="translate(291.41,1538.2) rotate(90)" class="c">NLR_Low_L_6</text>
<text transform="translate(304.74,1538.2) rotate(90)" class="c">NLR_High_L_1</text>
<text transform="translate(318.06,1538.2) rotate(90)" class="c">NLR_High_L_2</text>
<text transform="translate(331.38,1538.2) rotate(90)" class="c">NLR_High_L_3</text>
<text transform="translate(344.70,1538.2) rotate(90)" class="c">NLR_High_L_4</text>
<text transform="translate(358.02,1538.2) rotate(90)" class="c">NLR_High_L_5</text>
<text transform="translate(371.34,1538.2) rotate(90)" class="c">NLR_High_L_6</text>
<defs><linearGradient id="g1" x1="0" y1="0" x2="0" y2="1"><stop offset="0.000" stop-color="#cd0d2b"/><stop offset="0.191" stop-color="#d11029"/><stop offset="0.231" stop-color="#de2e37"/><stop offset="0.257" stop-color="#e6463e"/><stop offset="0.284" stop-color="#eb5d46"/><stop offset="0.311" stop-color="#ef744f"/><stop offset="0.337" stop-color="#f1875a"/><stop offset="0.371" stop-color="#f49f79"/><stop offset="0.404" stop-color="#f6b494"/><stop offset="0.437" stop-color="#f8c7af"/><stop offset="0.471" stop-color="#fad7c6"/><stop offset="0.524" stop-color="#fbe7df"/><stop offset="0.604" stop-color="#f5f4f3"/><stop offset="0.670" stop-color="#e1eef4"/><stop offset="0.737" stop-color="#c8e2ee"/><stop offset="0.777" stop-color="#a0d0e8"/><stop offset="0.804" stop-color="#80c0e0"/><stop offset="0.837" stop-color="#4ea9d8"/><stop offset="0.870" stop-color="#2b95cc"/><stop offset="0.937" stop-color="#1580c0"/><stop offset="1.000" stop-color="#0e6cb0"/></linearGradient></defs>
<rect x="439.9" y="31.2" width="11.2" height="171.9" fill="url(#g1)"/>
<text x="456.4" y="46.10" class="s">4</text>
<text x="456.4" y="69.00" class="s">3</text>
<text x="456.4" y="91.90" class="s">2</text>
<text x="456.4" y="114.80" class="s">1</text>
<text x="456.4" y="137.70" class="s">0</text>
<text x="456.4" y="160.60" class="s"><tspan textLength="4.2" lengthAdjust="spacingAndGlyphs">-</tspan>1</text>
<text x="456.4" y="183.50" class="s"><tspan textLength="4.2" lengthAdjust="spacingAndGlyphs">-</tspan>2</text>
<text x="456.4" y="206.40" class="s"><tspan textLength="4.2" lengthAdjust="spacingAndGlyphs">-</tspan>3</text>
<text x="464.3" y="35.7" class="s">Type</text>
<rect x="464.1" y="40.6" width="11.9" height="11.4" fill="#d3132e"/>
<rect x="464.1" y="52" width="11.9" height="11.5" fill="#1a65ae"/>
<text x="480.4" y="49.1" class="s">Lymphocyte</text>
<text x="480.4" y="60.3" class="s">Neutrophil</text>
<text x="464.3" y="76.4" class="s">Level</text>
<rect x="464.1" y="81.9" width="11.9" height="11.3" fill="#d3132e"/>
<rect x="464.1" y="93.1" width="11.9" height="11.3" fill="#1a65ae"/>
<text x="480.4" y="90.3" class="s">High</text>
<text x="480.4" y="101.4" class="s">Low</text>
<path d="M50.30,86.98H61.00M50.30,96.41H61.00M50.30,86.98V96.41M47.10,77.56H61.00M47.10,91.70H50.30M47.10,77.56V91.70M49.20,105.83H61.00M49.20,115.26H61.00M49.20,105.83V115.26M54.50,143.53H61.00M54.50,152.95H61.00M54.50,143.53V152.95M51.10,134.11H61.00M51.10,148.24H54.50M51.10,134.11V148.24M50.30,124.68H61.00M50.30,141.17H51.10M50.30,124.68V141.17M53.50,190.65H61.00M53.50,200.08H61.00M53.50,190.65V200.08M49.20,181.23H61.00M49.20,195.36H53.50M49.20,181.23V195.36M47.90,171.80H61.00M47.90,188.29H49.20M47.90,171.80V188.29M47.10,162.38H61.00M47.10,180.05H47.90M47.10,162.38V180.05M56.30,218.92H61.00M56.30,228.35H61.00M56.30,218.92V228.35M53.10,209.50H61.00M53.10,223.64H56.30M53.10,209.50V223.64M54.30,237.77H61.00M54.30,247.20H61.00M54.30,237.77V247.20M56.30,266.04H61.00M56.30,275.47H61.00M56.30,266.04V275.47M53.10,256.62H61.00M53.10,270.76H56.30M53.10,256.62V270.76M50.70,242.48H54.30M50.70,263.69H53.10M50.70,242.48V263.69M47.30,216.57H53.10M47.30,253.09H50.70M47.30,216.57V253.09M54.30,303.74H61.00M54.30,313.17H61.00M54.30,303.74V313.17M50.20,294.32H61.00M50.20,308.45H54.30M50.20,294.32V308.45M55.60,341.44H61.00M55.60,350.86H61.00M55.60,341.44V350.86M53.50,332.01H61.00M53.50,346.15H55.60M53.50,332.01V346.15M58.40,388.56H61.00M58.40,397.98H61.00M58.40,388.56V397.98M54.70,379.14H61.00M54.70,393.27H58.40M54.70,379.14V393.27M53.20,369.71H61.00M53.20,386.20H54.70M53.20,369.71V386.20M52.90,360.29H61.00M52.90,377.96H53.20M52.90,360.29V377.96M52.70,339.08H53.50M52.70,369.12H52.90M52.70,339.08V369.12M57.40,416.83H61.00M57.40,426.26H61.00M57.40,416.83V426.26M56.20,407.41H61.00M56.20,421.54H57.40M56.20,407.41V421.54M58.20,445.10H61.00M58.20,454.53H61.00M58.20,445.10V454.53M55.10,435.68H61.00M55.10,449.82H58.20M55.10,435.68V449.82M58.50,492.23H61.00M58.50,501.65H61.00M58.50,492.23V501.65M55.50,482.80H61.00M55.50,496.94H58.50M55.50,482.80V496.94M55.00,473.38H61.00M55.00,489.87H55.50M55.00,473.38V489.87M54.50,463.95H61.00M54.50,481.62H55.00M54.50,463.95V481.62M54.00,442.75H55.10M54.00,472.79H54.50M54.00,442.75V472.79M53.20,414.48H56.20M53.20,457.77H54.00M53.20,414.48V457.77M55.50,520.50H61.00M55.50,529.92H61.00M55.50,520.50V529.92M58.20,558.19H61.00M58.20,567.62H61.00M58.20,558.19V567.62M57.40,548.77H61.00M57.40,562.91H58.20M57.40,548.77V562.91M55.80,539.35H61.00M55.80,555.84H57.40M55.80,539.35V555.84M58.90,595.89H61.00M58.90,605.32H61.00M58.90,595.89V605.32M56.50,586.47H61.00M56.50,600.60H58.90M56.50,586.47V600.60M58.50,614.74H61.00M58.50,624.16H61.00M58.50,614.74V624.16M55.80,593.54H56.50M55.80,619.45H58.50M55.80,593.54V619.45M54.70,577.04H61.00M54.70,606.49H55.80M54.70,577.04V606.49M53.00,547.59H55.80M53.00,591.77H54.70M53.00,547.59V591.77M52.40,525.21H55.50M52.40,569.68H53.00M52.40,525.21V569.68M51.60,511.07H61.00M51.60,547.45H52.40M51.60,511.07V547.45M51.20,436.12H53.20M51.20,529.26H51.60M51.20,436.12V529.26M49.40,354.10H52.70M49.40,482.69H51.20M49.40,354.10V482.69M47.80,322.59H61.00M47.80,418.40H49.40M47.80,322.59V418.40M46.30,301.39H50.20M46.30,370.49H47.80M46.30,301.39V370.49M45.00,284.89H61.00M45.00,335.94H46.30M45.00,284.89V335.94M44.20,234.83H47.30M44.20,310.42H45.00M44.20,234.83V310.42M42.90,171.21H47.10M42.90,272.62H44.20M42.90,171.21V272.62M41.80,132.93H50.30M41.80,221.92H42.90M41.80,132.93V221.92M55.50,643.01H61.00M55.50,652.44H61.00M55.50,643.01V652.44M48.90,633.59H61.00M48.90,647.72H55.50M48.90,633.59V647.72M57.80,671.29H61.00M57.80,680.71H61.00M57.80,671.29V680.71M59.30,727.83H61.00M59.30,737.25H61.00M59.30,727.83V737.25M59.60,746.68H61.00M59.60,756.10H61.00M59.60,746.68V756.10M59.80,765.53H61.00M59.80,774.95H61.00M59.80,765.53V774.95M59.90,784.38H61.00M59.90,793.80H61.00M59.90,784.38V793.80M59.00,770.24H59.80M59.00,789.09H59.90M59.00,770.24V789.09M58.80,751.39H59.60M58.80,779.66H59.00M58.80,751.39V779.66M58.60,732.54H59.30M58.60,765.53H58.80M58.60,732.54V765.53M58.30,718.41H61.00M58.30,749.04H58.60M58.30,718.41V749.04M58.10,708.98H61.00M58.10,733.72H58.30M58.10,708.98V733.72M57.90,699.56H61.00M57.90,721.35H58.10M57.90,699.56V721.35M57.60,690.13H61.00M57.60,710.45H57.90M57.60,690.13V710.45M57.20,676.00H57.80M57.20,700.29H57.60M57.20,676.00V700.29M57.70,822.07H61.00M57.70,831.50H61.00M57.70,822.07V831.50M54.90,812.65H61.00M54.90,826.78H57.70M54.90,812.65V826.78M53.50,803.22H61.00M53.50,819.72H54.90M53.50,803.22V819.72M53.20,688.15H57.20M53.20,811.47H53.50M53.20,688.15V811.47M54.40,850.35H61.00M54.40,859.77H61.00M54.40,850.35V859.77M52.50,840.92H61.00M52.50,855.06H54.40M52.50,840.92V855.06M50.20,749.81H53.20M50.20,847.99H52.50M50.20,749.81V847.99M48.50,661.86H61.00M48.50,798.90H50.20M48.50,661.86V798.90M46.20,640.66H48.90M46.20,730.38H48.50M46.20,640.66V730.38M56.70,897.47H61.00M56.70,906.89H61.00M56.70,897.47V906.89M57.71,935.16H61.00M57.71,944.59H61.00M57.71,935.16V944.59M59.09,972.86H61.00M59.09,982.28H61.00M59.09,972.86V982.28M60.41,1029.41H61.00M60.41,1038.83H61.00M60.41,1029.41V1038.83M60.60,1076.53H61.00M60.60,1085.95H61.00M60.60,1076.53V1085.95M60.60,1133.07H61.00M60.60,1142.50H61.00M60.60,1133.07V1142.50M60.60,1180.19H61.00M60.60,1189.62H61.00M60.60,1180.19V1189.62M60.00,1184.90H60.60M60.00,1199.04H61.00M60.00,1184.90V1199.04M59.86,1170.77H61.00M59.86,1191.97H60.00M59.86,1170.77V1191.97M59.73,1161.34H61.00M59.73,1181.37H59.86M59.73,1161.34V1181.37M59.59,1151.92H61.00M59.59,1171.36H59.73M59.59,1151.92V1171.36M59.45,1137.78H60.60M59.45,1161.64H59.59M59.45,1137.78V1161.64M59.31,1123.65H61.00M59.31,1149.71H59.45M59.31,1123.65V1149.71M59.17,1114.22H61.00M59.17,1136.68H59.31M59.17,1114.22V1136.68M59.04,1104.80H61.00M59.04,1125.45H59.17M59.04,1104.80V1125.45M58.90,1095.37H61.00M58.90,1115.12H59.04M58.90,1095.37V1115.12M58.76,1081.24H60.60M58.76,1105.25H58.90M58.76,1081.24V1105.25M58.62,1067.10H61.00M58.62,1093.24H58.76M58.62,1067.10V1093.24M58.49,1057.68H61.00M58.49,1080.17H58.62M58.49,1057.68V1080.17M58.35,1048.25H61.00M58.35,1068.93H58.49M58.35,1048.25V1068.93M58.21,1034.12H60.41M58.21,1058.59H58.35M58.21,1034.12V1058.59M58.07,1019.98H61.00M58.07,1046.35H58.21M58.07,1019.98V1046.35M57.94,1010.56H61.00M57.94,1033.17H58.07M57.94,1010.56V1033.17M57.80,1001.13H61.00M57.80,1021.86H57.94M57.80,1001.13V1021.86M57.34,991.71H61.00M57.34,1011.50H57.80M57.34,991.71V1011.50M56.89,977.57H59.09M56.89,1001.60H57.34M56.89,977.57V1001.60M56.43,963.44H61.00M56.43,989.59H56.89M56.43,963.44V989.59M55.97,954.01H61.00M55.97,976.51H56.43M55.97,954.01V976.51M55.51,939.88H57.71M55.51,965.26H55.97M55.51,939.88V965.26M55.06,925.74H61.00M55.06,952.57H55.51M55.06,925.74V952.57M54.60,916.31H61.00M54.60,939.15H55.06M54.60,916.31V939.15M54.20,902.18H56.70M54.20,927.73H54.60M54.20,902.18V927.73M53.80,888.04H61.00M53.80,914.96H54.20M53.80,888.04V914.96M50.50,878.62H61.00M50.50,901.50H53.80M50.50,878.62V901.50M49.50,1208.46H61.00M49.50,1217.89H61.00M49.50,1208.46V1217.89M44.70,890.06H50.50M44.70,1213.18H49.50M44.70,890.06V1213.18M41.70,869.19H61.00M41.70,1051.62H44.70M41.70,869.19V1051.62M41.20,685.52H46.20M41.20,960.41H41.70M41.20,685.52V960.41M37.50,177.42H41.80M37.50,822.96H41.20M37.50,177.42V822.96M36.20,110.55H49.20M36.20,500.19H37.50M36.20,110.55V500.19M32.90,84.63H47.10M32.90,305.37H36.20M32.90,84.63V305.37M32.10,68.14H61.00M32.10,195.00H32.90M32.10,68.14V195.00M27.30,58.71H61.00M27.30,131.57H32.10M27.30,58.71V131.57M51.50,1227.31H61.00M51.50,1236.74H61.00M51.50,1227.31V1236.74M44.10,1246.16H61.00M44.10,1255.59H61.00M44.10,1246.16V1255.59M42.30,1232.03H51.50M42.30,1250.87H44.10M42.30,1232.03V1250.87M45.30,1274.43H61.00M45.30,1283.86H61.00M45.30,1274.43V1283.86M54.30,1293.28H61.00M54.30,1302.71H61.00M54.30,1293.28V1302.71M60.00,1330.98H61.00M60.00,1340.40H61.00M60.00,1330.98V1340.40M59.70,1368.68H61.00M59.70,1378.10H61.00M59.70,1368.68V1378.10M59.00,1359.25H61.00M59.00,1373.39H59.70M59.00,1359.25V1373.39M58.50,1349.83H61.00M58.50,1366.32H59.00M58.50,1349.83V1366.32M57.40,1335.69H60.00M57.40,1358.07H58.50M57.40,1335.69V1358.07M59.40,1396.95H61.00M59.40,1406.37H61.00M59.40,1396.95V1406.37M56.50,1387.52H61.00M56.50,1401.66H59.40M56.50,1387.52V1401.66M55.30,1346.88H57.40M55.30,1394.59H56.50M55.30,1346.88V1394.59M52.10,1321.56H61.00M52.10,1370.74H55.30M52.10,1321.56V1370.74M56.50,1425.22H61.00M56.50,1434.65H61.00M56.50,1425.22V1434.65M55.20,1415.80H61.00M55.20,1429.93H56.50M55.20,1415.80V1429.93M59.20,1444.07H61.00M59.20,1453.49H61.00M59.20,1444.07V1453.49M59.50,1472.34H61.00M59.50,1481.77H61.00M59.50,1472.34V1481.77M57.50,1462.92H61.00M57.50,1477.05H59.50M57.50,1462.92V1477.05M54.80,1448.78H59.20M54.80,1469.99H57.50M54.80,1448.78V1469.99M51.30,1422.87H55.20M51.30,1459.38H54.80M51.30,1422.87V1459.38M59.20,1519.46H61.00M59.20,1528.89H61.00M59.20,1519.46V1528.89M55.70,1510.04H61.00M55.70,1524.18H59.20M55.70,1510.04V1524.18M52.60,1500.62H61.00M52.60,1517.11H55.70M52.60,1500.62V1517.11M48.60,1491.19H61.00M48.60,1508.86H52.60M48.60,1491.19V1508.86M48.20,1441.12H51.30M48.20,1500.03H48.60M48.20,1441.12V1500.03M44.60,1346.15H52.10M44.60,1470.58H48.20M44.60,1346.15V1470.58M39.60,1312.13H61.00M39.60,1408.36H44.60M39.60,1312.13V1408.36M35.80,1297.99H54.30M35.80,1360.25H39.60M35.80,1297.99V1360.25M33.40,1279.15H45.30M33.40,1329.12H35.80M33.40,1279.15V1329.12M31.00,1265.01H61.00M31.00,1304.13H33.40M31.00,1265.01V1304.13M26.20,1241.45H42.30M26.20,1284.57H31.00M26.20,1241.45V1284.57M0.60,95.14H27.30M0.60,1263.01H26.20M0.60,95.14V1263.01M0.60,679.08H0.60" fill="none" stroke="#161616" stroke-width="1" stroke-linecap="square"/>
</svg></body></html>
